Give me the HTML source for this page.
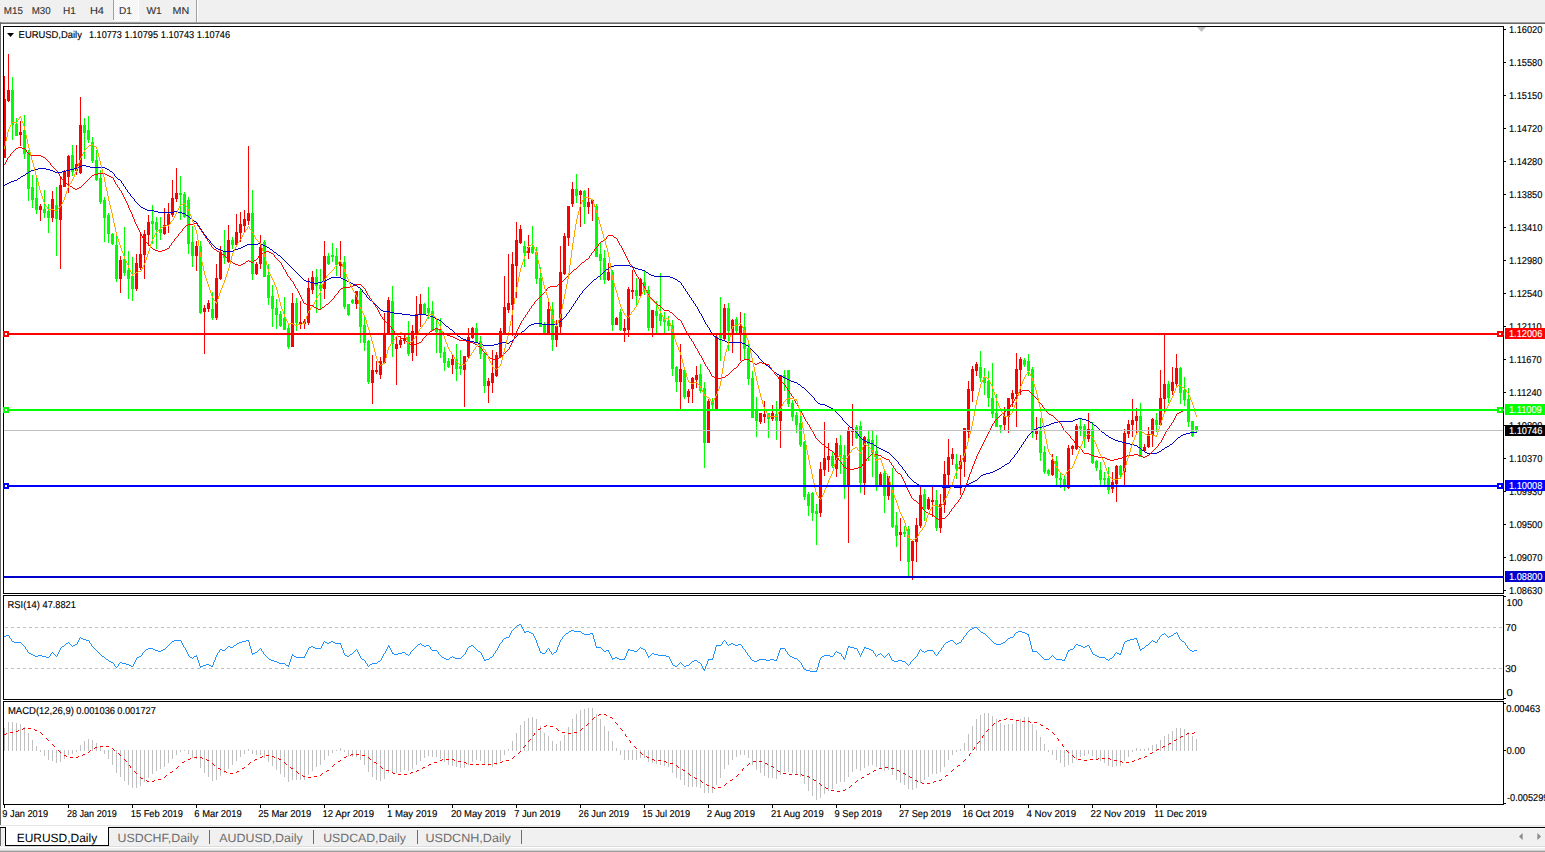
<!DOCTYPE html>
<html><head><meta charset="utf-8"><title>EURUSD,Daily</title>
<style>html,body{margin:0;padding:0;background:#fff;}body{width:1545px;height:852px;overflow:hidden;font-family:"Liberation Sans",sans-serif;}svg{display:block;}</style>
</head><body>
<svg width="1545" height="852" viewBox="0 0 1545 852" font-family="&quot;Liberation Sans&quot;, sans-serif" text-rendering="geometricPrecision"><rect x="0" y="0" width="1545" height="852" fill="#ffffff"/>
<rect x="0" y="0" width="1545" height="22" fill="#f0f0f0"/>
<rect x="0" y="22" width="1545" height="1" fill="#a0a0a0"/>
<rect x="0" y="23" width="1545" height="1" fill="#696969"/>
<rect x="0" y="22" width="1" height="803" fill="#696969"/>
<defs><pattern id="dith" width="2" height="2" patternUnits="userSpaceOnUse"><rect width="2" height="2" fill="#f0f0f0"/><rect width="1" height="1" fill="#ffffff"/><rect x="1" y="1" width="1" height="1" fill="#ffffff"/></pattern></defs>
<rect x="114" y="0" width="24" height="20" fill="url(#dith)"/>
<rect x="113" y="0" width="1" height="20" fill="#a0a0a0"/>
<rect x="138" y="0" width="1" height="21" fill="#ffffff"/>
<rect x="113" y="20" width="26" height="1" fill="#ffffff"/>
<rect x="196" y="0" width="1" height="22" fill="#a0a0a0"/>
<rect x="197" y="0" width="1" height="22" fill="#ffffff"/>
<text transform="translate(3.82,14) scale(0.9817,1.0)" font-size="10" fill="#333333" stroke="#333333" stroke-width="0.12">M15</text>
<text transform="translate(31.76,14) scale(0.9706,1.0)" font-size="10" fill="#333333" stroke="#333333" stroke-width="0.12">M30</text>
<text transform="translate(63.07,14) scale(1.0068,1.0)" font-size="10" fill="#333333" stroke="#333333" stroke-width="0.12">H1</text>
<text transform="translate(89.91,14) scale(1.0988,1.0)" font-size="10" fill="#333333" stroke="#333333" stroke-width="0.12">H4</text>
<text transform="translate(118.90,14) scale(1.0108,1.0)" font-size="10" fill="#333333" stroke="#333333" stroke-width="0.12">D1</text>
<text transform="translate(146.48,14) scale(1.0215,1.0)" font-size="10" fill="#333333" stroke="#333333" stroke-width="0.12">W1</text>
<text transform="translate(172.62,14) scale(1.0714,1.0)" font-size="10" fill="#333333" stroke="#333333" stroke-width="0.12">MN</text>
<rect x="3" y="26" width="1501" height="1" fill="#000"/>
<rect x="3" y="593" width="1501" height="1" fill="#000"/>
<rect x="3" y="26" width="1" height="568" fill="#000"/>
<rect x="1503" y="26" width="1" height="568" fill="#000"/>
<rect x="3" y="595" width="1501" height="1" fill="#000"/>
<rect x="3" y="699" width="1501" height="1" fill="#000"/>
<rect x="3" y="595" width="1" height="105" fill="#000"/>
<rect x="1503" y="595" width="1" height="105" fill="#000"/>
<rect x="3" y="701" width="1501" height="1" fill="#000"/>
<rect x="3" y="804" width="1501" height="1" fill="#000"/>
<rect x="3" y="701" width="1" height="104" fill="#000"/>
<rect x="1503" y="701" width="1" height="104" fill="#000"/>
<rect x="1504" y="29" width="2" height="1" fill="#000"/>
<text transform="translate(1508.97,33) scale(0.9248,1.0)" font-size="10" fill="#000" stroke="#000" stroke-width="0.14">1.16020</text>
<rect x="1504" y="62" width="2" height="1" fill="#000"/>
<text transform="translate(1508.97,66) scale(0.9248,1.0)" font-size="10" fill="#000" stroke="#000" stroke-width="0.14">1.15580</text>
<rect x="1504" y="95" width="2" height="1" fill="#000"/>
<text transform="translate(1508.97,99) scale(0.9248,1.0)" font-size="10" fill="#000" stroke="#000" stroke-width="0.14">1.15150</text>
<rect x="1504" y="128" width="2" height="1" fill="#000"/>
<text transform="translate(1508.97,132) scale(0.9248,1.0)" font-size="10" fill="#000" stroke="#000" stroke-width="0.14">1.14720</text>
<rect x="1504" y="161" width="2" height="1" fill="#000"/>
<text transform="translate(1508.97,165) scale(0.9248,1.0)" font-size="10" fill="#000" stroke="#000" stroke-width="0.14">1.14280</text>
<rect x="1504" y="194" width="2" height="1" fill="#000"/>
<text transform="translate(1508.97,198) scale(0.9248,1.0)" font-size="10" fill="#000" stroke="#000" stroke-width="0.14">1.13850</text>
<rect x="1504" y="227" width="2" height="1" fill="#000"/>
<text transform="translate(1508.97,231) scale(0.9248,1.0)" font-size="10" fill="#000" stroke="#000" stroke-width="0.14">1.13410</text>
<rect x="1504" y="260" width="2" height="1" fill="#000"/>
<text transform="translate(1508.97,264) scale(0.9248,1.0)" font-size="10" fill="#000" stroke="#000" stroke-width="0.14">1.12980</text>
<rect x="1504" y="293" width="2" height="1" fill="#000"/>
<text transform="translate(1508.97,297) scale(0.9248,1.0)" font-size="10" fill="#000" stroke="#000" stroke-width="0.14">1.12540</text>
<rect x="1504" y="326" width="2" height="1" fill="#000"/>
<text transform="translate(1508.97,330) scale(0.9248,1.0)" font-size="10" fill="#000" stroke="#000" stroke-width="0.14">1.12110</text>
<rect x="1504" y="359" width="2" height="1" fill="#000"/>
<text transform="translate(1508.97,363) scale(0.9248,1.0)" font-size="10" fill="#000" stroke="#000" stroke-width="0.14">1.11670</text>
<rect x="1504" y="392" width="2" height="1" fill="#000"/>
<text transform="translate(1508.97,396) scale(0.9248,1.0)" font-size="10" fill="#000" stroke="#000" stroke-width="0.14">1.11240</text>
<rect x="1504" y="425" width="2" height="1" fill="#000"/>
<text transform="translate(1508.97,429) scale(0.9248,1.0)" font-size="10" fill="#000" stroke="#000" stroke-width="0.14">1.10800</text>
<rect x="1504" y="458" width="2" height="1" fill="#000"/>
<text transform="translate(1508.97,462) scale(0.9248,1.0)" font-size="10" fill="#000" stroke="#000" stroke-width="0.14">1.10370</text>
<rect x="1504" y="491" width="2" height="1" fill="#000"/>
<text transform="translate(1508.97,495) scale(0.9248,1.0)" font-size="10" fill="#000" stroke="#000" stroke-width="0.14">1.09930</text>
<rect x="1504" y="524" width="2" height="1" fill="#000"/>
<text transform="translate(1508.97,528) scale(0.9248,1.0)" font-size="10" fill="#000" stroke="#000" stroke-width="0.14">1.09500</text>
<rect x="1504" y="557" width="2" height="1" fill="#000"/>
<text transform="translate(1508.97,561) scale(0.9248,1.0)" font-size="10" fill="#000" stroke="#000" stroke-width="0.14">1.09070</text>
<rect x="1504" y="590" width="2" height="1" fill="#000"/>
<text transform="translate(1508.97,594) scale(0.9248,1.0)" font-size="10" fill="#000" stroke="#000" stroke-width="0.14">1.08630</text>
<g shape-rendering="crispEdges"><rect x="4" y="76" width="1" height="82" fill="#ff0000"/><rect x="4" y="99" width="2" height="59" fill="#ff0000"/><rect x="8" y="54" width="1" height="48" fill="#ff0000"/><rect x="7" y="90" width="3" height="11" fill="#ff0000"/><rect x="12" y="77" width="1" height="63" fill="#00ff00"/><rect x="11" y="90" width="3" height="35" fill="#00ff00"/><rect x="16" y="118" width="1" height="18" fill="#00ff00"/><rect x="15" y="124" width="3" height="12" fill="#00ff00"/><rect x="20" y="121" width="1" height="25" fill="#ff0000"/><rect x="19" y="132" width="3" height="3" fill="#ff0000"/><rect x="24" y="115" width="1" height="44" fill="#00ff00"/><rect x="23" y="130" width="3" height="24" fill="#00ff00"/><rect x="28" y="150" width="1" height="51" fill="#00ff00"/><rect x="27" y="152" width="3" height="37" fill="#00ff00"/><rect x="32" y="175" width="1" height="33" fill="#00ff00"/><rect x="31" y="187" width="3" height="13" fill="#00ff00"/><rect x="36" y="178" width="1" height="36" fill="#00ff00"/><rect x="35" y="198" width="3" height="12" fill="#00ff00"/><rect x="40" y="204" width="1" height="17" fill="#ff0000"/><rect x="39" y="206" width="3" height="4" fill="#ff0000"/><rect x="44" y="190" width="1" height="28" fill="#00ff00"/><rect x="43" y="209" width="3" height="4" fill="#00ff00"/><rect x="48" y="204" width="1" height="29" fill="#00ff00"/><rect x="47" y="211" width="3" height="7" fill="#00ff00"/><rect x="52" y="191" width="1" height="31" fill="#ff0000"/><rect x="51" y="199" width="3" height="19" fill="#ff0000"/><rect x="56" y="187" width="1" height="69" fill="#00ff00"/><rect x="55" y="205" width="3" height="14" fill="#00ff00"/><rect x="60" y="177" width="1" height="92" fill="#ff0000"/><rect x="59" y="185" width="3" height="35" fill="#ff0000"/><rect x="64" y="170" width="1" height="17" fill="#ff0000"/><rect x="63" y="172" width="3" height="15" fill="#ff0000"/><rect x="68" y="155" width="1" height="38" fill="#ff0000"/><rect x="67" y="156" width="3" height="21" fill="#ff0000"/><rect x="72" y="145" width="1" height="31" fill="#00ff00"/><rect x="71" y="155" width="3" height="17" fill="#00ff00"/><rect x="76" y="145" width="1" height="30" fill="#ff0000"/><rect x="75" y="164" width="3" height="7" fill="#ff0000"/><rect x="80" y="97" width="1" height="77" fill="#ff0000"/><rect x="79" y="125" width="3" height="48" fill="#ff0000"/><rect x="84" y="118" width="1" height="41" fill="#00ff00"/><rect x="83" y="125" width="3" height="8" fill="#00ff00"/><rect x="88" y="116" width="1" height="27" fill="#00ff00"/><rect x="87" y="130" width="3" height="10" fill="#00ff00"/><rect x="92" y="137" width="1" height="26" fill="#00ff00"/><rect x="91" y="142" width="3" height="19" fill="#00ff00"/><rect x="96" y="150" width="1" height="31" fill="#00ff00"/><rect x="95" y="160" width="3" height="20" fill="#00ff00"/><rect x="100" y="170" width="1" height="34" fill="#00ff00"/><rect x="99" y="178" width="3" height="24" fill="#00ff00"/><rect x="104" y="197" width="1" height="45" fill="#00ff00"/><rect x="103" y="200" width="3" height="18" fill="#00ff00"/><rect x="108" y="213" width="1" height="30" fill="#00ff00"/><rect x="107" y="215" width="3" height="19" fill="#00ff00"/><rect x="112" y="233" width="1" height="12" fill="#00ff00"/><rect x="111" y="234" width="3" height="10" fill="#00ff00"/><rect x="116" y="236" width="1" height="46" fill="#00ff00"/><rect x="115" y="245" width="3" height="34" fill="#00ff00"/><rect x="120" y="256" width="1" height="37" fill="#ff0000"/><rect x="119" y="260" width="3" height="19" fill="#ff0000"/><rect x="124" y="227" width="1" height="49" fill="#00ff00"/><rect x="123" y="259" width="3" height="14" fill="#00ff00"/><rect x="128" y="251" width="1" height="48" fill="#00ff00"/><rect x="127" y="270" width="3" height="9" fill="#00ff00"/><rect x="132" y="257" width="1" height="44" fill="#00ff00"/><rect x="131" y="276" width="3" height="13" fill="#00ff00"/><rect x="136" y="254" width="1" height="37" fill="#ff0000"/><rect x="135" y="263" width="3" height="26" fill="#ff0000"/><rect x="140" y="234" width="1" height="36" fill="#ff0000"/><rect x="139" y="254" width="3" height="14" fill="#ff0000"/><rect x="144" y="230" width="1" height="49" fill="#ff0000"/><rect x="143" y="234" width="3" height="21" fill="#ff0000"/><rect x="148" y="215" width="1" height="31" fill="#ff0000"/><rect x="147" y="222" width="3" height="13" fill="#ff0000"/><rect x="152" y="205" width="1" height="39" fill="#00ff00"/><rect x="151" y="221" width="3" height="3" fill="#00ff00"/><rect x="156" y="217" width="1" height="32" fill="#00ff00"/><rect x="155" y="222" width="3" height="8" fill="#00ff00"/><rect x="160" y="217" width="1" height="23" fill="#00ff00"/><rect x="159" y="229" width="3" height="4" fill="#00ff00"/><rect x="164" y="208" width="1" height="27" fill="#ff0000"/><rect x="163" y="225" width="3" height="9" fill="#ff0000"/><rect x="168" y="203" width="1" height="30" fill="#ff0000"/><rect x="167" y="214" width="3" height="11" fill="#ff0000"/><rect x="172" y="180" width="1" height="37" fill="#ff0000"/><rect x="171" y="198" width="3" height="17" fill="#ff0000"/><rect x="176" y="168" width="1" height="34" fill="#ff0000"/><rect x="175" y="193" width="3" height="6" fill="#ff0000"/><rect x="180" y="176" width="1" height="44" fill="#00ff00"/><rect x="179" y="193" width="3" height="2" fill="#00ff00"/><rect x="184" y="192" width="1" height="26" fill="#00ff00"/><rect x="183" y="194" width="3" height="23" fill="#00ff00"/><rect x="188" y="197" width="1" height="57" fill="#00ff00"/><rect x="187" y="200" width="3" height="44" fill="#00ff00"/><rect x="192" y="226" width="1" height="41" fill="#00ff00"/><rect x="191" y="242" width="3" height="14" fill="#00ff00"/><rect x="196" y="241" width="1" height="30" fill="#ff0000"/><rect x="195" y="246" width="3" height="10" fill="#ff0000"/><rect x="200" y="241" width="1" height="73" fill="#00ff00"/><rect x="199" y="246" width="3" height="67" fill="#00ff00"/><rect x="204" y="305" width="1" height="49" fill="#ff0000"/><rect x="203" y="308" width="3" height="4" fill="#ff0000"/><rect x="208" y="300" width="1" height="12" fill="#ff0000"/><rect x="207" y="303" width="3" height="6" fill="#ff0000"/><rect x="212" y="292" width="1" height="28" fill="#00ff00"/><rect x="211" y="309" width="3" height="9" fill="#00ff00"/><rect x="216" y="264" width="1" height="56" fill="#ff0000"/><rect x="215" y="278" width="3" height="40" fill="#ff0000"/><rect x="220" y="246" width="1" height="34" fill="#ff0000"/><rect x="219" y="252" width="3" height="27" fill="#ff0000"/><rect x="224" y="230" width="1" height="34" fill="#00ff00"/><rect x="223" y="252" width="3" height="6" fill="#00ff00"/><rect x="228" y="225" width="1" height="38" fill="#ff0000"/><rect x="227" y="240" width="3" height="22" fill="#ff0000"/><rect x="232" y="237" width="1" height="12" fill="#00ff00"/><rect x="231" y="240" width="3" height="5" fill="#00ff00"/><rect x="236" y="214" width="1" height="31" fill="#ff0000"/><rect x="235" y="232" width="3" height="13" fill="#ff0000"/><rect x="240" y="212" width="1" height="30" fill="#ff0000"/><rect x="239" y="224" width="3" height="9" fill="#ff0000"/><rect x="244" y="210" width="1" height="22" fill="#ff0000"/><rect x="243" y="219" width="3" height="7" fill="#ff0000"/><rect x="248" y="146" width="1" height="79" fill="#ff0000"/><rect x="247" y="213" width="3" height="8" fill="#ff0000"/><rect x="252" y="190" width="1" height="90" fill="#00ff00"/><rect x="251" y="213" width="3" height="61" fill="#00ff00"/><rect x="256" y="262" width="1" height="13" fill="#ff0000"/><rect x="255" y="264" width="3" height="10" fill="#ff0000"/><rect x="260" y="235" width="1" height="34" fill="#ff0000"/><rect x="259" y="247" width="3" height="17" fill="#ff0000"/><rect x="264" y="240" width="1" height="37" fill="#00ff00"/><rect x="263" y="242" width="3" height="35" fill="#00ff00"/><rect x="268" y="264" width="1" height="41" fill="#00ff00"/><rect x="267" y="275" width="3" height="23" fill="#00ff00"/><rect x="272" y="285" width="1" height="42" fill="#00ff00"/><rect x="271" y="296" width="3" height="13" fill="#00ff00"/><rect x="276" y="299" width="1" height="30" fill="#00ff00"/><rect x="275" y="308" width="3" height="7" fill="#00ff00"/><rect x="280" y="311" width="1" height="16" fill="#00ff00"/><rect x="279" y="314" width="3" height="12" fill="#00ff00"/><rect x="284" y="297" width="1" height="33" fill="#00ff00"/><rect x="283" y="318" width="3" height="12" fill="#00ff00"/><rect x="288" y="324" width="1" height="25" fill="#00ff00"/><rect x="287" y="328" width="3" height="19" fill="#00ff00"/><rect x="292" y="293" width="1" height="54" fill="#ff0000"/><rect x="291" y="303" width="3" height="44" fill="#ff0000"/><rect x="296" y="298" width="1" height="33" fill="#00ff00"/><rect x="295" y="303" width="3" height="20" fill="#00ff00"/><rect x="300" y="301" width="1" height="28" fill="#ff0000"/><rect x="299" y="322" width="3" height="3" fill="#ff0000"/><rect x="304" y="319" width="1" height="10" fill="#ff0000"/><rect x="303" y="321" width="3" height="3" fill="#ff0000"/><rect x="308" y="278" width="1" height="47" fill="#ff0000"/><rect x="307" y="288" width="3" height="35" fill="#ff0000"/><rect x="312" y="271" width="1" height="23" fill="#ff0000"/><rect x="311" y="277" width="3" height="13" fill="#ff0000"/><rect x="316" y="269" width="1" height="44" fill="#00ff00"/><rect x="315" y="277" width="3" height="9" fill="#00ff00"/><rect x="320" y="269" width="1" height="40" fill="#00ff00"/><rect x="319" y="285" width="3" height="4" fill="#00ff00"/><rect x="324" y="241" width="1" height="58" fill="#ff0000"/><rect x="323" y="256" width="3" height="33" fill="#ff0000"/><rect x="328" y="253" width="1" height="12" fill="#00ff00"/><rect x="327" y="256" width="3" height="8" fill="#00ff00"/><rect x="332" y="243" width="1" height="19" fill="#00ff00"/><rect x="331" y="255" width="3" height="2" fill="#00ff00"/><rect x="336" y="248" width="1" height="28" fill="#00ff00"/><rect x="335" y="256" width="3" height="9" fill="#00ff00"/><rect x="340" y="241" width="1" height="36" fill="#ff0000"/><rect x="339" y="262" width="3" height="4" fill="#ff0000"/><rect x="344" y="256" width="1" height="53" fill="#00ff00"/><rect x="343" y="262" width="3" height="45" fill="#00ff00"/><rect x="348" y="304" width="1" height="12" fill="#00ff00"/><rect x="347" y="304" width="3" height="11" fill="#00ff00"/><rect x="352" y="299" width="1" height="5" fill="#00ff00"/><rect x="351" y="300" width="3" height="3" fill="#00ff00"/><rect x="356" y="291" width="1" height="18" fill="#ff0000"/><rect x="355" y="291" width="3" height="13" fill="#ff0000"/><rect x="360" y="289" width="1" height="54" fill="#00ff00"/><rect x="359" y="291" width="3" height="36" fill="#00ff00"/><rect x="364" y="316" width="1" height="35" fill="#00ff00"/><rect x="363" y="325" width="3" height="18" fill="#00ff00"/><rect x="368" y="340" width="1" height="44" fill="#00ff00"/><rect x="367" y="341" width="3" height="41" fill="#00ff00"/><rect x="372" y="355" width="1" height="49" fill="#ff0000"/><rect x="371" y="370" width="3" height="13" fill="#ff0000"/><rect x="376" y="361" width="1" height="13" fill="#ff0000"/><rect x="375" y="370" width="3" height="2" fill="#ff0000"/><rect x="380" y="357" width="1" height="22" fill="#ff0000"/><rect x="379" y="361" width="3" height="14" fill="#ff0000"/><rect x="384" y="313" width="1" height="50" fill="#ff0000"/><rect x="383" y="334" width="3" height="29" fill="#ff0000"/><rect x="388" y="297" width="1" height="38" fill="#ff0000"/><rect x="387" y="300" width="3" height="35" fill="#ff0000"/><rect x="392" y="286" width="1" height="71" fill="#00ff00"/><rect x="391" y="301" width="3" height="43" fill="#00ff00"/><rect x="396" y="336" width="1" height="49" fill="#ff0000"/><rect x="395" y="344" width="3" height="5" fill="#ff0000"/><rect x="400" y="336" width="1" height="12" fill="#ff0000"/><rect x="399" y="340" width="3" height="5" fill="#ff0000"/><rect x="404" y="333" width="1" height="11" fill="#ff0000"/><rect x="403" y="338" width="3" height="3" fill="#ff0000"/><rect x="408" y="321" width="1" height="35" fill="#00ff00"/><rect x="407" y="337" width="3" height="17" fill="#00ff00"/><rect x="412" y="325" width="1" height="36" fill="#ff0000"/><rect x="411" y="331" width="3" height="22" fill="#ff0000"/><rect x="416" y="296" width="1" height="60" fill="#ff0000"/><rect x="415" y="314" width="3" height="19" fill="#ff0000"/><rect x="420" y="294" width="1" height="33" fill="#ff0000"/><rect x="419" y="304" width="3" height="11" fill="#ff0000"/><rect x="424" y="303" width="1" height="12" fill="#00ff00"/><rect x="423" y="304" width="3" height="10" fill="#00ff00"/><rect x="428" y="287" width="1" height="32" fill="#00ff00"/><rect x="427" y="308" width="3" height="5" fill="#00ff00"/><rect x="432" y="301" width="1" height="30" fill="#00ff00"/><rect x="431" y="311" width="3" height="20" fill="#00ff00"/><rect x="436" y="318" width="1" height="35" fill="#00ff00"/><rect x="435" y="328" width="3" height="4" fill="#00ff00"/><rect x="440" y="318" width="1" height="40" fill="#00ff00"/><rect x="439" y="329" width="3" height="24" fill="#00ff00"/><rect x="444" y="347" width="1" height="24" fill="#00ff00"/><rect x="443" y="352" width="3" height="11" fill="#00ff00"/><rect x="448" y="358" width="1" height="10" fill="#00ff00"/><rect x="447" y="361" width="3" height="6" fill="#00ff00"/><rect x="452" y="355" width="1" height="19" fill="#ff0000"/><rect x="451" y="359" width="3" height="6" fill="#ff0000"/><rect x="456" y="344" width="1" height="37" fill="#00ff00"/><rect x="455" y="359" width="3" height="10" fill="#00ff00"/><rect x="460" y="350" width="1" height="25" fill="#00ff00"/><rect x="459" y="366" width="3" height="3" fill="#00ff00"/><rect x="464" y="356" width="1" height="51" fill="#ff0000"/><rect x="463" y="356" width="3" height="14" fill="#ff0000"/><rect x="468" y="328" width="1" height="30" fill="#ff0000"/><rect x="467" y="337" width="3" height="20" fill="#ff0000"/><rect x="472" y="327" width="1" height="12" fill="#ff0000"/><rect x="471" y="328" width="3" height="10" fill="#ff0000"/><rect x="476" y="323" width="1" height="20" fill="#00ff00"/><rect x="475" y="328" width="3" height="14" fill="#00ff00"/><rect x="480" y="336" width="1" height="23" fill="#00ff00"/><rect x="479" y="341" width="3" height="13" fill="#00ff00"/><rect x="484" y="353" width="1" height="40" fill="#00ff00"/><rect x="483" y="353" width="3" height="33" fill="#00ff00"/><rect x="488" y="378" width="1" height="25" fill="#ff0000"/><rect x="487" y="381" width="3" height="5" fill="#ff0000"/><rect x="492" y="350" width="1" height="43" fill="#ff0000"/><rect x="491" y="373" width="3" height="10" fill="#ff0000"/><rect x="496" y="352" width="1" height="25" fill="#ff0000"/><rect x="495" y="355" width="3" height="21" fill="#ff0000"/><rect x="500" y="328" width="1" height="29" fill="#ff0000"/><rect x="499" y="331" width="3" height="26" fill="#ff0000"/><rect x="504" y="276" width="1" height="58" fill="#ff0000"/><rect x="503" y="307" width="3" height="26" fill="#ff0000"/><rect x="508" y="254" width="1" height="59" fill="#ff0000"/><rect x="507" y="303" width="3" height="7" fill="#ff0000"/><rect x="512" y="252" width="1" height="84" fill="#ff0000"/><rect x="511" y="264" width="3" height="41" fill="#ff0000"/><rect x="516" y="222" width="1" height="76" fill="#ff0000"/><rect x="515" y="240" width="3" height="26" fill="#ff0000"/><rect x="520" y="225" width="1" height="19" fill="#ff0000"/><rect x="519" y="229" width="3" height="14" fill="#ff0000"/><rect x="524" y="241" width="1" height="26" fill="#00ff00"/><rect x="523" y="246" width="3" height="7" fill="#00ff00"/><rect x="528" y="235" width="1" height="24" fill="#ff0000"/><rect x="527" y="247" width="3" height="6" fill="#ff0000"/><rect x="532" y="226" width="1" height="28" fill="#00ff00"/><rect x="531" y="247" width="3" height="6" fill="#00ff00"/><rect x="536" y="247" width="1" height="37" fill="#00ff00"/><rect x="535" y="252" width="3" height="27" fill="#00ff00"/><rect x="540" y="267" width="1" height="60" fill="#00ff00"/><rect x="539" y="278" width="3" height="49" fill="#00ff00"/><rect x="544" y="322" width="1" height="12" fill="#00ff00"/><rect x="543" y="324" width="3" height="9" fill="#00ff00"/><rect x="548" y="301" width="1" height="33" fill="#ff0000"/><rect x="547" y="309" width="3" height="25" fill="#ff0000"/><rect x="552" y="302" width="1" height="49" fill="#00ff00"/><rect x="551" y="309" width="3" height="31" fill="#00ff00"/><rect x="556" y="320" width="1" height="27" fill="#ff0000"/><rect x="555" y="326" width="3" height="14" fill="#ff0000"/><rect x="560" y="246" width="1" height="87" fill="#ff0000"/><rect x="559" y="272" width="3" height="55" fill="#ff0000"/><rect x="564" y="233" width="1" height="42" fill="#ff0000"/><rect x="563" y="236" width="3" height="38" fill="#ff0000"/><rect x="568" y="206" width="1" height="40" fill="#ff0000"/><rect x="567" y="206" width="3" height="32" fill="#ff0000"/><rect x="572" y="182" width="1" height="25" fill="#ff0000"/><rect x="571" y="189" width="3" height="15" fill="#ff0000"/><rect x="576" y="174" width="1" height="29" fill="#00ff00"/><rect x="575" y="189" width="3" height="7" fill="#00ff00"/><rect x="580" y="190" width="1" height="37" fill="#ff0000"/><rect x="579" y="191" width="3" height="4" fill="#ff0000"/><rect x="584" y="190" width="1" height="34" fill="#00ff00"/><rect x="583" y="191" width="3" height="16" fill="#00ff00"/><rect x="588" y="188" width="1" height="26" fill="#ff0000"/><rect x="587" y="202" width="3" height="5" fill="#ff0000"/><rect x="592" y="199" width="1" height="22" fill="#ff0000"/><rect x="591" y="200" width="3" height="4" fill="#ff0000"/><rect x="596" y="204" width="1" height="53" fill="#00ff00"/><rect x="595" y="206" width="3" height="51" fill="#00ff00"/><rect x="600" y="243" width="1" height="37" fill="#00ff00"/><rect x="599" y="254" width="3" height="7" fill="#00ff00"/><rect x="604" y="250" width="1" height="34" fill="#00ff00"/><rect x="603" y="258" width="3" height="22" fill="#00ff00"/><rect x="608" y="263" width="1" height="18" fill="#ff0000"/><rect x="607" y="272" width="3" height="8" fill="#ff0000"/><rect x="612" y="270" width="1" height="61" fill="#00ff00"/><rect x="611" y="272" width="3" height="53" fill="#00ff00"/><rect x="616" y="317" width="1" height="8" fill="#ff0000"/><rect x="615" y="318" width="3" height="7" fill="#ff0000"/><rect x="620" y="309" width="1" height="22" fill="#00ff00"/><rect x="619" y="312" width="3" height="18" fill="#00ff00"/><rect x="624" y="319" width="1" height="23" fill="#ff0000"/><rect x="623" y="328" width="3" height="3" fill="#ff0000"/><rect x="628" y="287" width="1" height="50" fill="#ff0000"/><rect x="627" y="289" width="3" height="41" fill="#ff0000"/><rect x="632" y="270" width="1" height="29" fill="#ff0000"/><rect x="631" y="290" width="3" height="2" fill="#ff0000"/><rect x="636" y="278" width="1" height="28" fill="#00ff00"/><rect x="635" y="290" width="3" height="6" fill="#00ff00"/><rect x="640" y="278" width="1" height="18" fill="#ff0000"/><rect x="639" y="279" width="3" height="17" fill="#ff0000"/><rect x="644" y="271" width="1" height="24" fill="#00ff00"/><rect x="643" y="282" width="3" height="9" fill="#00ff00"/><rect x="648" y="286" width="1" height="45" fill="#00ff00"/><rect x="647" y="290" width="3" height="38" fill="#00ff00"/><rect x="652" y="310" width="1" height="27" fill="#ff0000"/><rect x="651" y="310" width="3" height="18" fill="#ff0000"/><rect x="656" y="301" width="1" height="32" fill="#00ff00"/><rect x="655" y="311" width="3" height="5" fill="#00ff00"/><rect x="660" y="273" width="1" height="53" fill="#00ff00"/><rect x="659" y="314" width="3" height="7" fill="#00ff00"/><rect x="664" y="312" width="1" height="22" fill="#00ff00"/><rect x="663" y="319" width="3" height="3" fill="#00ff00"/><rect x="668" y="316" width="1" height="15" fill="#00ff00"/><rect x="667" y="321" width="3" height="5" fill="#00ff00"/><rect x="672" y="320" width="1" height="56" fill="#00ff00"/><rect x="671" y="325" width="3" height="44" fill="#00ff00"/><rect x="676" y="366" width="1" height="26" fill="#00ff00"/><rect x="675" y="367" width="3" height="15" fill="#00ff00"/><rect x="680" y="344" width="1" height="66" fill="#ff0000"/><rect x="679" y="369" width="3" height="13" fill="#ff0000"/><rect x="684" y="368" width="1" height="31" fill="#00ff00"/><rect x="683" y="370" width="3" height="27" fill="#00ff00"/><rect x="688" y="389" width="1" height="14" fill="#ff0000"/><rect x="687" y="391" width="3" height="6" fill="#ff0000"/><rect x="692" y="377" width="1" height="26" fill="#ff0000"/><rect x="691" y="378" width="3" height="11" fill="#ff0000"/><rect x="696" y="366" width="1" height="22" fill="#ff0000"/><rect x="695" y="375" width="3" height="5" fill="#ff0000"/><rect x="700" y="364" width="1" height="29" fill="#00ff00"/><rect x="699" y="374" width="3" height="17" fill="#00ff00"/><rect x="704" y="382" width="1" height="86" fill="#00ff00"/><rect x="703" y="388" width="3" height="55" fill="#00ff00"/><rect x="708" y="399" width="1" height="44" fill="#ff0000"/><rect x="707" y="401" width="3" height="42" fill="#ff0000"/><rect x="712" y="398" width="1" height="12" fill="#00ff00"/><rect x="711" y="401" width="3" height="4" fill="#00ff00"/><rect x="716" y="334" width="1" height="75" fill="#ff0000"/><rect x="715" y="337" width="3" height="72" fill="#ff0000"/><rect x="720" y="297" width="1" height="64" fill="#00ff00"/><rect x="719" y="333" width="3" height="5" fill="#00ff00"/><rect x="724" y="304" width="1" height="36" fill="#ff0000"/><rect x="723" y="308" width="3" height="31" fill="#ff0000"/><rect x="728" y="303" width="1" height="48" fill="#00ff00"/><rect x="727" y="308" width="3" height="23" fill="#00ff00"/><rect x="732" y="319" width="1" height="34" fill="#ff0000"/><rect x="731" y="320" width="3" height="13" fill="#ff0000"/><rect x="736" y="317" width="1" height="16" fill="#00ff00"/><rect x="735" y="319" width="3" height="12" fill="#00ff00"/><rect x="740" y="312" width="1" height="49" fill="#ff0000"/><rect x="739" y="326" width="3" height="9" fill="#ff0000"/><rect x="744" y="313" width="1" height="47" fill="#00ff00"/><rect x="743" y="327" width="3" height="22" fill="#00ff00"/><rect x="748" y="344" width="1" height="41" fill="#00ff00"/><rect x="747" y="348" width="3" height="31" fill="#00ff00"/><rect x="752" y="371" width="1" height="47" fill="#00ff00"/><rect x="751" y="378" width="3" height="40" fill="#00ff00"/><rect x="756" y="397" width="1" height="40" fill="#00ff00"/><rect x="755" y="409" width="3" height="12" fill="#00ff00"/><rect x="760" y="413" width="1" height="11" fill="#ff0000"/><rect x="759" y="413" width="3" height="9" fill="#ff0000"/><rect x="764" y="401" width="1" height="22" fill="#ff0000"/><rect x="763" y="414" width="3" height="3" fill="#ff0000"/><rect x="768" y="413" width="1" height="25" fill="#00ff00"/><rect x="767" y="413" width="3" height="6" fill="#00ff00"/><rect x="772" y="405" width="1" height="16" fill="#ff0000"/><rect x="771" y="413" width="3" height="6" fill="#ff0000"/><rect x="776" y="401" width="1" height="39" fill="#00ff00"/><rect x="775" y="414" width="3" height="7" fill="#00ff00"/><rect x="780" y="375" width="1" height="73" fill="#ff0000"/><rect x="779" y="375" width="3" height="46" fill="#ff0000"/><rect x="784" y="370" width="1" height="21" fill="#00ff00"/><rect x="783" y="375" width="3" height="3" fill="#00ff00"/><rect x="788" y="370" width="1" height="37" fill="#00ff00"/><rect x="787" y="370" width="3" height="34" fill="#00ff00"/><rect x="792" y="400" width="1" height="21" fill="#00ff00"/><rect x="791" y="403" width="3" height="14" fill="#00ff00"/><rect x="796" y="412" width="1" height="21" fill="#00ff00"/><rect x="795" y="415" width="3" height="10" fill="#00ff00"/><rect x="800" y="410" width="1" height="37" fill="#00ff00"/><rect x="799" y="423" width="3" height="22" fill="#00ff00"/><rect x="804" y="441" width="1" height="59" fill="#00ff00"/><rect x="803" y="442" width="3" height="55" fill="#00ff00"/><rect x="808" y="492" width="1" height="24" fill="#00ff00"/><rect x="807" y="494" width="3" height="12" fill="#00ff00"/><rect x="812" y="492" width="1" height="29" fill="#00ff00"/><rect x="811" y="493" width="3" height="20" fill="#00ff00"/><rect x="816" y="504" width="1" height="41" fill="#00ff00"/><rect x="815" y="511" width="3" height="3" fill="#00ff00"/><rect x="820" y="462" width="1" height="55" fill="#ff0000"/><rect x="819" y="469" width="3" height="44" fill="#ff0000"/><rect x="824" y="422" width="1" height="54" fill="#ff0000"/><rect x="823" y="458" width="3" height="12" fill="#ff0000"/><rect x="828" y="443" width="1" height="29" fill="#ff0000"/><rect x="827" y="456" width="3" height="4" fill="#ff0000"/><rect x="832" y="451" width="1" height="17" fill="#00ff00"/><rect x="831" y="456" width="3" height="10" fill="#00ff00"/><rect x="836" y="438" width="1" height="39" fill="#ff0000"/><rect x="835" y="443" width="3" height="26" fill="#ff0000"/><rect x="840" y="435" width="1" height="39" fill="#00ff00"/><rect x="839" y="445" width="3" height="11" fill="#00ff00"/><rect x="844" y="445" width="1" height="54" fill="#00ff00"/><rect x="843" y="455" width="3" height="31" fill="#00ff00"/><rect x="848" y="427" width="1" height="116" fill="#ff0000"/><rect x="847" y="430" width="3" height="56" fill="#ff0000"/><rect x="852" y="404" width="1" height="42" fill="#ff0000"/><rect x="851" y="430" width="3" height="2" fill="#ff0000"/><rect x="856" y="425" width="1" height="14" fill="#00ff00"/><rect x="855" y="427" width="3" height="11" fill="#00ff00"/><rect x="860" y="421" width="1" height="72" fill="#00ff00"/><rect x="859" y="426" width="3" height="57" fill="#00ff00"/><rect x="864" y="436" width="1" height="59" fill="#ff0000"/><rect x="863" y="437" width="3" height="46" fill="#ff0000"/><rect x="868" y="430" width="1" height="31" fill="#00ff00"/><rect x="867" y="439" width="3" height="5" fill="#00ff00"/><rect x="872" y="431" width="1" height="46" fill="#00ff00"/><rect x="871" y="440" width="3" height="13" fill="#00ff00"/><rect x="876" y="435" width="1" height="56" fill="#00ff00"/><rect x="875" y="451" width="3" height="35" fill="#00ff00"/><rect x="880" y="472" width="1" height="15" fill="#ff0000"/><rect x="879" y="474" width="3" height="12" fill="#ff0000"/><rect x="884" y="471" width="1" height="42" fill="#00ff00"/><rect x="883" y="473" width="3" height="23" fill="#00ff00"/><rect x="888" y="476" width="1" height="24" fill="#ff0000"/><rect x="887" y="476" width="3" height="20" fill="#ff0000"/><rect x="892" y="468" width="1" height="60" fill="#00ff00"/><rect x="891" y="486" width="3" height="41" fill="#00ff00"/><rect x="896" y="512" width="1" height="35" fill="#00ff00"/><rect x="895" y="525" width="3" height="11" fill="#00ff00"/><rect x="900" y="518" width="1" height="43" fill="#ff0000"/><rect x="899" y="532" width="3" height="3" fill="#ff0000"/><rect x="904" y="526" width="1" height="11" fill="#00ff00"/><rect x="903" y="532" width="3" height="2" fill="#00ff00"/><rect x="908" y="526" width="1" height="50" fill="#00ff00"/><rect x="907" y="529" width="3" height="33" fill="#00ff00"/><rect x="912" y="540" width="1" height="40" fill="#ff0000"/><rect x="911" y="541" width="3" height="20" fill="#ff0000"/><rect x="916" y="518" width="1" height="44" fill="#ff0000"/><rect x="915" y="525" width="3" height="17" fill="#ff0000"/><rect x="920" y="487" width="1" height="41" fill="#ff0000"/><rect x="919" y="495" width="3" height="31" fill="#ff0000"/><rect x="924" y="489" width="1" height="32" fill="#00ff00"/><rect x="923" y="494" width="3" height="15" fill="#00ff00"/><rect x="928" y="497" width="1" height="13" fill="#ff0000"/><rect x="927" y="499" width="3" height="10" fill="#ff0000"/><rect x="932" y="487" width="1" height="30" fill="#ff0000"/><rect x="931" y="500" width="3" height="2" fill="#ff0000"/><rect x="936" y="490" width="1" height="41" fill="#00ff00"/><rect x="935" y="500" width="3" height="28" fill="#00ff00"/><rect x="940" y="494" width="1" height="39" fill="#ff0000"/><rect x="939" y="504" width="3" height="24" fill="#ff0000"/><rect x="944" y="461" width="1" height="52" fill="#ff0000"/><rect x="943" y="474" width="3" height="31" fill="#ff0000"/><rect x="948" y="439" width="1" height="47" fill="#ff0000"/><rect x="947" y="457" width="3" height="18" fill="#ff0000"/><rect x="952" y="448" width="1" height="17" fill="#ff0000"/><rect x="951" y="454" width="3" height="5" fill="#ff0000"/><rect x="956" y="454" width="1" height="25" fill="#00ff00"/><rect x="955" y="464" width="3" height="5" fill="#00ff00"/><rect x="960" y="455" width="1" height="40" fill="#ff0000"/><rect x="959" y="461" width="3" height="8" fill="#ff0000"/><rect x="964" y="428" width="1" height="49" fill="#ff0000"/><rect x="963" y="428" width="3" height="34" fill="#ff0000"/><rect x="968" y="381" width="1" height="58" fill="#ff0000"/><rect x="967" y="389" width="3" height="43" fill="#ff0000"/><rect x="972" y="366" width="1" height="36" fill="#ff0000"/><rect x="971" y="369" width="3" height="22" fill="#ff0000"/><rect x="976" y="362" width="1" height="14" fill="#ff0000"/><rect x="975" y="364" width="3" height="7" fill="#ff0000"/><rect x="980" y="351" width="1" height="31" fill="#00ff00"/><rect x="979" y="367" width="3" height="11" fill="#00ff00"/><rect x="984" y="368" width="1" height="27" fill="#00ff00"/><rect x="983" y="377" width="3" height="6" fill="#00ff00"/><rect x="988" y="371" width="1" height="36" fill="#00ff00"/><rect x="987" y="381" width="3" height="17" fill="#00ff00"/><rect x="992" y="363" width="1" height="55" fill="#00ff00"/><rect x="991" y="398" width="3" height="16" fill="#00ff00"/><rect x="996" y="394" width="1" height="33" fill="#00ff00"/><rect x="995" y="413" width="3" height="14" fill="#00ff00"/><rect x="1000" y="425" width="1" height="8" fill="#00ff00"/><rect x="999" y="425" width="3" height="2" fill="#00ff00"/><rect x="1004" y="407" width="1" height="24" fill="#ff0000"/><rect x="1003" y="416" width="3" height="9" fill="#ff0000"/><rect x="1008" y="398" width="1" height="35" fill="#ff0000"/><rect x="1007" y="398" width="3" height="19" fill="#ff0000"/><rect x="1012" y="390" width="1" height="17" fill="#ff0000"/><rect x="1011" y="393" width="3" height="6" fill="#ff0000"/><rect x="1016" y="353" width="1" height="74" fill="#ff0000"/><rect x="1015" y="369" width="3" height="25" fill="#ff0000"/><rect x="1020" y="357" width="1" height="38" fill="#ff0000"/><rect x="1019" y="359" width="3" height="11" fill="#ff0000"/><rect x="1024" y="358" width="1" height="9" fill="#00ff00"/><rect x="1023" y="360" width="3" height="5" fill="#00ff00"/><rect x="1028" y="354" width="1" height="22" fill="#00ff00"/><rect x="1027" y="361" width="3" height="10" fill="#00ff00"/><rect x="1032" y="367" width="1" height="71" fill="#00ff00"/><rect x="1031" y="369" width="3" height="64" fill="#00ff00"/><rect x="1036" y="417" width="1" height="23" fill="#ff0000"/><rect x="1035" y="430" width="3" height="4" fill="#ff0000"/><rect x="1040" y="418" width="1" height="43" fill="#00ff00"/><rect x="1039" y="430" width="3" height="23" fill="#00ff00"/><rect x="1044" y="446" width="1" height="28" fill="#00ff00"/><rect x="1043" y="452" width="3" height="20" fill="#00ff00"/><rect x="1048" y="469" width="1" height="7" fill="#00ff00"/><rect x="1047" y="470" width="3" height="4" fill="#00ff00"/><rect x="1052" y="454" width="1" height="22" fill="#ff0000"/><rect x="1051" y="460" width="3" height="15" fill="#ff0000"/><rect x="1056" y="456" width="1" height="29" fill="#00ff00"/><rect x="1055" y="461" width="3" height="17" fill="#00ff00"/><rect x="1060" y="473" width="1" height="15" fill="#00ff00"/><rect x="1059" y="478" width="3" height="2" fill="#00ff00"/><rect x="1064" y="476" width="1" height="15" fill="#00ff00"/><rect x="1063" y="479" width="3" height="7" fill="#00ff00"/><rect x="1068" y="445" width="1" height="44" fill="#ff0000"/><rect x="1067" y="448" width="3" height="40" fill="#ff0000"/><rect x="1072" y="445" width="1" height="10" fill="#ff0000"/><rect x="1071" y="446" width="3" height="3" fill="#ff0000"/><rect x="1076" y="424" width="1" height="26" fill="#ff0000"/><rect x="1075" y="426" width="3" height="23" fill="#ff0000"/><rect x="1080" y="419" width="1" height="17" fill="#00ff00"/><rect x="1079" y="426" width="3" height="3" fill="#00ff00"/><rect x="1084" y="424" width="1" height="24" fill="#00ff00"/><rect x="1083" y="426" width="3" height="13" fill="#00ff00"/><rect x="1088" y="413" width="1" height="29" fill="#ff0000"/><rect x="1087" y="429" width="3" height="10" fill="#ff0000"/><rect x="1092" y="422" width="1" height="42" fill="#00ff00"/><rect x="1091" y="429" width="3" height="34" fill="#00ff00"/><rect x="1096" y="460" width="1" height="11" fill="#00ff00"/><rect x="1095" y="461" width="3" height="7" fill="#00ff00"/><rect x="1100" y="462" width="1" height="23" fill="#00ff00"/><rect x="1099" y="470" width="3" height="10" fill="#00ff00"/><rect x="1104" y="472" width="1" height="13" fill="#00ff00"/><rect x="1103" y="478" width="3" height="2" fill="#00ff00"/><rect x="1108" y="467" width="1" height="27" fill="#00ff00"/><rect x="1107" y="478" width="3" height="12" fill="#00ff00"/><rect x="1112" y="472" width="1" height="21" fill="#ff0000"/><rect x="1111" y="482" width="3" height="7" fill="#ff0000"/><rect x="1116" y="465" width="1" height="37" fill="#ff0000"/><rect x="1115" y="466" width="3" height="18" fill="#ff0000"/><rect x="1120" y="465" width="1" height="12" fill="#00ff00"/><rect x="1119" y="466" width="3" height="9" fill="#00ff00"/><rect x="1124" y="429" width="1" height="56" fill="#ff0000"/><rect x="1123" y="433" width="3" height="39" fill="#ff0000"/><rect x="1128" y="420" width="1" height="18" fill="#ff0000"/><rect x="1127" y="424" width="3" height="10" fill="#ff0000"/><rect x="1132" y="399" width="1" height="38" fill="#ff0000"/><rect x="1131" y="420" width="3" height="5" fill="#ff0000"/><rect x="1136" y="408" width="1" height="26" fill="#ff0000"/><rect x="1135" y="416" width="3" height="5" fill="#ff0000"/><rect x="1140" y="403" width="1" height="54" fill="#00ff00"/><rect x="1139" y="416" width="3" height="41" fill="#00ff00"/><rect x="1144" y="444" width="1" height="8" fill="#ff0000"/><rect x="1143" y="447" width="3" height="4" fill="#ff0000"/><rect x="1148" y="427" width="1" height="21" fill="#ff0000"/><rect x="1147" y="434" width="3" height="13" fill="#ff0000"/><rect x="1152" y="418" width="1" height="29" fill="#ff0000"/><rect x="1151" y="419" width="3" height="16" fill="#ff0000"/><rect x="1156" y="413" width="1" height="19" fill="#00ff00"/><rect x="1155" y="420" width="3" height="5" fill="#00ff00"/><rect x="1160" y="370" width="1" height="55" fill="#ff0000"/><rect x="1159" y="398" width="3" height="27" fill="#ff0000"/><rect x="1164" y="334" width="1" height="79" fill="#ff0000"/><rect x="1163" y="384" width="3" height="15" fill="#ff0000"/><rect x="1168" y="381" width="1" height="22" fill="#00ff00"/><rect x="1167" y="384" width="3" height="14" fill="#00ff00"/><rect x="1172" y="367" width="1" height="28" fill="#ff0000"/><rect x="1171" y="382" width="3" height="9" fill="#ff0000"/><rect x="1176" y="354" width="1" height="33" fill="#ff0000"/><rect x="1175" y="368" width="3" height="16" fill="#ff0000"/><rect x="1180" y="367" width="1" height="37" fill="#00ff00"/><rect x="1179" y="368" width="3" height="25" fill="#00ff00"/><rect x="1184" y="377" width="1" height="29" fill="#00ff00"/><rect x="1183" y="390" width="3" height="10" fill="#00ff00"/><rect x="1188" y="388" width="1" height="39" fill="#00ff00"/><rect x="1187" y="399" width="3" height="23" fill="#00ff00"/><rect x="1192" y="421" width="1" height="16" fill="#00ff00"/><rect x="1191" y="421" width="3" height="15" fill="#00ff00"/><rect x="1196" y="426" width="1" height="6" fill="#00ff00"/><rect x="1195" y="426" width="3" height="5" fill="#00ff00"/></g>
<clipPath id="cm"><rect x="4" y="27" width="1499" height="566"/></clipPath>
<g clip-path="url(#cm)">
<path d="M4 185h1v1h-1zM5 184h1v1h-1zM6 184h1v1h-1zM7 183h1v1h-1zM8 183h1v1h-1zM9 182h1v1h-1zM10 182h1v1h-1zM11 181h1v1h-1zM12 181h1v1h-1zM13 181h1v1h-1zM14 180h1v1h-1zM15 180h1v1h-1zM16 180h1v1h-1zM17 179h1v1h-1zM18 178h1v1h-1zM19 178h1v1h-1zM20 177h1v1h-1zM21 176h1v1h-1zM22 176h1v1h-1zM23 175h1v1h-1zM24 175h1v1h-1zM25 174h1v1h-1zM26 173h1v1h-1zM27 173h1v1h-1zM28 172h1v1h-1zM29 171h1v1h-1zM30 171h1v1h-1zM31 170h1v1h-1zM32 170h1v1h-1zM33 170h1v1h-1zM34 169h1v1h-1zM35 169h1v1h-1zM36 169h1v1h-1zM37 169h1v1h-1zM38 168h1v1h-1zM39 168h1v1h-1zM40 168h1v1h-1zM41 168h1v1h-1zM42 168h1v1h-1zM43 168h1v1h-1zM44 168h1v1h-1zM45 168h1v1h-1zM46 169h1v1h-1zM47 169h1v1h-1zM48 169h1v1h-1zM49 169h1v1h-1zM50 170h1v1h-1zM51 170h1v1h-1zM52 170h1v1h-1zM53 171h1v1h-1zM54 171h1v1h-1zM55 172h1v1h-1zM56 172h1v1h-1zM57 172h1v1h-1zM58 172h1v1h-1zM59 172h1v1h-1zM60 172h1v1h-1zM61 172h1v1h-1zM62 171h1v1h-1zM63 171h1v1h-1zM64 171h1v1h-1zM65 171h1v1h-1zM66 170h1v1h-1zM67 170h1v1h-1zM68 170h1v1h-1zM69 170h1v1h-1zM70 169h1v1h-1zM71 169h1v1h-1zM72 169h1v1h-1zM73 169h1v1h-1zM74 168h1v1h-1zM75 168h1v1h-1zM76 168h1v1h-1zM77 167h1v1h-1zM78 167h1v1h-1zM79 166h1v1h-1zM80 166h1v1h-1zM81 166h1v1h-1zM82 165h1v1h-1zM83 165h1v1h-1zM84 165h1v1h-1zM85 165h1v1h-1zM86 166h1v1h-1zM87 166h1v1h-1zM88 166h1v1h-1zM89 166h1v1h-1zM90 167h1v1h-1zM91 167h1v1h-1zM92 167h1v1h-1zM93 167h1v1h-1zM94 167h1v1h-1zM95 167h1v1h-1zM96 167h1v1h-1zM97 167h1v1h-1zM98 167h1v1h-1zM99 167h1v1h-1zM100 167h1v1h-1zM101 167h1v1h-1zM102 167h1v1h-1zM103 167h1v1h-1zM104 167h1v1h-1zM105 168h1v1h-1zM106 168h1v1h-1zM107 169h1v1h-1zM108 169h1v1h-1zM109 170h1v1h-1zM110 171h1v1h-1zM111 171h1v1h-1zM112 172h1v1h-1zM113 173h1v1h-1zM114 174h1v2h-1zM115 176h1v1h-1zM116 177h1v1h-1zM117 178h1v1h-1zM118 179h1v1h-1zM119 179h1v1h-1zM120 180h1v1h-1zM121 181h1v2h-1zM122 183h1v1h-1zM123 184h1v2h-1zM124 186h1v1h-1zM125 187h1v2h-1zM126 189h1v1h-1zM127 190h1v2h-1zM128 192h1v1h-1zM129 193h1v1h-1zM130 194h1v2h-1zM131 196h1v1h-1zM132 197h1v1h-1zM133 198h1v1h-1zM134 199h1v2h-1zM135 201h1v1h-1zM136 202h1v1h-1zM137 203h1v1h-1zM138 204h1v1h-1zM139 205h1v1h-1zM140 206h1v1h-1zM141 207h1v1h-1zM142 207h1v1h-1zM143 208h1v1h-1zM144 208h1v1h-1zM145 209h1v1h-1zM146 209h1v1h-1zM147 210h1v1h-1zM148 210h1v1h-1zM149 210h1v1h-1zM150 210h1v1h-1zM151 210h1v1h-1zM152 210h1v1h-1zM153 210h1v1h-1zM154 211h1v1h-1zM155 211h1v1h-1zM156 211h1v1h-1zM157 211h1v1h-1zM158 212h1v1h-1zM159 212h1v1h-1zM160 212h1v1h-1zM161 212h1v1h-1zM162 212h1v1h-1zM163 212h1v1h-1zM164 212h1v1h-1zM165 212h1v1h-1zM166 212h1v1h-1zM167 212h1v1h-1zM168 212h1v1h-1zM169 212h1v1h-1zM170 212h1v1h-1zM171 212h1v1h-1zM172 212h1v1h-1zM173 212h1v1h-1zM174 211h1v1h-1zM175 211h1v1h-1zM176 211h1v1h-1zM177 211h1v1h-1zM178 212h1v1h-1zM179 212h1v1h-1zM180 212h1v1h-1zM181 212h1v1h-1zM182 213h1v1h-1zM183 213h1v1h-1zM184 213h1v1h-1zM185 214h1v1h-1zM186 215h1v1h-1zM187 215h1v1h-1zM188 216h1v1h-1zM189 217h1v1h-1zM190 218h1v1h-1zM191 218h1v1h-1zM192 219h1v1h-1zM193 220h1v1h-1zM194 221h1v1h-1zM195 221h1v1h-1zM196 222h1v1h-1zM197 223h1v2h-1zM198 225h1v1h-1zM199 226h1v2h-1zM200 228h1v1h-1zM201 229h1v2h-1zM202 231h1v1h-1zM203 232h1v2h-1zM204 234h1v1h-1zM205 235h1v1h-1zM206 236h1v2h-1zM207 238h1v1h-1zM208 239h1v1h-1zM209 240h1v1h-1zM210 241h1v2h-1zM211 243h1v1h-1zM212 244h1v1h-1zM213 245h1v1h-1zM214 246h1v1h-1zM215 247h1v1h-1zM216 248h1v1h-1zM217 248h1v1h-1zM218 249h1v1h-1zM219 249h1v1h-1zM220 249h1v1h-1zM221 250h1v1h-1zM222 250h1v1h-1zM223 251h1v1h-1zM224 251h1v1h-1zM225 251h1v1h-1zM226 251h1v1h-1zM227 251h1v1h-1zM228 251h1v1h-1zM229 251h1v1h-1zM230 251h1v1h-1zM231 251h1v1h-1zM232 251h1v1h-1zM233 250h1v1h-1zM234 250h1v1h-1zM235 249h1v1h-1zM236 249h1v1h-1zM237 249h1v1h-1zM238 248h1v1h-1zM239 248h1v1h-1zM240 248h1v1h-1zM241 247h1v1h-1zM242 247h1v1h-1zM243 246h1v1h-1zM244 246h1v1h-1zM245 245h1v1h-1zM246 245h1v1h-1zM247 244h1v1h-1zM248 244h1v1h-1zM249 244h1v1h-1zM250 244h1v1h-1zM251 244h1v1h-1zM252 244h1v1h-1zM253 244h1v1h-1zM254 244h1v1h-1zM255 244h1v1h-1zM256 244h1v1h-1zM257 244h1v1h-1zM258 243h1v1h-1zM259 243h1v1h-1zM260 243h1v1h-1zM261 244h1v1h-1zM262 244h1v1h-1zM263 245h1v1h-1zM264 245h1v1h-1zM265 246h1v1h-1zM266 246h1v1h-1zM267 247h1v1h-1zM268 247h1v1h-1zM269 248h1v1h-1zM270 249h1v1h-1zM271 249h1v1h-1zM272 250h1v1h-1zM273 251h1v1h-1zM274 252h1v1h-1zM275 252h1v1h-1zM276 253h1v1h-1zM277 254h1v1h-1zM278 255h1v1h-1zM279 255h1v1h-1zM280 256h1v1h-1zM281 257h1v1h-1zM282 258h1v1h-1zM283 259h1v1h-1zM284 260h1v1h-1zM285 261h1v1h-1zM286 262h1v1h-1zM287 263h1v1h-1zM288 264h1v1h-1zM289 265h1v1h-1zM290 266h1v1h-1zM291 267h1v1h-1zM292 268h1v1h-1zM293 269h1v1h-1zM294 270h1v1h-1zM295 271h1v1h-1zM296 272h1v1h-1zM297 273h1v1h-1zM298 274h1v1h-1zM299 275h1v1h-1zM300 276h1v1h-1zM301 277h1v1h-1zM302 278h1v1h-1zM303 279h1v1h-1zM304 280h1v1h-1zM305 280h1v1h-1zM306 281h1v1h-1zM307 281h1v1h-1zM308 281h1v1h-1zM309 281h1v1h-1zM310 282h1v1h-1zM311 282h1v1h-1zM312 282h1v1h-1zM313 282h1v1h-1zM314 283h1v1h-1zM315 283h1v1h-1zM316 283h1v1h-1zM317 283h1v1h-1zM318 282h1v1h-1zM319 282h1v1h-1zM320 282h1v1h-1zM321 282h1v1h-1zM322 281h1v1h-1zM323 281h1v1h-1zM324 281h1v1h-1zM325 280h1v1h-1zM326 280h1v1h-1zM327 279h1v1h-1zM328 279h1v1h-1zM329 278h1v1h-1zM330 278h1v1h-1zM331 277h1v1h-1zM332 277h1v1h-1zM333 277h1v1h-1zM334 277h1v1h-1zM335 277h1v1h-1zM336 277h1v1h-1zM337 277h1v1h-1zM338 277h1v1h-1zM339 277h1v1h-1zM340 277h1v1h-1zM341 278h1v1h-1zM342 278h1v1h-1zM343 279h1v1h-1zM344 279h1v1h-1zM345 280h1v1h-1zM346 280h1v1h-1zM347 281h1v1h-1zM348 281h1v1h-1zM349 282h1v1h-1zM350 282h1v1h-1zM351 283h1v1h-1zM352 283h1v1h-1zM353 284h1v1h-1zM354 284h1v1h-1zM355 285h1v1h-1zM356 285h1v1h-1zM357 286h1v1h-1zM358 287h1v1h-1zM359 287h1v1h-1zM360 288h1v1h-1zM361 289h1v1h-1zM362 290h1v2h-1zM363 292h1v1h-1zM364 293h1v1h-1zM365 294h1v1h-1zM366 295h1v2h-1zM367 297h1v1h-1zM368 298h1v1h-1zM369 299h1v1h-1zM370 300h1v1h-1zM371 300h1v1h-1zM372 301h1v1h-1zM373 302h1v1h-1zM374 303h1v1h-1zM375 304h1v1h-1zM376 305h1v1h-1zM377 306h1v1h-1zM378 307h1v1h-1zM379 308h1v1h-1zM380 309h1v1h-1zM381 310h1v1h-1zM382 310h1v1h-1zM383 311h1v1h-1zM384 311h1v1h-1zM385 311h1v1h-1zM386 311h1v1h-1zM387 311h1v1h-1zM388 311h1v1h-1zM389 311h1v1h-1zM390 312h1v1h-1zM391 312h1v1h-1zM392 312h1v1h-1zM393 312h1v1h-1zM394 313h1v1h-1zM395 313h1v1h-1zM396 313h1v1h-1zM397 313h1v1h-1zM398 313h1v1h-1zM399 313h1v1h-1zM400 313h1v1h-1zM401 313h1v1h-1zM402 314h1v1h-1zM403 314h1v1h-1zM404 314h1v1h-1zM405 314h1v1h-1zM406 314h1v1h-1zM407 314h1v1h-1zM408 314h1v1h-1zM409 314h1v1h-1zM410 315h1v1h-1zM411 315h1v1h-1zM412 315h1v1h-1zM413 315h1v1h-1zM414 315h1v1h-1zM415 315h1v1h-1zM416 315h1v1h-1zM417 315h1v1h-1zM418 314h1v1h-1zM419 314h1v1h-1zM420 314h1v1h-1zM421 314h1v1h-1zM422 314h1v1h-1zM423 314h1v1h-1zM424 314h1v1h-1zM425 314h1v1h-1zM426 315h1v1h-1zM427 315h1v1h-1zM428 315h1v1h-1zM429 315h1v1h-1zM430 316h1v1h-1zM431 316h1v1h-1zM432 316h1v1h-1zM433 317h1v1h-1zM434 317h1v1h-1zM435 318h1v1h-1zM436 318h1v1h-1zM437 319h1v1h-1zM438 319h1v1h-1zM439 320h1v1h-1zM440 320h1v1h-1zM441 321h1v1h-1zM442 322h1v1h-1zM443 323h1v1h-1zM444 324h1v1h-1zM445 325h1v1h-1zM446 326h1v1h-1zM447 326h1v1h-1zM448 327h1v1h-1zM449 328h1v1h-1zM450 329h1v1h-1zM451 329h1v1h-1zM452 330h1v1h-1zM453 331h1v1h-1zM454 332h1v1h-1zM455 333h1v1h-1zM456 334h1v1h-1zM457 335h1v1h-1zM458 336h1v1h-1zM459 336h1v1h-1zM460 337h1v1h-1zM461 338h1v1h-1zM462 338h1v1h-1zM463 339h1v1h-1zM464 339h1v1h-1zM465 339h1v1h-1zM466 340h1v1h-1zM467 340h1v1h-1zM468 340h1v1h-1zM469 340h1v1h-1zM470 341h1v1h-1zM471 341h1v1h-1zM472 341h1v1h-1zM473 341h1v1h-1zM474 342h1v1h-1zM475 342h1v1h-1zM476 342h1v1h-1zM477 342h1v1h-1zM478 343h1v1h-1zM479 343h1v1h-1zM480 343h1v1h-1zM481 344h1v1h-1zM482 344h1v1h-1zM483 345h1v1h-1zM484 345h1v1h-1zM485 345h1v1h-1zM486 345h1v1h-1zM487 345h1v1h-1zM488 345h1v1h-1zM489 345h1v1h-1zM490 345h1v1h-1zM491 345h1v1h-1zM492 345h1v1h-1zM493 345h1v1h-1zM494 344h1v1h-1zM495 344h1v1h-1zM496 344h1v1h-1zM497 344h1v1h-1zM498 343h1v1h-1zM499 343h1v1h-1zM500 343h1v1h-1zM501 343h1v1h-1zM502 342h1v1h-1zM503 342h1v1h-1zM504 342h1v1h-1zM505 342h1v1h-1zM506 343h1v1h-1zM507 343h1v1h-1zM508 343h1v1h-1zM509 342h1v1h-1zM510 341h1v1h-1zM511 341h1v1h-1zM512 340h1v1h-1zM513 339h1v1h-1zM514 338h1v1h-1zM515 337h1v1h-1zM516 336h1v1h-1zM517 335h1v1h-1zM518 334h1v1h-1zM519 334h1v1h-1zM520 333h1v1h-1zM521 332h1v1h-1zM522 331h1v1h-1zM523 331h1v1h-1zM524 330h1v1h-1zM525 329h1v1h-1zM526 328h1v1h-1zM527 327h1v1h-1zM528 326h1v1h-1zM529 325h1v1h-1zM530 325h1v1h-1zM531 324h1v1h-1zM532 324h1v1h-1zM533 324h1v1h-1zM534 323h1v1h-1zM535 323h1v1h-1zM536 323h1v1h-1zM537 323h1v1h-1zM538 323h1v1h-1zM539 323h1v1h-1zM540 323h1v1h-1zM541 323h1v1h-1zM542 324h1v1h-1zM543 324h1v1h-1zM544 324h1v1h-1zM545 324h1v1h-1zM546 324h1v1h-1zM547 324h1v1h-1zM548 324h1v1h-1zM549 324h1v1h-1zM550 324h1v1h-1zM551 324h1v1h-1zM552 324h1v1h-1zM553 324h1v1h-1zM554 324h1v1h-1zM555 324h1v1h-1zM556 324h1v1h-1zM557 323h1v1h-1zM558 322h1v1h-1zM559 322h1v1h-1zM560 321h1v1h-1zM561 320h1v1h-1zM562 319h1v1h-1zM563 318h1v1h-1zM564 317h1v1h-1zM565 316h1v1h-1zM566 314h1v2h-1zM567 313h1v1h-1zM568 312h1v1h-1zM569 310h1v2h-1zM570 309h1v1h-1zM571 307h1v2h-1zM572 306h1v1h-1zM573 304h1v2h-1zM574 303h1v1h-1zM575 301h1v2h-1zM576 300h1v1h-1zM577 298h1v2h-1zM578 297h1v1h-1zM579 295h1v2h-1zM580 294h1v1h-1zM581 293h1v1h-1zM582 291h1v2h-1zM583 290h1v1h-1zM584 289h1v1h-1zM585 288h1v1h-1zM586 287h1v1h-1zM587 286h1v1h-1zM588 285h1v1h-1zM589 284h1v1h-1zM590 283h1v1h-1zM591 282h1v1h-1zM592 281h1v1h-1zM593 280h1v1h-1zM594 279h1v1h-1zM595 279h1v1h-1zM596 278h1v1h-1zM597 277h1v1h-1zM598 276h1v1h-1zM599 276h1v1h-1zM600 275h1v1h-1zM601 274h1v1h-1zM602 273h1v1h-1zM603 272h1v1h-1zM604 271h1v1h-1zM605 270h1v1h-1zM606 269h1v1h-1zM607 269h1v1h-1zM608 268h1v1h-1zM609 267h1v1h-1zM610 267h1v1h-1zM611 266h1v1h-1zM612 266h1v1h-1zM613 266h1v1h-1zM614 265h1v1h-1zM615 265h1v1h-1zM616 265h1v1h-1zM617 265h1v1h-1zM618 265h1v1h-1zM619 265h1v1h-1zM620 265h1v1h-1zM621 265h1v1h-1zM622 265h1v1h-1zM623 265h1v1h-1zM624 265h1v1h-1zM625 265h1v1h-1zM626 265h1v1h-1zM627 265h1v1h-1zM628 265h1v1h-1zM629 265h1v1h-1zM630 266h1v1h-1zM631 266h1v1h-1zM632 266h1v1h-1zM633 267h1v1h-1zM634 267h1v1h-1zM635 268h1v1h-1zM636 268h1v1h-1zM637 268h1v1h-1zM638 269h1v1h-1zM639 269h1v1h-1zM640 269h1v1h-1zM641 269h1v1h-1zM642 270h1v1h-1zM643 270h1v1h-1zM644 270h1v1h-1zM645 271h1v1h-1zM646 272h1v1h-1zM647 272h1v1h-1zM648 273h1v1h-1zM649 274h1v1h-1zM650 274h1v1h-1zM651 275h1v1h-1zM652 275h1v1h-1zM653 275h1v1h-1zM654 276h1v1h-1zM655 276h1v1h-1zM656 276h1v1h-1zM657 276h1v1h-1zM658 276h1v1h-1zM659 276h1v1h-1zM660 276h1v1h-1zM661 276h1v1h-1zM662 276h1v1h-1zM663 276h1v1h-1zM664 276h1v1h-1zM665 276h1v1h-1zM666 276h1v1h-1zM667 276h1v1h-1zM668 276h1v1h-1zM669 276h1v1h-1zM670 277h1v1h-1zM671 277h1v1h-1zM672 277h1v1h-1zM673 278h1v1h-1zM674 278h1v1h-1zM675 279h1v1h-1zM676 279h1v1h-1zM677 280h1v1h-1zM678 281h1v1h-1zM679 281h1v1h-1zM680 282h1v1h-1zM681 283h1v2h-1zM682 285h1v1h-1zM683 286h1v2h-1zM684 288h1v1h-1zM685 289h1v2h-1zM686 291h1v1h-1zM687 292h1v2h-1zM688 294h1v1h-1zM689 295h1v2h-1zM690 297h1v1h-1zM691 298h1v2h-1zM692 300h1v1h-1zM693 301h1v2h-1zM694 303h1v1h-1zM695 304h1v2h-1zM696 306h1v1h-1zM697 307h1v2h-1zM698 309h1v2h-1zM699 311h1v2h-1zM700 313h1v1h-1zM701 314h1v2h-1zM702 316h1v2h-1zM703 318h1v2h-1zM704 320h1v2h-1zM705 322h1v2h-1zM706 324h1v1h-1zM707 325h1v2h-1zM708 327h1v1h-1zM709 328h1v2h-1zM710 330h1v2h-1zM711 332h1v2h-1zM712 334h1v1h-1zM713 335h1v1h-1zM714 336h1v1h-1zM715 336h1v1h-1zM716 337h1v1h-1zM717 338h1v1h-1zM718 338h1v1h-1zM719 339h1v1h-1zM720 339h1v1h-1zM721 339h1v1h-1zM722 340h1v1h-1zM723 340h1v1h-1zM724 340h1v1h-1zM725 341h1v1h-1zM726 341h1v1h-1zM727 342h1v1h-1zM728 342h1v1h-1zM729 342h1v1h-1zM730 342h1v1h-1zM731 342h1v1h-1zM732 342h1v1h-1zM733 342h1v1h-1zM734 342h1v1h-1zM735 342h1v1h-1zM736 342h1v1h-1zM737 342h1v1h-1zM738 342h1v1h-1zM739 342h1v1h-1zM740 342h1v1h-1zM741 342h1v1h-1zM742 343h1v1h-1zM743 343h1v1h-1zM744 343h1v1h-1zM745 344h1v1h-1zM746 345h1v1h-1zM747 345h1v1h-1zM748 346h1v1h-1zM749 347h1v1h-1zM750 348h1v1h-1zM751 349h1v1h-1zM752 350h1v1h-1zM753 351h1v1h-1zM754 352h1v1h-1zM755 353h1v1h-1zM756 354h1v1h-1zM757 355h1v1h-1zM758 356h1v2h-1zM759 358h1v1h-1zM760 359h1v1h-1zM761 360h1v1h-1zM762 361h1v1h-1zM763 362h1v1h-1zM764 363h1v1h-1zM765 364h1v1h-1zM766 365h1v1h-1zM767 365h1v1h-1zM768 366h1v1h-1zM769 367h1v1h-1zM770 368h1v1h-1zM771 369h1v1h-1zM772 370h1v1h-1zM773 371h1v1h-1zM774 372h1v1h-1zM775 372h1v1h-1zM776 373h1v1h-1zM777 374h1v1h-1zM778 374h1v1h-1zM779 375h1v1h-1zM780 375h1v1h-1zM781 376h1v1h-1zM782 376h1v1h-1zM783 377h1v1h-1zM784 377h1v1h-1zM785 378h1v1h-1zM786 378h1v1h-1zM787 379h1v1h-1zM788 379h1v1h-1zM789 380h1v1h-1zM790 380h1v1h-1zM791 381h1v1h-1zM792 381h1v1h-1zM793 381h1v1h-1zM794 382h1v1h-1zM795 382h1v1h-1zM796 382h1v1h-1zM797 383h1v1h-1zM798 384h1v1h-1zM799 384h1v1h-1zM800 385h1v1h-1zM801 386h1v1h-1zM802 387h1v1h-1zM803 387h1v1h-1zM804 388h1v1h-1zM805 389h1v1h-1zM806 390h1v1h-1zM807 391h1v1h-1zM808 392h1v1h-1zM809 393h1v1h-1zM810 394h1v1h-1zM811 395h1v1h-1zM812 396h1v1h-1zM813 397h1v1h-1zM814 398h1v2h-1zM815 400h1v1h-1zM816 401h1v1h-1zM817 402h1v1h-1zM818 403h1v1h-1zM819 403h1v1h-1zM820 404h1v1h-1zM821 404h1v1h-1zM822 404h1v1h-1zM823 404h1v1h-1zM824 404h1v1h-1zM825 405h1v1h-1zM826 405h1v1h-1zM827 406h1v1h-1zM828 406h1v1h-1zM829 407h1v1h-1zM830 407h1v1h-1zM831 408h1v1h-1zM832 408h1v1h-1zM833 409h1v1h-1zM834 410h1v1h-1zM835 411h1v1h-1zM836 412h1v1h-1zM837 413h1v1h-1zM838 414h1v1h-1zM839 415h1v1h-1zM840 416h1v1h-1zM841 417h1v1h-1zM842 418h1v2h-1zM843 420h1v1h-1zM844 421h1v1h-1zM845 422h1v1h-1zM846 423h1v1h-1zM847 424h1v1h-1zM848 425h1v1h-1zM849 426h1v1h-1zM850 427h1v1h-1zM851 427h1v1h-1zM852 428h1v1h-1zM853 429h1v1h-1zM854 430h1v1h-1zM855 431h1v1h-1zM856 432h1v1h-1zM857 433h1v1h-1zM858 434h1v2h-1zM859 436h1v1h-1zM860 437h1v1h-1zM861 438h1v1h-1zM862 439h1v1h-1zM863 439h1v1h-1zM864 440h1v1h-1zM865 441h1v1h-1zM866 441h1v1h-1zM867 442h1v1h-1zM868 442h1v1h-1zM869 442h1v1h-1zM870 443h1v1h-1zM871 443h1v1h-1zM872 443h1v1h-1zM873 444h1v1h-1zM874 445h1v1h-1zM875 445h1v1h-1zM876 446h1v1h-1zM877 447h1v1h-1zM878 447h1v1h-1zM879 448h1v1h-1zM880 448h1v1h-1zM881 449h1v1h-1zM882 449h1v1h-1zM883 450h1v1h-1zM884 450h1v1h-1zM885 451h1v1h-1zM886 451h1v1h-1zM887 452h1v1h-1zM888 452h1v1h-1zM889 453h1v1h-1zM890 454h1v1h-1zM891 455h1v1h-1zM892 456h1v1h-1zM893 457h1v1h-1zM894 458h1v1h-1zM895 459h1v1h-1zM896 460h1v1h-1zM897 461h1v1h-1zM898 462h1v2h-1zM899 464h1v1h-1zM900 465h1v1h-1zM901 466h1v1h-1zM902 467h1v2h-1zM903 469h1v1h-1zM904 470h1v1h-1zM905 471h1v2h-1zM906 473h1v1h-1zM907 474h1v2h-1zM908 476h1v1h-1zM909 477h1v1h-1zM910 478h1v1h-1zM911 479h1v1h-1zM912 480h1v1h-1zM913 481h1v1h-1zM914 482h1v1h-1zM915 482h1v1h-1zM916 483h1v1h-1zM917 484h1v1h-1zM918 484h1v1h-1zM919 485h1v1h-1zM920 485h1v1h-1zM921 485h1v1h-1zM922 485h1v1h-1zM923 485h1v1h-1zM924 485h1v1h-1zM925 485h1v1h-1zM926 485h1v1h-1zM927 485h1v1h-1zM928 485h1v1h-1zM929 485h1v1h-1zM930 485h1v1h-1zM931 485h1v1h-1zM932 485h1v1h-1zM933 485h1v1h-1zM934 485h1v1h-1zM935 485h1v1h-1zM936 485h1v1h-1zM937 485h1v1h-1zM938 486h1v1h-1zM939 486h1v1h-1zM940 486h1v1h-1zM941 486h1v1h-1zM942 487h1v1h-1zM943 487h1v1h-1zM944 487h1v1h-1zM945 487h1v1h-1zM946 487h1v1h-1zM947 487h1v1h-1zM948 487h1v1h-1zM949 487h1v1h-1zM950 486h1v1h-1zM951 486h1v1h-1zM952 486h1v1h-1zM953 486h1v1h-1zM954 487h1v1h-1zM955 487h1v1h-1zM956 487h1v1h-1zM957 487h1v1h-1zM958 487h1v1h-1zM959 487h1v1h-1zM960 487h1v1h-1zM961 487h1v1h-1zM962 486h1v1h-1zM963 486h1v1h-1zM964 486h1v1h-1zM965 485h1v1h-1zM966 485h1v1h-1zM967 484h1v1h-1zM968 484h1v1h-1zM969 483h1v1h-1zM970 483h1v1h-1zM971 482h1v1h-1zM972 482h1v1h-1zM973 481h1v1h-1zM974 481h1v1h-1zM975 480h1v1h-1zM976 480h1v1h-1zM977 479h1v1h-1zM978 478h1v1h-1zM979 477h1v1h-1zM980 476h1v1h-1zM981 475h1v1h-1zM982 475h1v1h-1zM983 474h1v1h-1zM984 474h1v1h-1zM985 474h1v1h-1zM986 473h1v1h-1zM987 473h1v1h-1zM988 473h1v1h-1zM989 473h1v1h-1zM990 472h1v1h-1zM991 472h1v1h-1zM992 472h1v1h-1zM993 471h1v1h-1zM994 471h1v1h-1zM995 470h1v1h-1zM996 470h1v1h-1zM997 469h1v1h-1zM998 469h1v1h-1zM999 468h1v1h-1zM1000 468h1v1h-1zM1001 467h1v1h-1zM1002 466h1v1h-1zM1003 466h1v1h-1zM1004 465h1v1h-1zM1005 464h1v1h-1zM1006 464h1v1h-1zM1007 463h1v1h-1zM1008 463h1v1h-1zM1009 462h1v1h-1zM1010 460h1v2h-1zM1011 459h1v1h-1zM1012 458h1v1h-1zM1013 457h1v1h-1zM1014 455h1v2h-1zM1015 454h1v1h-1zM1016 453h1v1h-1zM1017 451h1v2h-1zM1018 450h1v1h-1zM1019 448h1v2h-1zM1020 447h1v1h-1zM1021 445h1v2h-1zM1022 444h1v1h-1zM1023 442h1v2h-1zM1024 441h1v1h-1zM1025 439h1v2h-1zM1026 438h1v1h-1zM1027 436h1v2h-1zM1028 435h1v1h-1zM1029 434h1v1h-1zM1030 433h1v1h-1zM1031 432h1v1h-1zM1032 431h1v1h-1zM1033 430h1v1h-1zM1034 429h1v1h-1zM1035 429h1v1h-1zM1036 428h1v1h-1zM1037 428h1v1h-1zM1038 427h1v1h-1zM1039 427h1v1h-1zM1040 427h1v1h-1zM1041 427h1v1h-1zM1042 426h1v1h-1zM1043 426h1v1h-1zM1044 426h1v1h-1zM1045 426h1v1h-1zM1046 425h1v1h-1zM1047 425h1v1h-1zM1048 425h1v1h-1zM1049 424h1v1h-1zM1050 424h1v1h-1zM1051 423h1v1h-1zM1052 423h1v1h-1zM1053 423h1v1h-1zM1054 422h1v1h-1zM1055 422h1v1h-1zM1056 422h1v1h-1zM1057 422h1v1h-1zM1058 421h1v1h-1zM1059 421h1v1h-1zM1060 421h1v1h-1zM1061 421h1v1h-1zM1062 421h1v1h-1zM1063 421h1v1h-1zM1064 421h1v1h-1zM1065 421h1v1h-1zM1066 421h1v1h-1zM1067 421h1v1h-1zM1068 421h1v1h-1zM1069 421h1v1h-1zM1070 421h1v1h-1zM1071 421h1v1h-1zM1072 421h1v1h-1zM1073 420h1v1h-1zM1074 420h1v1h-1zM1075 419h1v1h-1zM1076 419h1v1h-1zM1077 419h1v1h-1zM1078 418h1v1h-1zM1079 418h1v1h-1zM1080 418h1v1h-1zM1081 418h1v1h-1zM1082 419h1v1h-1zM1083 419h1v1h-1zM1084 419h1v1h-1zM1085 419h1v1h-1zM1086 420h1v1h-1zM1087 420h1v1h-1zM1088 420h1v1h-1zM1089 421h1v1h-1zM1090 422h1v1h-1zM1091 422h1v1h-1zM1092 423h1v1h-1zM1093 424h1v1h-1zM1094 425h1v1h-1zM1095 425h1v1h-1zM1096 426h1v1h-1zM1097 427h1v1h-1zM1098 428h1v1h-1zM1099 429h1v1h-1zM1100 430h1v1h-1zM1101 431h1v1h-1zM1102 432h1v1h-1zM1103 432h1v1h-1zM1104 433h1v1h-1zM1105 434h1v1h-1zM1106 435h1v1h-1zM1107 435h1v1h-1zM1108 436h1v1h-1zM1109 437h1v1h-1zM1110 437h1v1h-1zM1111 438h1v1h-1zM1112 438h1v1h-1zM1113 439h1v1h-1zM1114 439h1v1h-1zM1115 440h1v1h-1zM1116 440h1v1h-1zM1117 440h1v1h-1zM1118 441h1v1h-1zM1119 441h1v1h-1zM1120 441h1v1h-1zM1121 441h1v1h-1zM1122 442h1v1h-1zM1123 442h1v1h-1zM1124 442h1v1h-1zM1125 442h1v1h-1zM1126 443h1v1h-1zM1127 443h1v1h-1zM1128 443h1v1h-1zM1129 443h1v1h-1zM1130 444h1v1h-1zM1131 444h1v1h-1zM1132 444h1v1h-1zM1133 444h1v1h-1zM1134 445h1v1h-1zM1135 445h1v1h-1zM1136 445h1v1h-1zM1137 446h1v1h-1zM1138 447h1v1h-1zM1139 447h1v1h-1zM1140 448h1v1h-1zM1141 449h1v1h-1zM1142 450h1v1h-1zM1143 450h1v1h-1zM1144 451h1v1h-1zM1145 452h1v1h-1zM1146 452h1v1h-1zM1147 453h1v1h-1zM1148 453h1v1h-1zM1149 453h1v1h-1zM1150 453h1v1h-1zM1151 453h1v1h-1zM1152 453h1v1h-1zM1153 453h1v1h-1zM1154 453h1v1h-1zM1155 453h1v1h-1zM1156 453h1v1h-1zM1157 452h1v1h-1zM1158 452h1v1h-1zM1159 451h1v1h-1zM1160 451h1v1h-1zM1161 450h1v1h-1zM1162 449h1v1h-1zM1163 449h1v1h-1zM1164 448h1v1h-1zM1165 447h1v1h-1zM1166 447h1v1h-1zM1167 446h1v1h-1zM1168 446h1v1h-1zM1169 445h1v1h-1zM1170 444h1v1h-1zM1171 444h1v1h-1zM1172 443h1v1h-1zM1173 442h1v1h-1zM1174 441h1v1h-1zM1175 440h1v1h-1zM1176 439h1v1h-1zM1177 438h1v1h-1zM1178 437h1v1h-1zM1179 437h1v1h-1zM1180 436h1v1h-1zM1181 435h1v1h-1zM1182 435h1v1h-1zM1183 434h1v1h-1zM1184 434h1v1h-1zM1185 434h1v1h-1zM1186 433h1v1h-1zM1187 433h1v1h-1zM1188 433h1v1h-1zM1189 433h1v1h-1zM1190 432h1v1h-1zM1191 432h1v1h-1zM1192 432h1v1h-1zM1193 432h1v1h-1zM1194 432h1v1h-1zM1195 432h1v1h-1zM1196 432h1v1h-1z" fill="#0000c8" shape-rendering="crispEdges"/>
<path d="M4 164h1v1h-1zM5 162h1v2h-1zM6 160h1v2h-1zM7 158h1v2h-1zM8 157h1v1h-1zM9 156h1v1h-1zM10 154h1v2h-1zM11 153h1v1h-1zM12 152h1v1h-1zM13 151h1v1h-1zM14 150h1v1h-1zM15 149h1v1h-1zM16 148h1v1h-1zM17 148h1v1h-1zM18 147h1v1h-1zM19 147h1v1h-1zM20 147h1v1h-1zM21 147h1v1h-1zM22 148h1v1h-1zM23 148h1v1h-1zM24 148h1v1h-1zM25 149h1v1h-1zM26 150h1v2h-1zM27 152h1v1h-1zM28 153h1v1h-1zM29 154h1v1h-1zM30 154h1v1h-1zM31 155h1v1h-1zM32 155h1v1h-1zM33 155h1v1h-1zM34 155h1v1h-1zM35 155h1v1h-1zM36 155h1v1h-1zM37 155h1v1h-1zM38 155h1v1h-1zM39 155h1v1h-1zM40 155h1v1h-1zM41 156h1v1h-1zM42 156h1v1h-1zM43 157h1v1h-1zM44 157h1v1h-1zM45 158h1v1h-1zM46 159h1v1h-1zM47 160h1v1h-1zM48 161h1v1h-1zM49 162h1v1h-1zM50 163h1v2h-1zM51 165h1v1h-1zM52 166h1v1h-1zM53 167h1v1h-1zM54 168h1v1h-1zM55 169h1v1h-1zM56 170h1v1h-1zM57 171h1v2h-1zM58 173h1v1h-1zM59 174h1v2h-1zM60 176h1v1h-1zM61 177h1v2h-1zM62 179h1v1h-1zM63 180h1v2h-1zM64 182h1v1h-1zM65 183h1v1h-1zM66 183h1v1h-1zM67 184h1v1h-1zM68 184h1v1h-1zM69 185h1v1h-1zM70 186h1v1h-1zM71 186h1v1h-1zM72 187h1v1h-1zM73 188h1v1h-1zM74 188h1v1h-1zM75 189h1v1h-1zM76 189h1v1h-1zM77 188h1v1h-1zM78 188h1v1h-1zM79 187h1v1h-1zM80 187h1v1h-1zM81 186h1v1h-1zM82 185h1v1h-1zM83 184h1v1h-1zM84 183h1v1h-1zM85 182h1v1h-1zM86 181h1v1h-1zM87 180h1v1h-1zM88 179h1v1h-1zM89 178h1v1h-1zM90 177h1v1h-1zM91 176h1v1h-1zM92 175h1v1h-1zM93 175h1v1h-1zM94 174h1v1h-1zM95 174h1v1h-1zM96 174h1v1h-1zM97 174h1v1h-1zM98 173h1v1h-1zM99 173h1v1h-1zM100 173h1v1h-1zM101 173h1v1h-1zM102 173h1v1h-1zM103 173h1v1h-1zM104 173h1v1h-1zM105 174h1v1h-1zM106 174h1v1h-1zM107 175h1v1h-1zM108 175h1v1h-1zM109 176h1v1h-1zM110 176h1v1h-1zM111 177h1v1h-1zM112 177h1v1h-1zM113 178h1v2h-1zM114 180h1v2h-1zM115 182h1v2h-1zM116 184h1v1h-1zM117 185h1v2h-1zM118 187h1v1h-1zM119 188h1v2h-1zM120 190h1v1h-1zM121 191h1v2h-1zM122 193h1v2h-1zM123 195h1v2h-1zM124 197h1v2h-1zM125 199h1v2h-1zM126 201h1v2h-1zM127 203h1v2h-1zM128 205h1v3h-1zM129 208h1v2h-1zM130 210h1v2h-1zM131 212h1v2h-1zM132 214h1v3h-1zM133 217h1v2h-1zM134 219h1v3h-1zM135 222h1v2h-1zM136 224h1v2h-1zM137 226h1v2h-1zM138 228h1v2h-1zM139 230h1v2h-1zM140 232h1v2h-1zM141 234h1v2h-1zM142 236h1v2h-1zM143 238h1v2h-1zM144 240h1v1h-1zM145 241h1v1h-1zM146 242h1v1h-1zM147 243h1v1h-1zM148 244h1v1h-1zM149 245h1v1h-1zM150 246h1v1h-1zM151 247h1v1h-1zM152 248h1v1h-1zM153 249h1v1h-1zM154 249h1v1h-1zM155 250h1v1h-1zM156 250h1v1h-1zM157 250h1v1h-1zM158 251h1v1h-1zM159 251h1v1h-1zM160 251h1v1h-1zM161 251h1v1h-1zM162 250h1v1h-1zM163 250h1v1h-1zM164 250h1v1h-1zM165 249h1v1h-1zM166 249h1v1h-1zM167 248h1v1h-1zM168 248h1v1h-1zM169 246h1v2h-1zM170 245h1v1h-1zM171 243h1v2h-1zM172 242h1v1h-1zM173 241h1v1h-1zM174 239h1v2h-1zM175 238h1v1h-1zM176 237h1v1h-1zM177 236h1v1h-1zM178 234h1v2h-1zM179 233h1v1h-1zM180 232h1v1h-1zM181 231h1v1h-1zM182 229h1v2h-1zM183 228h1v1h-1zM184 227h1v1h-1zM185 226h1v1h-1zM186 225h1v1h-1zM187 225h1v1h-1zM188 224h1v1h-1zM189 224h1v1h-1zM190 224h1v1h-1zM191 224h1v1h-1zM192 224h1v1h-1zM193 224h1v1h-1zM194 223h1v1h-1zM195 223h1v1h-1zM196 223h1v1h-1zM197 224h1v2h-1zM198 226h1v1h-1zM199 227h1v2h-1zM200 229h1v1h-1zM201 230h1v2h-1zM202 232h1v1h-1zM203 233h1v2h-1zM204 235h1v1h-1zM205 236h1v2h-1zM206 238h1v1h-1zM207 239h1v2h-1zM208 241h1v1h-1zM209 242h1v2h-1zM210 244h1v1h-1zM211 245h1v2h-1zM212 247h1v1h-1zM213 248h1v1h-1zM214 249h1v1h-1zM215 249h1v1h-1zM216 250h1v1h-1zM217 251h1v1h-1zM218 251h1v1h-1zM219 252h1v1h-1zM220 252h1v1h-1zM221 253h1v1h-1zM222 254h1v1h-1zM223 254h1v1h-1zM224 255h1v1h-1zM225 256h1v1h-1zM226 257h1v1h-1zM227 257h1v1h-1zM228 258h1v1h-1zM229 259h1v1h-1zM230 260h1v1h-1zM231 261h1v1h-1zM232 262h1v1h-1zM233 263h1v1h-1zM234 263h1v1h-1zM235 264h1v1h-1zM236 264h1v1h-1zM237 264h1v1h-1zM238 265h1v1h-1zM239 265h1v1h-1zM240 265h1v1h-1zM241 264h1v1h-1zM242 264h1v1h-1zM243 263h1v1h-1zM244 263h1v1h-1zM245 262h1v1h-1zM246 261h1v1h-1zM247 261h1v1h-1zM248 260h1v1h-1zM249 261h1v1h-1zM250 261h1v1h-1zM251 262h1v1h-1zM252 262h1v1h-1zM253 261h1v1h-1zM254 260h1v1h-1zM255 260h1v1h-1zM256 259h1v1h-1zM257 258h1v1h-1zM258 256h1v2h-1zM259 255h1v1h-1zM260 254h1v1h-1zM261 253h1v1h-1zM262 253h1v1h-1zM263 252h1v1h-1zM264 252h1v1h-1zM265 252h1v1h-1zM266 251h1v1h-1zM267 251h1v1h-1zM268 251h1v1h-1zM269 252h1v1h-1zM270 252h1v1h-1zM271 253h1v1h-1zM272 253h1v1h-1zM273 254h1v1h-1zM274 255h1v2h-1zM275 257h1v1h-1zM276 258h1v1h-1zM277 259h1v1h-1zM278 260h1v1h-1zM279 261h1v1h-1zM280 262h1v1h-1zM281 263h1v2h-1zM282 265h1v2h-1zM283 267h1v2h-1zM284 269h1v1h-1zM285 270h1v2h-1zM286 272h1v2h-1zM287 274h1v2h-1zM288 276h1v1h-1zM289 277h1v1h-1zM290 278h1v2h-1zM291 280h1v1h-1zM292 281h1v1h-1zM293 282h1v2h-1zM294 284h1v2h-1zM295 286h1v2h-1zM296 288h1v1h-1zM297 289h1v2h-1zM298 291h1v2h-1zM299 293h1v2h-1zM300 295h1v2h-1zM301 297h1v2h-1zM302 299h1v2h-1zM303 301h1v2h-1zM304 303h1v1h-1zM305 303h1v1h-1zM306 304h1v1h-1zM307 304h1v1h-1zM308 304h1v1h-1zM309 304h1v1h-1zM310 305h1v1h-1zM311 305h1v1h-1zM312 305h1v1h-1zM313 306h1v1h-1zM314 307h1v1h-1zM315 307h1v1h-1zM316 308h1v1h-1zM317 308h1v1h-1zM318 309h1v1h-1zM319 309h1v1h-1zM320 309h1v1h-1zM321 308h1v1h-1zM322 307h1v1h-1zM323 307h1v1h-1zM324 306h1v1h-1zM325 305h1v1h-1zM326 304h1v1h-1zM327 304h1v1h-1zM328 303h1v1h-1zM329 302h1v1h-1zM330 301h1v1h-1zM331 300h1v1h-1zM332 299h1v1h-1zM333 298h1v1h-1zM334 296h1v2h-1zM335 295h1v1h-1zM336 294h1v1h-1zM337 293h1v1h-1zM338 291h1v2h-1zM339 290h1v1h-1zM340 289h1v1h-1zM341 288h1v1h-1zM342 288h1v1h-1zM343 287h1v1h-1zM344 287h1v1h-1zM345 287h1v1h-1zM346 287h1v1h-1zM347 287h1v1h-1zM348 287h1v1h-1zM349 287h1v1h-1zM350 286h1v1h-1zM351 286h1v1h-1zM352 286h1v1h-1zM353 285h1v1h-1zM354 285h1v1h-1zM355 284h1v1h-1zM356 284h1v1h-1zM357 284h1v1h-1zM358 284h1v1h-1zM359 284h1v1h-1zM360 284h1v1h-1zM361 285h1v1h-1zM362 286h1v1h-1zM363 287h1v1h-1zM364 288h1v1h-1zM365 289h1v2h-1zM366 291h1v2h-1zM367 293h1v2h-1zM368 295h1v1h-1zM369 296h1v2h-1zM370 298h1v1h-1zM371 299h1v2h-1zM372 301h1v1h-1zM373 302h1v2h-1zM374 304h1v1h-1zM375 305h1v2h-1zM376 307h1v1h-1zM377 308h1v2h-1zM378 310h1v2h-1zM379 312h1v2h-1zM380 314h1v2h-1zM381 316h1v1h-1zM382 317h1v2h-1zM383 319h1v1h-1zM384 320h1v1h-1zM385 321h1v1h-1zM386 322h1v1h-1zM387 322h1v1h-1zM388 323h1v1h-1zM389 324h1v2h-1zM390 326h1v1h-1zM391 327h1v2h-1zM392 329h1v1h-1zM393 330h1v1h-1zM394 331h1v2h-1zM395 333h1v1h-1zM396 334h1v1h-1zM397 335h1v1h-1zM398 336h1v1h-1zM399 336h1v1h-1zM400 337h1v1h-1zM401 338h1v1h-1zM402 338h1v1h-1zM403 339h1v1h-1zM404 339h1v1h-1zM405 340h1v1h-1zM406 341h1v1h-1zM407 341h1v1h-1zM408 342h1v1h-1zM409 343h1v1h-1zM410 344h1v1h-1zM411 344h1v1h-1zM412 345h1v1h-1zM413 345h1v1h-1zM414 344h1v1h-1zM415 344h1v1h-1zM416 344h1v1h-1zM417 343h1v1h-1zM418 343h1v1h-1zM419 342h1v1h-1zM420 342h1v1h-1zM421 341h1v1h-1zM422 339h1v2h-1zM423 338h1v1h-1zM424 337h1v1h-1zM425 336h1v1h-1zM426 335h1v1h-1zM427 334h1v1h-1zM428 333h1v1h-1zM429 332h1v1h-1zM430 331h1v1h-1zM431 331h1v1h-1zM432 330h1v1h-1zM433 329h1v1h-1zM434 329h1v1h-1zM435 328h1v1h-1zM436 328h1v1h-1zM437 328h1v1h-1zM438 329h1v1h-1zM439 329h1v1h-1zM440 329h1v1h-1zM441 330h1v1h-1zM442 331h1v1h-1zM443 332h1v1h-1zM444 333h1v1h-1zM445 334h1v1h-1zM446 334h1v1h-1zM447 335h1v1h-1zM448 335h1v1h-1zM449 335h1v1h-1zM450 336h1v1h-1zM451 336h1v1h-1zM452 336h1v1h-1zM453 337h1v1h-1zM454 337h1v1h-1zM455 338h1v1h-1zM456 338h1v1h-1zM457 339h1v1h-1zM458 339h1v1h-1zM459 340h1v1h-1zM460 340h1v1h-1zM461 340h1v1h-1zM462 340h1v1h-1zM463 340h1v1h-1zM464 340h1v1h-1zM465 340h1v1h-1zM466 341h1v1h-1zM467 341h1v1h-1zM468 341h1v1h-1zM469 341h1v1h-1zM470 342h1v1h-1zM471 342h1v1h-1zM472 342h1v1h-1zM473 343h1v1h-1zM474 343h1v1h-1zM475 344h1v1h-1zM476 344h1v1h-1zM477 345h1v1h-1zM478 346h1v1h-1zM479 346h1v1h-1zM480 347h1v1h-1zM481 348h1v1h-1zM482 349h1v2h-1zM483 351h1v1h-1zM484 352h1v1h-1zM485 353h1v1h-1zM486 354h1v1h-1zM487 355h1v1h-1zM488 356h1v1h-1zM489 357h1v1h-1zM490 358h1v1h-1zM491 358h1v1h-1zM492 359h1v1h-1zM493 359h1v1h-1zM494 359h1v1h-1zM495 359h1v1h-1zM496 359h1v1h-1zM497 358h1v1h-1zM498 358h1v1h-1zM499 357h1v1h-1zM500 357h1v1h-1zM501 356h1v1h-1zM502 355h1v1h-1zM503 354h1v1h-1zM504 353h1v1h-1zM505 352h1v1h-1zM506 351h1v1h-1zM507 350h1v1h-1zM508 349h1v1h-1zM509 347h1v2h-1zM510 345h1v2h-1zM511 343h1v2h-1zM512 341h1v2h-1zM513 339h1v2h-1zM514 336h1v3h-1zM515 334h1v2h-1zM516 331h1v3h-1zM517 329h1v2h-1zM518 327h1v2h-1zM519 325h1v2h-1zM520 323h1v2h-1zM521 321h1v2h-1zM522 320h1v1h-1zM523 318h1v2h-1zM524 317h1v1h-1zM525 315h1v2h-1zM526 314h1v1h-1zM527 312h1v2h-1zM528 311h1v1h-1zM529 309h1v2h-1zM530 308h1v1h-1zM531 306h1v2h-1zM532 305h1v1h-1zM533 304h1v1h-1zM534 302h1v2h-1zM535 301h1v1h-1zM536 300h1v1h-1zM537 299h1v1h-1zM538 298h1v1h-1zM539 297h1v1h-1zM540 296h1v1h-1zM541 295h1v1h-1zM542 294h1v1h-1zM543 293h1v1h-1zM544 292h1v1h-1zM545 291h1v1h-1zM546 289h1v2h-1zM547 288h1v1h-1zM548 287h1v1h-1zM549 287h1v1h-1zM550 286h1v1h-1zM551 286h1v1h-1zM552 286h1v1h-1zM553 286h1v1h-1zM554 286h1v1h-1zM555 286h1v1h-1zM556 286h1v1h-1zM557 285h1v1h-1zM558 284h1v1h-1zM559 284h1v1h-1zM560 283h1v1h-1zM561 282h1v1h-1zM562 281h1v1h-1zM563 280h1v1h-1zM564 279h1v1h-1zM565 278h1v1h-1zM566 277h1v1h-1zM567 276h1v1h-1zM568 275h1v1h-1zM569 274h1v1h-1zM570 273h1v1h-1zM571 272h1v1h-1zM572 271h1v1h-1zM573 270h1v1h-1zM574 269h1v1h-1zM575 269h1v1h-1zM576 268h1v1h-1zM577 267h1v1h-1zM578 266h1v1h-1zM579 265h1v1h-1zM580 264h1v1h-1zM581 263h1v1h-1zM582 262h1v1h-1zM583 262h1v1h-1zM584 261h1v1h-1zM585 260h1v1h-1zM586 259h1v1h-1zM587 259h1v1h-1zM588 258h1v1h-1zM589 256h1v2h-1zM590 255h1v1h-1zM591 253h1v2h-1zM592 252h1v1h-1zM593 251h1v1h-1zM594 249h1v2h-1zM595 248h1v1h-1zM596 247h1v1h-1zM597 246h1v1h-1zM598 244h1v2h-1zM599 243h1v1h-1zM600 242h1v1h-1zM601 241h1v1h-1zM602 241h1v1h-1zM603 240h1v1h-1zM604 240h1v1h-1zM605 239h1v1h-1zM606 237h1v2h-1zM607 236h1v1h-1zM608 235h1v1h-1zM609 235h1v1h-1zM610 235h1v1h-1zM611 235h1v1h-1zM612 235h1v1h-1zM613 236h1v1h-1zM614 237h1v1h-1zM615 237h1v1h-1zM616 238h1v1h-1zM617 239h1v2h-1zM618 241h1v2h-1zM619 243h1v2h-1zM620 245h1v1h-1zM621 246h1v2h-1zM622 248h1v2h-1zM623 250h1v2h-1zM624 252h1v2h-1zM625 254h1v2h-1zM626 256h1v2h-1zM627 258h1v2h-1zM628 260h1v2h-1zM629 262h1v2h-1zM630 264h1v1h-1zM631 265h1v2h-1zM632 267h1v1h-1zM633 268h1v2h-1zM634 270h1v2h-1zM635 272h1v2h-1zM636 274h1v2h-1zM637 276h1v1h-1zM638 277h1v2h-1zM639 279h1v1h-1zM640 280h1v1h-1zM641 281h1v2h-1zM642 283h1v1h-1zM643 284h1v2h-1zM644 286h1v2h-1zM645 288h1v2h-1zM646 290h1v2h-1zM647 292h1v2h-1zM648 294h1v2h-1zM649 296h1v1h-1zM650 297h1v1h-1zM651 298h1v1h-1zM652 299h1v1h-1zM653 300h1v1h-1zM654 301h1v1h-1zM655 302h1v1h-1zM656 303h1v1h-1zM657 304h1v1h-1zM658 305h1v1h-1zM659 305h1v1h-1zM660 306h1v1h-1zM661 307h1v1h-1zM662 308h1v1h-1zM663 309h1v1h-1zM664 310h1v1h-1zM665 310h1v1h-1zM666 310h1v1h-1zM667 310h1v1h-1zM668 310h1v1h-1zM669 311h1v1h-1zM670 312h1v1h-1zM671 312h1v1h-1zM672 313h1v1h-1zM673 314h1v1h-1zM674 315h1v1h-1zM675 316h1v1h-1zM676 317h1v1h-1zM677 318h1v1h-1zM678 319h1v1h-1zM679 319h1v1h-1zM680 320h1v1h-1zM681 321h1v2h-1zM682 323h1v2h-1zM683 325h1v2h-1zM684 327h1v2h-1zM685 329h1v2h-1zM686 331h1v2h-1zM687 333h1v2h-1zM688 335h1v1h-1zM689 336h1v2h-1zM690 338h1v1h-1zM691 339h1v2h-1zM692 341h1v1h-1zM693 342h1v2h-1zM694 344h1v2h-1zM695 346h1v2h-1zM696 348h1v1h-1zM697 349h1v2h-1zM698 351h1v2h-1zM699 353h1v2h-1zM700 355h1v1h-1zM701 356h1v2h-1zM702 358h1v2h-1zM703 360h1v2h-1zM704 362h1v2h-1zM705 364h1v2h-1zM706 366h1v1h-1zM707 367h1v2h-1zM708 369h1v1h-1zM709 370h1v2h-1zM710 372h1v2h-1zM711 374h1v2h-1zM712 376h1v1h-1zM713 376h1v1h-1zM714 377h1v1h-1zM715 377h1v1h-1zM716 377h1v1h-1zM717 377h1v1h-1zM718 378h1v1h-1zM719 378h1v1h-1zM720 378h1v1h-1zM721 378h1v1h-1zM722 377h1v1h-1zM723 377h1v1h-1zM724 377h1v1h-1zM725 376h1v1h-1zM726 375h1v1h-1zM727 375h1v1h-1zM728 374h1v1h-1zM729 373h1v1h-1zM730 372h1v1h-1zM731 371h1v1h-1zM732 370h1v1h-1zM733 369h1v1h-1zM734 368h1v1h-1zM735 368h1v1h-1zM736 367h1v1h-1zM737 366h1v1h-1zM738 364h1v2h-1zM739 363h1v1h-1zM740 362h1v1h-1zM741 361h1v1h-1zM742 360h1v1h-1zM743 360h1v1h-1zM744 359h1v1h-1zM745 359h1v1h-1zM746 359h1v1h-1zM747 359h1v1h-1zM748 359h1v1h-1zM749 360h1v1h-1zM750 361h1v1h-1zM751 361h1v1h-1zM752 362h1v1h-1zM753 363h1v1h-1zM754 363h1v1h-1zM755 364h1v1h-1zM756 364h1v1h-1zM757 363h1v1h-1zM758 363h1v1h-1zM759 362h1v1h-1zM760 362h1v1h-1zM761 362h1v1h-1zM762 363h1v1h-1zM763 363h1v1h-1zM764 363h1v1h-1zM765 363h1v1h-1zM766 364h1v1h-1zM767 364h1v1h-1zM768 364h1v1h-1zM769 365h1v2h-1zM770 367h1v1h-1zM771 368h1v2h-1zM772 370h1v1h-1zM773 371h1v1h-1zM774 372h1v2h-1zM775 374h1v1h-1zM776 375h1v1h-1zM777 376h1v1h-1zM778 377h1v2h-1zM779 379h1v1h-1zM780 380h1v1h-1zM781 381h1v1h-1zM782 382h1v1h-1zM783 383h1v1h-1zM784 384h1v1h-1zM785 385h1v2h-1zM786 387h1v1h-1zM787 388h1v2h-1zM788 390h1v1h-1zM789 391h1v2h-1zM790 393h1v1h-1zM791 394h1v2h-1zM792 396h1v1h-1zM793 397h1v2h-1zM794 399h1v2h-1zM795 401h1v2h-1zM796 403h1v1h-1zM797 404h1v2h-1zM798 406h1v2h-1zM799 408h1v2h-1zM800 410h1v1h-1zM801 411h1v2h-1zM802 413h1v2h-1zM803 415h1v2h-1zM804 417h1v2h-1zM805 419h1v2h-1zM806 421h1v1h-1zM807 422h1v2h-1zM808 424h1v1h-1zM809 425h1v2h-1zM810 427h1v2h-1zM811 429h1v2h-1zM812 431h1v1h-1zM813 432h1v2h-1zM814 434h1v2h-1zM815 436h1v2h-1zM816 438h1v1h-1zM817 439h1v1h-1zM818 440h1v1h-1zM819 441h1v1h-1zM820 442h1v1h-1zM821 443h1v1h-1zM822 444h1v1h-1zM823 444h1v1h-1zM824 445h1v1h-1zM825 446h1v1h-1zM826 447h1v1h-1zM827 447h1v1h-1zM828 448h1v1h-1zM829 449h1v1h-1zM830 450h1v1h-1zM831 450h1v1h-1zM832 451h1v1h-1zM833 452h1v1h-1zM834 453h1v2h-1zM835 455h1v1h-1zM836 456h1v1h-1zM837 457h1v1h-1zM838 458h1v2h-1zM839 460h1v1h-1zM840 461h1v1h-1zM841 462h1v2h-1zM842 464h1v1h-1zM843 465h1v2h-1zM844 467h1v1h-1zM845 467h1v1h-1zM846 468h1v1h-1zM847 468h1v1h-1zM848 468h1v1h-1zM849 468h1v1h-1zM850 469h1v1h-1zM851 469h1v1h-1zM852 469h1v1h-1zM853 469h1v1h-1zM854 468h1v1h-1zM855 468h1v1h-1zM856 468h1v1h-1zM857 468h1v1h-1zM858 467h1v1h-1zM859 467h1v1h-1zM860 467h1v1h-1zM861 466h1v1h-1zM862 464h1v2h-1zM863 463h1v1h-1zM864 462h1v1h-1zM865 461h1v1h-1zM866 459h1v2h-1zM867 458h1v1h-1zM868 457h1v1h-1zM869 456h1v1h-1zM870 455h1v1h-1zM871 454h1v1h-1zM872 453h1v1h-1zM873 453h1v1h-1zM874 454h1v1h-1zM875 454h1v1h-1zM876 454h1v1h-1zM877 454h1v1h-1zM878 455h1v1h-1zM879 455h1v1h-1zM880 455h1v1h-1zM881 456h1v1h-1zM882 457h1v1h-1zM883 457h1v1h-1zM884 458h1v1h-1zM885 458h1v1h-1zM886 459h1v1h-1zM887 459h1v1h-1zM888 459h1v1h-1zM889 460h1v2h-1zM890 462h1v1h-1zM891 463h1v2h-1zM892 465h1v1h-1zM893 466h1v2h-1zM894 468h1v1h-1zM895 469h1v2h-1zM896 471h1v1h-1zM897 472h1v1h-1zM898 473h1v1h-1zM899 473h1v1h-1zM900 474h1v1h-1zM901 475h1v2h-1zM902 477h1v2h-1zM903 479h1v2h-1zM904 481h1v2h-1zM905 483h1v2h-1zM906 485h1v3h-1zM907 488h1v2h-1zM908 490h1v2h-1zM909 492h1v2h-1zM910 494h1v2h-1zM911 496h1v2h-1zM912 498h1v1h-1zM913 499h1v1h-1zM914 500h1v1h-1zM915 500h1v1h-1zM916 501h1v1h-1zM917 502h1v1h-1zM918 503h1v1h-1zM919 504h1v1h-1zM920 505h1v1h-1zM921 506h1v1h-1zM922 507h1v2h-1zM923 509h1v1h-1zM924 510h1v1h-1zM925 511h1v1h-1zM926 512h1v1h-1zM927 512h1v1h-1zM928 513h1v1h-1zM929 513h1v1h-1zM930 514h1v1h-1zM931 514h1v1h-1zM932 514h1v1h-1zM933 515h1v1h-1zM934 516h1v1h-1zM935 517h1v1h-1zM936 518h1v1h-1zM937 518h1v1h-1zM938 519h1v1h-1zM939 519h1v1h-1zM940 519h1v1h-1zM941 519h1v1h-1zM942 518h1v1h-1zM943 518h1v1h-1zM944 518h1v1h-1zM945 517h1v1h-1zM946 516h1v1h-1zM947 515h1v1h-1zM948 514h1v1h-1zM949 512h1v2h-1zM950 511h1v1h-1zM951 509h1v2h-1zM952 508h1v1h-1zM953 507h1v1h-1zM954 505h1v2h-1zM955 504h1v1h-1zM956 503h1v1h-1zM957 502h1v1h-1zM958 500h1v2h-1zM959 499h1v1h-1zM960 497h1v2h-1zM961 495h1v2h-1zM962 493h1v2h-1zM963 491h1v2h-1zM964 488h1v3h-1zM965 485h1v3h-1zM966 483h1v2h-1zM967 480h1v3h-1zM968 477h1v3h-1zM969 474h1v3h-1zM970 472h1v2h-1zM971 469h1v3h-1zM972 466h1v3h-1zM973 464h1v2h-1zM974 461h1v3h-1zM975 459h1v2h-1zM976 456h1v3h-1zM977 454h1v2h-1zM978 452h1v2h-1zM979 450h1v2h-1zM980 448h1v2h-1zM981 446h1v2h-1zM982 444h1v2h-1zM983 442h1v2h-1zM984 440h1v2h-1zM985 438h1v2h-1zM986 436h1v2h-1zM987 434h1v2h-1zM988 432h1v2h-1zM989 430h1v2h-1zM990 428h1v2h-1zM991 426h1v2h-1zM992 424h1v2h-1zM993 423h1v1h-1zM994 421h1v2h-1zM995 420h1v1h-1zM996 419h1v1h-1zM997 418h1v1h-1zM998 417h1v1h-1zM999 416h1v1h-1zM1000 415h1v1h-1zM1001 414h1v1h-1zM1002 413h1v1h-1zM1003 413h1v1h-1zM1004 412h1v1h-1zM1005 411h1v1h-1zM1006 410h1v1h-1zM1007 409h1v1h-1zM1008 408h1v1h-1zM1009 407h1v1h-1zM1010 405h1v2h-1zM1011 404h1v1h-1zM1012 403h1v1h-1zM1013 401h1v2h-1zM1014 399h1v2h-1zM1015 397h1v2h-1zM1016 396h1v1h-1zM1017 395h1v1h-1zM1018 393h1v2h-1zM1019 392h1v1h-1zM1020 391h1v1h-1zM1021 391h1v1h-1zM1022 390h1v1h-1zM1023 390h1v1h-1zM1024 390h1v1h-1zM1025 390h1v1h-1zM1026 390h1v1h-1zM1027 390h1v1h-1zM1028 390h1v1h-1zM1029 391h1v1h-1zM1030 392h1v1h-1zM1031 393h1v1h-1zM1032 394h1v1h-1zM1033 395h1v1h-1zM1034 396h1v1h-1zM1035 397h1v1h-1zM1036 398h1v1h-1zM1037 399h1v1h-1zM1038 400h1v2h-1zM1039 402h1v1h-1zM1040 403h1v1h-1zM1041 404h1v1h-1zM1042 405h1v2h-1zM1043 407h1v1h-1zM1044 408h1v1h-1zM1045 409h1v1h-1zM1046 410h1v2h-1zM1047 412h1v1h-1zM1048 413h1v1h-1zM1049 414h1v1h-1zM1050 414h1v1h-1zM1051 415h1v1h-1zM1052 415h1v1h-1zM1053 416h1v1h-1zM1054 417h1v1h-1zM1055 418h1v1h-1zM1056 419h1v1h-1zM1057 420h1v1h-1zM1058 421h1v1h-1zM1059 422h1v1h-1zM1060 423h1v1h-1zM1061 424h1v2h-1zM1062 426h1v2h-1zM1063 428h1v2h-1zM1064 430h1v1h-1zM1065 431h1v1h-1zM1066 432h1v1h-1zM1067 433h1v1h-1zM1068 434h1v1h-1zM1069 435h1v1h-1zM1070 436h1v2h-1zM1071 438h1v1h-1zM1072 439h1v1h-1zM1073 440h1v1h-1zM1074 441h1v2h-1zM1075 443h1v1h-1zM1076 444h1v1h-1zM1077 445h1v1h-1zM1078 446h1v1h-1zM1079 447h1v1h-1zM1080 448h1v1h-1zM1081 449h1v1h-1zM1082 450h1v2h-1zM1083 452h1v1h-1zM1084 453h1v1h-1zM1085 453h1v1h-1zM1086 453h1v1h-1zM1087 453h1v1h-1zM1088 453h1v1h-1zM1089 454h1v1h-1zM1090 454h1v1h-1zM1091 455h1v1h-1zM1092 455h1v1h-1zM1093 455h1v1h-1zM1094 456h1v1h-1zM1095 456h1v1h-1zM1096 456h1v1h-1zM1097 456h1v1h-1zM1098 457h1v1h-1zM1099 457h1v1h-1zM1100 457h1v1h-1zM1101 457h1v1h-1zM1102 457h1v1h-1zM1103 457h1v1h-1zM1104 457h1v1h-1zM1105 458h1v1h-1zM1106 458h1v1h-1zM1107 459h1v1h-1zM1108 459h1v1h-1zM1109 459h1v1h-1zM1110 460h1v1h-1zM1111 460h1v1h-1zM1112 460h1v1h-1zM1113 460h1v1h-1zM1114 459h1v1h-1zM1115 459h1v1h-1zM1116 459h1v1h-1zM1117 459h1v1h-1zM1118 458h1v1h-1zM1119 458h1v1h-1zM1120 458h1v1h-1zM1121 458h1v1h-1zM1122 457h1v1h-1zM1123 457h1v1h-1zM1124 457h1v1h-1zM1125 456h1v1h-1zM1126 456h1v1h-1zM1127 455h1v1h-1zM1128 455h1v1h-1zM1129 455h1v1h-1zM1130 455h1v1h-1zM1131 455h1v1h-1zM1132 455h1v1h-1zM1133 455h1v1h-1zM1134 454h1v1h-1zM1135 454h1v1h-1zM1136 454h1v1h-1zM1137 454h1v1h-1zM1138 455h1v1h-1zM1139 455h1v1h-1zM1140 455h1v1h-1zM1141 456h1v1h-1zM1142 456h1v1h-1zM1143 457h1v1h-1zM1144 457h1v1h-1zM1145 456h1v1h-1zM1146 456h1v1h-1zM1147 455h1v1h-1zM1148 455h1v1h-1zM1149 454h1v1h-1zM1150 453h1v1h-1zM1151 452h1v1h-1zM1152 451h1v1h-1zM1153 450h1v1h-1zM1154 449h1v1h-1zM1155 448h1v1h-1zM1156 447h1v1h-1zM1157 446h1v1h-1zM1158 444h1v2h-1zM1159 443h1v1h-1zM1160 442h1v1h-1zM1161 440h1v2h-1zM1162 438h1v2h-1zM1163 436h1v2h-1zM1164 434h1v2h-1zM1165 432h1v2h-1zM1166 431h1v1h-1zM1167 429h1v2h-1zM1168 428h1v1h-1zM1169 426h1v2h-1zM1170 425h1v1h-1zM1171 423h1v2h-1zM1172 422h1v1h-1zM1173 420h1v2h-1zM1174 418h1v2h-1zM1175 416h1v2h-1zM1176 414h1v2h-1zM1177 413h1v1h-1zM1178 413h1v1h-1zM1179 412h1v1h-1zM1180 412h1v1h-1zM1181 411h1v1h-1zM1182 411h1v1h-1zM1183 410h1v1h-1zM1184 410h1v1h-1zM1185 410h1v1h-1zM1186 410h1v1h-1zM1187 410h1v1h-1zM1188 410h1v1h-1zM1189 410h1v1h-1zM1190 410h1v1h-1zM1191 410h1v1h-1zM1192 410h1v1h-1zM1193 410h1v1h-1zM1194 409h1v1h-1zM1195 409h1v1h-1zM1196 409h1v1h-1z" fill="#ff0000" shape-rendering="crispEdges"/>
<path d="M4 146h1v3h-1zM5 141h1v5h-1zM6 137h1v4h-1zM7 132h1v5h-1zM8 129h1v3h-1zM9 127h1v2h-1zM10 125h1v2h-1zM11 123h1v2h-1zM12 122h1v1h-1zM13 122h1v1h-1zM14 122h1v1h-1zM15 122h1v1h-1zM16 122h1v1h-1zM17 120h1v2h-1zM18 119h1v1h-1zM19 117h1v2h-1zM20 116h1v2h-1zM21 118h1v3h-1zM22 121h1v2h-1zM23 123h1v3h-1zM24 126h1v4h-1zM25 130h1v5h-1zM26 135h1v4h-1zM27 139h1v5h-1zM28 144h1v4h-1zM29 148h1v4h-1zM30 152h1v4h-1zM31 156h1v4h-1zM32 160h1v3h-1zM33 163h1v4h-1zM34 167h1v4h-1zM35 171h1v4h-1zM36 175h1v3h-1zM37 178h1v4h-1zM38 182h1v4h-1zM39 186h1v4h-1zM40 190h1v3h-1zM41 193h1v3h-1zM42 196h1v3h-1zM43 199h1v3h-1zM44 202h1v2h-1zM45 204h1v2h-1zM46 206h1v1h-1zM47 207h1v2h-1zM48 209h1v1h-1zM49 209h1v1h-1zM50 209h1v1h-1zM51 209h1v1h-1zM52 209h1v1h-1zM53 209h1v1h-1zM54 210h1v1h-1zM55 210h1v1h-1zM56 210h1v1h-1zM57 209h1v1h-1zM58 208h1v1h-1zM59 207h1v1h-1zM60 206h1v1h-1zM61 204h1v2h-1zM62 202h1v2h-1zM63 200h1v2h-1zM64 197h1v3h-1zM65 194h1v3h-1zM66 191h1v3h-1zM67 188h1v3h-1zM68 186h1v2h-1zM69 184h1v2h-1zM70 183h1v1h-1zM71 181h1v2h-1zM72 179h1v2h-1zM73 177h1v2h-1zM74 174h1v3h-1zM75 172h1v2h-1zM76 169h1v3h-1zM77 166h1v3h-1zM78 163h1v3h-1zM79 160h1v3h-1zM80 158h1v2h-1zM81 156h1v2h-1zM82 154h1v2h-1zM83 152h1v2h-1zM84 150h1v2h-1zM85 149h1v1h-1zM86 148h1v1h-1zM87 147h1v1h-1zM88 146h1v1h-1zM89 145h1v1h-1zM90 145h1v1h-1zM91 144h1v1h-1zM92 144h1v1h-1zM93 145h1v1h-1zM94 146h1v1h-1zM95 146h1v1h-1zM96 147h1v2h-1zM97 149h1v4h-1zM98 153h1v4h-1zM99 157h1v4h-1zM100 161h1v4h-1zM101 165h1v4h-1zM102 169h1v4h-1zM103 173h1v4h-1zM104 177h1v5h-1zM105 182h1v5h-1zM106 187h1v4h-1zM107 191h1v5h-1zM108 196h1v5h-1zM109 201h1v4h-1zM110 205h1v4h-1zM111 209h1v4h-1zM112 213h1v5h-1zM113 218h1v5h-1zM114 223h1v4h-1zM115 227h1v5h-1zM116 232h1v4h-1zM117 236h1v3h-1zM118 239h1v3h-1zM119 242h1v3h-1zM120 245h1v3h-1zM121 248h1v3h-1zM122 251h1v2h-1zM123 253h1v3h-1zM124 256h1v3h-1zM125 259h1v2h-1zM126 261h1v2h-1zM127 263h1v2h-1zM128 265h1v3h-1zM129 268h1v2h-1zM130 270h1v2h-1zM131 272h1v2h-1zM132 274h1v2h-1zM133 274h1v1h-1zM134 273h1v1h-1zM135 273h1v1h-1zM136 272h1v1h-1zM137 272h1v1h-1zM138 271h1v1h-1zM139 271h1v1h-1zM140 271h1v1h-1zM141 269h1v2h-1zM142 267h1v2h-1zM143 265h1v2h-1zM144 263h1v2h-1zM145 260h1v3h-1zM146 257h1v3h-1zM147 254h1v3h-1zM148 251h1v3h-1zM149 248h1v3h-1zM150 244h1v4h-1zM151 241h1v3h-1zM152 239h1v2h-1zM153 237h1v2h-1zM154 235h1v2h-1zM155 233h1v2h-1zM156 232h1v1h-1zM157 231h1v1h-1zM158 230h1v1h-1zM159 229h1v1h-1zM160 228h1v1h-1zM161 227h1v1h-1zM162 227h1v1h-1zM163 226h1v1h-1zM164 226h1v1h-1zM165 226h1v1h-1zM166 225h1v1h-1zM167 225h1v1h-1zM168 225h1v1h-1zM169 224h1v1h-1zM170 222h1v2h-1zM171 221h1v1h-1zM172 220h1v1h-1zM173 218h1v2h-1zM174 216h1v2h-1zM175 214h1v2h-1zM176 212h1v2h-1zM177 210h1v2h-1zM178 208h1v2h-1zM179 206h1v2h-1zM180 205h1v1h-1zM181 204h1v1h-1zM182 204h1v1h-1zM183 203h1v1h-1zM184 203h1v1h-1zM185 204h1v2h-1zM186 206h1v1h-1zM187 207h1v2h-1zM188 209h1v2h-1zM189 211h1v3h-1zM190 214h1v2h-1zM191 216h1v3h-1zM192 219h1v3h-1zM193 222h1v3h-1zM194 225h1v2h-1zM195 227h1v3h-1zM196 230h1v4h-1zM197 234h1v6h-1zM198 240h1v6h-1zM199 246h1v6h-1zM200 252h1v5h-1zM201 257h1v5h-1zM202 262h1v4h-1zM203 266h1v5h-1zM204 271h1v4h-1zM205 275h1v3h-1zM206 278h1v3h-1zM207 281h1v3h-1zM208 284h1v3h-1zM209 287h1v3h-1zM210 290h1v3h-1zM211 293h1v3h-1zM212 296h1v2h-1zM213 298h1v2h-1zM214 300h1v1h-1zM215 301h1v2h-1zM216 302h1v2h-1zM217 299h1v3h-1zM218 296h1v3h-1zM219 293h1v3h-1zM220 290h1v3h-1zM221 288h1v2h-1zM222 285h1v3h-1zM223 283h1v2h-1zM224 280h1v3h-1zM225 277h1v3h-1zM226 274h1v3h-1zM227 271h1v3h-1zM228 268h1v3h-1zM229 264h1v4h-1zM230 260h1v4h-1zM231 256h1v4h-1zM232 253h1v3h-1zM233 251h1v2h-1zM234 249h1v2h-1zM235 247h1v2h-1zM236 245h1v2h-1zM237 243h1v2h-1zM238 242h1v1h-1zM239 240h1v2h-1zM240 239h1v1h-1zM241 237h1v2h-1zM242 235h1v2h-1zM243 233h1v2h-1zM244 232h1v1h-1zM245 230h1v2h-1zM246 229h1v1h-1zM247 227h1v2h-1zM248 226h1v1h-1zM249 227h1v2h-1zM250 229h1v1h-1zM251 230h1v2h-1zM252 232h1v1h-1zM253 233h1v2h-1zM254 235h1v2h-1zM255 237h1v2h-1zM256 239h1v1h-1zM257 240h1v1h-1zM258 241h1v1h-1zM259 242h1v1h-1zM260 243h1v2h-1zM261 245h1v3h-1zM262 248h1v3h-1zM263 251h1v3h-1zM264 254h1v3h-1zM265 257h1v4h-1zM266 261h1v4h-1zM267 265h1v4h-1zM268 269h1v3h-1zM269 272h1v2h-1zM270 274h1v2h-1zM271 276h1v2h-1zM272 278h1v2h-1zM273 280h1v2h-1zM274 282h1v3h-1zM275 285h1v2h-1zM276 287h1v3h-1zM277 290h1v4h-1zM278 294h1v4h-1zM279 298h1v4h-1zM280 302h1v4h-1zM281 306h1v3h-1zM282 309h1v2h-1zM283 311h1v3h-1zM284 314h1v3h-1zM285 317h1v2h-1zM286 319h1v2h-1zM287 321h1v2h-1zM288 323h1v2h-1zM289 324h1v1h-1zM290 323h1v1h-1zM291 323h1v1h-1zM292 323h1v1h-1zM293 324h1v1h-1zM294 324h1v1h-1zM295 325h1v1h-1zM296 325h1v1h-1zM297 325h1v1h-1zM298 324h1v1h-1zM299 324h1v1h-1zM300 324h1v1h-1zM301 324h1v1h-1zM302 323h1v1h-1zM303 323h1v1h-1zM304 322h1v2h-1zM305 319h1v3h-1zM306 316h1v3h-1zM307 313h1v3h-1zM308 311h1v2h-1zM309 310h1v1h-1zM310 308h1v2h-1zM311 307h1v1h-1zM312 306h1v1h-1zM313 304h1v2h-1zM314 302h1v2h-1zM315 300h1v2h-1zM316 298h1v2h-1zM317 296h1v2h-1zM318 295h1v1h-1zM319 293h1v2h-1zM320 291h1v2h-1zM321 288h1v3h-1zM322 284h1v4h-1zM323 281h1v3h-1zM324 279h1v2h-1zM325 278h1v1h-1zM326 276h1v2h-1zM327 275h1v1h-1zM328 274h1v1h-1zM329 273h1v1h-1zM330 272h1v1h-1zM331 271h1v1h-1zM332 270h1v1h-1zM333 269h1v1h-1zM334 267h1v2h-1zM335 266h1v1h-1zM336 265h1v1h-1zM337 264h1v1h-1zM338 262h1v2h-1zM339 261h1v1h-1zM340 260h1v2h-1zM341 262h1v2h-1zM342 264h1v3h-1zM343 267h1v2h-1zM344 269h1v3h-1zM345 272h1v2h-1zM346 274h1v3h-1zM347 277h1v2h-1zM348 279h1v3h-1zM349 282h1v2h-1zM350 284h1v2h-1zM351 286h1v2h-1zM352 288h1v2h-1zM353 290h1v2h-1zM354 292h1v1h-1zM355 293h1v2h-1zM356 295h1v2h-1zM357 297h1v3h-1zM358 300h1v4h-1zM359 304h1v3h-1zM360 307h1v2h-1zM361 309h1v2h-1zM362 311h1v2h-1zM363 313h1v2h-1zM364 315h1v2h-1zM365 317h1v3h-1zM366 320h1v4h-1zM367 324h1v3h-1zM368 327h1v3h-1zM369 330h1v4h-1zM370 334h1v3h-1zM371 337h1v4h-1zM372 341h1v3h-1zM373 344h1v4h-1zM374 348h1v4h-1zM375 352h1v4h-1zM376 356h1v3h-1zM377 359h1v2h-1zM378 361h1v2h-1zM379 363h1v2h-1zM380 365h1v1h-1zM381 364h1v1h-1zM382 364h1v1h-1zM383 363h1v1h-1zM384 362h1v2h-1zM385 358h1v4h-1zM386 354h1v4h-1zM387 350h1v4h-1zM388 347h1v3h-1zM389 346h1v1h-1zM390 344h1v2h-1zM391 343h1v1h-1zM392 342h1v1h-1zM393 340h1v2h-1zM394 339h1v1h-1zM395 337h1v2h-1zM396 336h1v1h-1zM397 335h1v1h-1zM398 334h1v1h-1zM399 333h1v1h-1zM400 332h1v1h-1zM401 332h1v1h-1zM402 333h1v1h-1zM403 333h1v1h-1zM404 333h1v2h-1zM405 335h1v2h-1zM406 337h1v3h-1zM407 340h1v2h-1zM408 342h1v2h-1zM409 342h1v1h-1zM410 342h1v1h-1zM411 341h1v1h-1zM412 341h1v1h-1zM413 339h1v2h-1zM414 338h1v1h-1zM415 336h1v2h-1zM416 335h1v1h-1zM417 333h1v2h-1zM418 331h1v2h-1zM419 329h1v2h-1zM420 328h1v1h-1zM421 327h1v1h-1zM422 325h1v2h-1zM423 324h1v1h-1zM424 323h1v1h-1zM425 321h1v2h-1zM426 319h1v2h-1zM427 317h1v2h-1zM428 315h1v2h-1zM429 315h1v1h-1zM430 314h1v1h-1zM431 314h1v1h-1zM432 314h1v1h-1zM433 315h1v1h-1zM434 316h1v1h-1zM435 317h1v1h-1zM436 318h1v2h-1zM437 320h1v2h-1zM438 322h1v2h-1zM439 324h1v2h-1zM440 326h1v3h-1zM441 329h1v2h-1zM442 331h1v3h-1zM443 334h1v2h-1zM444 336h1v3h-1zM445 339h1v3h-1zM446 342h1v2h-1zM447 344h1v3h-1zM448 347h1v2h-1zM449 349h1v2h-1zM450 351h1v1h-1zM451 352h1v2h-1zM452 354h1v1h-1zM453 355h1v2h-1zM454 357h1v2h-1zM455 359h1v2h-1zM456 361h1v1h-1zM457 362h1v1h-1zM458 363h1v1h-1zM459 364h1v1h-1zM460 365h1v1h-1zM461 365h1v1h-1zM462 364h1v1h-1zM463 364h1v1h-1zM464 364h1v1h-1zM465 362h1v2h-1zM466 361h1v1h-1zM467 359h1v2h-1zM468 358h1v1h-1zM469 356h1v2h-1zM470 355h1v1h-1zM471 353h1v2h-1zM472 352h1v1h-1zM473 350h1v2h-1zM474 349h1v1h-1zM475 347h1v2h-1zM476 346h1v1h-1zM477 345h1v1h-1zM478 344h1v1h-1zM479 344h1v1h-1zM480 343h1v1h-1zM481 344h1v2h-1zM482 346h1v1h-1zM483 347h1v2h-1zM484 349h1v1h-1zM485 350h1v2h-1zM486 352h1v2h-1zM487 354h1v2h-1zM488 356h1v3h-1zM489 359h1v2h-1zM490 361h1v2h-1zM491 363h1v2h-1zM492 365h1v2h-1zM493 367h1v1h-1zM494 368h1v1h-1zM495 368h1v1h-1zM496 369h1v1h-1zM497 368h1v1h-1zM498 367h1v1h-1zM499 366h1v1h-1zM500 364h1v2h-1zM501 360h1v4h-1zM502 356h1v4h-1zM503 352h1v4h-1zM504 348h1v4h-1zM505 344h1v4h-1zM506 340h1v4h-1zM507 336h1v4h-1zM508 332h1v4h-1zM509 326h1v6h-1zM510 321h1v5h-1zM511 315h1v6h-1zM512 310h1v5h-1zM513 304h1v6h-1zM514 298h1v6h-1zM515 292h1v6h-1zM516 287h1v5h-1zM517 282h1v5h-1zM518 277h1v5h-1zM519 272h1v5h-1zM520 268h1v4h-1zM521 265h1v3h-1zM522 262h1v3h-1zM523 259h1v3h-1zM524 256h1v3h-1zM525 253h1v3h-1zM526 251h1v2h-1zM527 248h1v3h-1zM528 246h1v2h-1zM529 245h1v1h-1zM530 245h1v1h-1zM531 244h1v1h-1zM532 244h1v1h-1zM533 245h1v2h-1zM534 247h1v2h-1zM535 249h1v2h-1zM536 251h1v4h-1zM537 255h1v5h-1zM538 260h1v4h-1zM539 264h1v5h-1zM540 269h1v4h-1zM541 273h1v4h-1zM542 277h1v4h-1zM543 281h1v4h-1zM544 285h1v4h-1zM545 289h1v3h-1zM546 292h1v3h-1zM547 295h1v3h-1zM548 298h1v4h-1zM549 302h1v4h-1zM550 306h1v5h-1zM551 311h1v4h-1zM552 315h1v4h-1zM553 319h1v2h-1zM554 321h1v2h-1zM555 323h1v2h-1zM556 325h1v2h-1zM557 323h1v2h-1zM558 320h1v3h-1zM559 318h1v2h-1zM560 314h1v4h-1zM561 309h1v5h-1zM562 304h1v5h-1zM563 299h1v5h-1zM564 294h1v5h-1zM565 289h1v5h-1zM566 284h1v5h-1zM567 279h1v5h-1zM568 273h1v6h-1zM569 265h1v8h-1zM570 258h1v7h-1zM571 250h1v8h-1zM572 243h1v7h-1zM573 237h1v6h-1zM574 230h1v7h-1zM575 224h1v6h-1zM576 219h1v5h-1zM577 215h1v4h-1zM578 211h1v4h-1zM579 207h1v4h-1zM580 204h1v3h-1zM581 202h1v2h-1zM582 200h1v2h-1zM583 198h1v2h-1zM584 197h1v1h-1zM585 197h1v1h-1zM586 197h1v1h-1zM587 197h1v1h-1zM588 197h1v1h-1zM589 198h1v1h-1zM590 198h1v1h-1zM591 199h1v1h-1zM592 199h1v2h-1zM593 201h1v3h-1zM594 204h1v3h-1zM595 207h1v3h-1zM596 210h1v3h-1zM597 213h1v4h-1zM598 217h1v3h-1zM599 220h1v4h-1zM600 224h1v3h-1zM601 227h1v4h-1zM602 231h1v3h-1zM603 234h1v4h-1zM604 238h1v3h-1zM605 241h1v4h-1zM606 245h1v3h-1zM607 248h1v4h-1zM608 252h1v5h-1zM609 257h1v6h-1zM610 263h1v6h-1zM611 269h1v6h-1zM612 275h1v5h-1zM613 280h1v3h-1zM614 283h1v4h-1zM615 287h1v3h-1zM616 290h1v3h-1zM617 293h1v4h-1zM618 297h1v3h-1zM619 300h1v4h-1zM620 304h1v3h-1zM621 307h1v2h-1zM622 309h1v2h-1zM623 311h1v2h-1zM624 313h1v2h-1zM625 315h1v1h-1zM626 316h1v1h-1zM627 316h1v1h-1zM628 317h1v1h-1zM629 315h1v2h-1zM630 314h1v1h-1zM631 312h1v2h-1zM632 311h1v1h-1zM633 310h1v1h-1zM634 308h1v2h-1zM635 307h1v1h-1zM636 305h1v2h-1zM637 303h1v2h-1zM638 300h1v3h-1zM639 298h1v2h-1zM640 296h1v2h-1zM641 294h1v2h-1zM642 292h1v2h-1zM643 290h1v2h-1zM644 288h1v2h-1zM645 289h1v2h-1zM646 291h1v2h-1zM647 293h1v2h-1zM648 295h1v2h-1zM649 297h1v1h-1zM650 298h1v1h-1zM651 299h1v1h-1zM652 300h1v1h-1zM653 301h1v1h-1zM654 302h1v1h-1zM655 303h1v1h-1zM656 304h1v1h-1zM657 305h1v2h-1zM658 307h1v2h-1zM659 309h1v2h-1zM660 311h1v2h-1zM661 313h1v2h-1zM662 315h1v2h-1zM663 317h1v2h-1zM664 319h1v1h-1zM665 319h1v1h-1zM666 318h1v1h-1zM667 318h1v1h-1zM668 318h1v2h-1zM669 320h1v3h-1zM670 323h1v3h-1zM671 326h1v3h-1zM672 329h1v3h-1zM673 332h1v3h-1zM674 335h1v4h-1zM675 339h1v3h-1zM676 342h1v3h-1zM677 345h1v2h-1zM678 347h1v3h-1zM679 350h1v2h-1zM680 352h1v3h-1zM681 355h1v4h-1zM682 359h1v4h-1zM683 363h1v4h-1zM684 367h1v3h-1zM685 370h1v3h-1zM686 373h1v4h-1zM687 377h1v3h-1zM688 380h1v2h-1zM689 382h1v1h-1zM690 382h1v1h-1zM691 383h1v1h-1zM692 383h1v1h-1zM693 383h1v1h-1zM694 382h1v1h-1zM695 382h1v1h-1zM696 382h1v1h-1zM697 383h1v1h-1zM698 384h1v1h-1zM699 385h1v1h-1zM700 386h1v2h-1zM701 388h1v2h-1zM702 390h1v2h-1zM703 392h1v2h-1zM704 394h1v2h-1zM705 396h1v1h-1zM706 396h1v1h-1zM707 397h1v1h-1zM708 397h1v1h-1zM709 398h1v1h-1zM710 399h1v2h-1zM711 401h1v1h-1zM712 402h1v1h-1zM713 400h1v2h-1zM714 398h1v2h-1zM715 396h1v2h-1zM716 394h1v2h-1zM717 391h1v3h-1zM718 389h1v2h-1zM719 386h1v3h-1zM720 381h1v5h-1zM721 374h1v7h-1zM722 368h1v6h-1zM723 361h1v7h-1zM724 356h1v5h-1zM725 352h1v4h-1zM726 349h1v3h-1zM727 345h1v4h-1zM728 341h1v4h-1zM729 337h1v4h-1zM730 333h1v4h-1zM731 329h1v4h-1zM732 326h1v3h-1zM733 326h1v1h-1zM734 325h1v1h-1zM735 325h1v1h-1zM736 325h1v1h-1zM737 324h1v1h-1zM738 324h1v1h-1zM739 323h1v1h-1zM740 323h1v1h-1zM741 324h1v2h-1zM742 326h1v2h-1zM743 328h1v2h-1zM744 330h1v3h-1zM745 333h1v2h-1zM746 335h1v3h-1zM747 338h1v2h-1zM748 340h1v4h-1zM749 344h1v5h-1zM750 349h1v4h-1zM751 353h1v5h-1zM752 358h1v5h-1zM753 363h1v4h-1zM754 367h1v5h-1zM755 372h1v4h-1zM756 376h1v5h-1zM757 381h1v4h-1zM758 385h1v4h-1zM759 389h1v4h-1zM760 393h1v4h-1zM761 397h1v3h-1zM762 400h1v4h-1zM763 404h1v3h-1zM764 407h1v2h-1zM765 409h1v2h-1zM766 411h1v2h-1zM767 413h1v2h-1zM768 415h1v2h-1zM769 416h1v1h-1zM770 416h1v1h-1zM771 416h1v1h-1zM772 416h1v1h-1zM773 416h1v1h-1zM774 416h1v1h-1zM775 416h1v1h-1zM776 416h1v1h-1zM777 414h1v2h-1zM778 412h1v2h-1zM779 410h1v2h-1zM780 408h1v2h-1zM781 406h1v2h-1zM782 404h1v2h-1zM783 402h1v2h-1zM784 401h1v1h-1zM785 400h1v1h-1zM786 399h1v1h-1zM787 399h1v1h-1zM788 398h1v1h-1zM789 398h1v1h-1zM790 398h1v1h-1zM791 398h1v1h-1zM792 398h1v1h-1zM793 398h1v1h-1zM794 399h1v1h-1zM795 399h1v1h-1zM796 399h1v2h-1zM797 401h1v4h-1zM798 405h1v3h-1zM799 408h1v4h-1zM800 412h1v4h-1zM801 416h1v6h-1zM802 422h1v6h-1zM803 428h1v6h-1zM804 434h1v6h-1zM805 440h1v5h-1zM806 445h1v5h-1zM807 450h1v5h-1zM808 455h1v5h-1zM809 460h1v5h-1zM810 465h1v4h-1zM811 469h1v5h-1zM812 474h1v5h-1zM813 479h1v4h-1zM814 483h1v5h-1zM815 488h1v4h-1zM816 492h1v3h-1zM817 495h1v1h-1zM818 496h1v2h-1zM819 498h1v1h-1zM820 499h1v1h-1zM821 497h1v2h-1zM822 495h1v2h-1zM823 493h1v2h-1zM824 490h1v3h-1zM825 488h1v2h-1zM826 485h1v3h-1zM827 483h1v2h-1zM828 480h1v3h-1zM829 478h1v2h-1zM830 476h1v2h-1zM831 474h1v2h-1zM832 471h1v3h-1zM833 467h1v4h-1zM834 464h1v3h-1zM835 460h1v4h-1zM836 458h1v2h-1zM837 457h1v1h-1zM838 456h1v1h-1zM839 456h1v1h-1zM840 455h1v1h-1zM841 456h1v2h-1zM842 458h1v1h-1zM843 459h1v2h-1zM844 461h1v1h-1zM845 459h1v2h-1zM846 458h1v1h-1zM847 456h1v2h-1zM848 455h1v1h-1zM849 453h1v2h-1zM850 452h1v1h-1zM851 450h1v2h-1zM852 449h1v1h-1zM853 448h1v1h-1zM854 448h1v1h-1zM855 447h1v1h-1zM856 447h1v1h-1zM857 448h1v2h-1zM858 450h1v1h-1zM859 451h1v2h-1zM860 452h1v2h-1zM861 450h1v2h-1zM862 447h1v3h-1zM863 445h1v2h-1zM864 443h1v2h-1zM865 444h1v1h-1zM866 445h1v1h-1zM867 445h1v1h-1zM868 446h1v1h-1zM869 447h1v1h-1zM870 448h1v1h-1zM871 449h1v1h-1zM872 450h1v2h-1zM873 452h1v2h-1zM874 454h1v3h-1zM875 457h1v2h-1zM876 459h1v2h-1zM877 459h1v1h-1zM878 459h1v1h-1zM879 458h1v1h-1zM880 458h1v2h-1zM881 460h1v3h-1zM882 463h1v3h-1zM883 466h1v3h-1zM884 469h1v2h-1zM885 471h1v2h-1zM886 473h1v1h-1zM887 474h1v2h-1zM888 476h1v2h-1zM889 478h1v4h-1zM890 482h1v4h-1zM891 486h1v4h-1zM892 490h1v3h-1zM893 493h1v2h-1zM894 495h1v3h-1zM895 498h1v2h-1zM896 500h1v3h-1zM897 503h1v3h-1zM898 506h1v3h-1zM899 509h1v3h-1zM900 512h1v2h-1zM901 514h1v2h-1zM902 516h1v2h-1zM903 518h1v2h-1zM904 520h1v3h-1zM905 523h1v4h-1zM906 527h1v4h-1zM907 531h1v4h-1zM908 535h1v3h-1zM909 538h1v1h-1zM910 539h1v1h-1zM911 539h1v1h-1zM912 540h1v1h-1zM913 539h1v1h-1zM914 539h1v1h-1zM915 538h1v1h-1zM916 538h1v1h-1zM917 536h1v2h-1zM918 534h1v2h-1zM919 532h1v2h-1zM920 531h1v1h-1zM921 530h1v1h-1zM922 528h1v2h-1zM923 527h1v1h-1zM924 525h1v2h-1zM925 522h1v3h-1zM926 518h1v4h-1zM927 515h1v3h-1zM928 513h1v2h-1zM929 511h1v2h-1zM930 509h1v2h-1zM931 507h1v2h-1zM932 505h1v2h-1zM933 505h1v1h-1zM934 505h1v1h-1zM935 505h1v1h-1zM936 505h1v1h-1zM937 506h1v1h-1zM938 506h1v1h-1zM939 507h1v1h-1zM940 507h1v1h-1zM941 505h1v2h-1zM942 504h1v1h-1zM943 502h1v2h-1zM944 500h1v2h-1zM945 498h1v2h-1zM946 496h1v2h-1zM947 494h1v2h-1zM948 491h1v3h-1zM949 489h1v2h-1zM950 487h1v2h-1zM951 485h1v2h-1zM952 482h1v3h-1zM953 479h1v3h-1zM954 476h1v3h-1zM955 473h1v3h-1zM956 471h1v2h-1zM957 469h1v2h-1zM958 467h1v2h-1zM959 465h1v2h-1zM960 462h1v3h-1zM961 460h1v2h-1zM962 458h1v2h-1zM963 456h1v2h-1zM964 453h1v3h-1zM965 449h1v4h-1zM966 446h1v3h-1zM967 442h1v4h-1zM968 438h1v4h-1zM969 434h1v4h-1zM970 430h1v4h-1zM971 426h1v4h-1zM972 421h1v5h-1zM973 416h1v5h-1zM974 410h1v6h-1zM975 405h1v5h-1zM976 400h1v5h-1zM977 396h1v4h-1zM978 392h1v4h-1zM979 388h1v4h-1zM980 384h1v4h-1zM981 382h1v2h-1zM982 380h1v2h-1zM983 378h1v2h-1zM984 376h1v2h-1zM985 377h1v1h-1zM986 377h1v1h-1zM987 378h1v1h-1zM988 378h1v2h-1zM989 380h1v2h-1zM990 382h1v2h-1zM991 384h1v2h-1zM992 386h1v3h-1zM993 389h1v3h-1zM994 392h1v3h-1zM995 395h1v3h-1zM996 398h1v3h-1zM997 401h1v2h-1zM998 403h1v3h-1zM999 406h1v2h-1zM1000 408h1v2h-1zM1001 410h1v2h-1zM1002 412h1v2h-1zM1003 414h1v2h-1zM1004 416h1v1h-1zM1005 416h1v1h-1zM1006 416h1v1h-1zM1007 416h1v1h-1zM1008 416h1v1h-1zM1009 415h1v1h-1zM1010 414h1v1h-1zM1011 413h1v1h-1zM1012 411h1v2h-1zM1013 408h1v3h-1zM1014 405h1v3h-1zM1015 402h1v3h-1zM1016 399h1v3h-1zM1017 396h1v3h-1zM1018 392h1v4h-1zM1019 389h1v3h-1zM1020 386h1v3h-1zM1021 384h1v2h-1zM1022 381h1v3h-1zM1023 379h1v2h-1zM1024 377h1v2h-1zM1025 375h1v2h-1zM1026 374h1v1h-1zM1027 372h1v2h-1zM1028 371h1v1h-1zM1029 372h1v2h-1zM1030 374h1v2h-1zM1031 376h1v2h-1zM1032 378h1v3h-1zM1033 381h1v3h-1zM1034 384h1v3h-1zM1035 387h1v3h-1zM1036 390h1v4h-1zM1037 394h1v4h-1zM1038 398h1v5h-1zM1039 403h1v4h-1zM1040 407h1v5h-1zM1041 412h1v6h-1zM1042 418h1v5h-1zM1043 423h1v6h-1zM1044 429h1v5h-1zM1045 434h1v5h-1zM1046 439h1v5h-1zM1047 444h1v5h-1zM1048 449h1v3h-1zM1049 452h1v2h-1zM1050 454h1v1h-1zM1051 455h1v2h-1zM1052 457h1v2h-1zM1053 459h1v2h-1zM1054 461h1v3h-1zM1055 464h1v2h-1zM1056 466h1v2h-1zM1057 468h1v1h-1zM1058 469h1v2h-1zM1059 471h1v1h-1zM1060 472h1v1h-1zM1061 473h1v1h-1zM1062 474h1v1h-1zM1063 474h1v1h-1zM1064 475h1v1h-1zM1065 474h1v1h-1zM1066 472h1v2h-1zM1067 471h1v1h-1zM1068 470h1v1h-1zM1069 469h1v1h-1zM1070 468h1v1h-1zM1071 468h1v1h-1zM1072 466h1v2h-1zM1073 464h1v2h-1zM1074 461h1v3h-1zM1075 459h1v2h-1zM1076 456h1v3h-1zM1077 454h1v2h-1zM1078 451h1v3h-1zM1079 449h1v2h-1zM1080 446h1v3h-1zM1081 444h1v2h-1zM1082 441h1v3h-1zM1083 439h1v2h-1zM1084 437h1v2h-1zM1085 436h1v1h-1zM1086 435h1v1h-1zM1087 434h1v1h-1zM1088 433h1v1h-1zM1089 434h1v1h-1zM1090 435h1v1h-1zM1091 436h1v1h-1zM1092 437h1v1h-1zM1093 438h1v2h-1zM1094 440h1v2h-1zM1095 442h1v2h-1zM1096 444h1v3h-1zM1097 447h1v2h-1zM1098 449h1v3h-1zM1099 452h1v2h-1zM1100 454h1v2h-1zM1101 456h1v2h-1zM1102 458h1v2h-1zM1103 460h1v2h-1zM1104 462h1v3h-1zM1105 465h1v3h-1zM1106 468h1v3h-1zM1107 471h1v3h-1zM1108 474h1v2h-1zM1109 476h1v1h-1zM1110 477h1v1h-1zM1111 478h1v1h-1zM1112 479h1v1h-1zM1113 479h1v1h-1zM1114 479h1v1h-1zM1115 479h1v1h-1zM1116 479h1v1h-1zM1117 479h1v1h-1zM1118 478h1v1h-1zM1119 478h1v1h-1zM1120 477h1v2h-1zM1121 475h1v2h-1zM1122 473h1v2h-1zM1123 471h1v2h-1zM1124 468h1v3h-1zM1125 465h1v3h-1zM1126 461h1v4h-1zM1127 458h1v3h-1zM1128 455h1v3h-1zM1129 452h1v3h-1zM1130 448h1v4h-1zM1131 445h1v3h-1zM1132 442h1v3h-1zM1133 440h1v2h-1zM1134 437h1v3h-1zM1135 435h1v2h-1zM1136 433h1v2h-1zM1137 432h1v1h-1zM1138 431h1v1h-1zM1139 431h1v1h-1zM1140 430h1v1h-1zM1141 431h1v1h-1zM1142 432h1v1h-1zM1143 432h1v1h-1zM1144 433h1v1h-1zM1145 434h1v1h-1zM1146 434h1v1h-1zM1147 435h1v1h-1zM1148 435h1v1h-1zM1149 435h1v1h-1zM1150 434h1v1h-1zM1151 434h1v1h-1zM1152 434h1v1h-1zM1153 435h1v1h-1zM1154 435h1v1h-1zM1155 436h1v1h-1zM1156 435h1v2h-1zM1157 432h1v3h-1zM1158 429h1v3h-1zM1159 426h1v3h-1zM1160 423h1v3h-1zM1161 420h1v3h-1zM1162 417h1v3h-1zM1163 414h1v3h-1zM1164 412h1v2h-1zM1165 410h1v2h-1zM1166 408h1v2h-1zM1167 406h1v2h-1zM1168 404h1v2h-1zM1169 402h1v2h-1zM1170 400h1v2h-1zM1171 398h1v2h-1zM1172 396h1v2h-1zM1173 393h1v3h-1zM1174 391h1v2h-1zM1175 388h1v3h-1zM1176 386h1v2h-1zM1177 386h1v1h-1zM1178 385h1v1h-1zM1179 385h1v1h-1zM1180 385h1v1h-1zM1181 386h1v1h-1zM1182 387h1v1h-1zM1183 387h1v1h-1zM1184 388h1v1h-1zM1185 389h1v1h-1zM1186 390h1v2h-1zM1187 392h1v1h-1zM1188 393h1v2h-1zM1189 395h1v2h-1zM1190 397h1v3h-1zM1191 400h1v2h-1zM1192 402h1v3h-1zM1193 405h1v3h-1zM1194 408h1v4h-1zM1195 412h1v3h-1zM1196 415h1v2h-1z" fill="#ffa500" shape-rendering="crispEdges"/>
</g>
<rect x="4" y="430" width="1499" height="1" fill="#c0c0c0"/>
<rect x="4" y="333" width="1500" height="2" fill="#ff0000"/>
<rect x="3" y="331" width="6" height="6" fill="#ff0000"/>
<rect x="5" y="333" width="2" height="2" fill="#ffffff"/>
<rect x="1497" y="331" width="6" height="6" fill="#ff0000"/>
<rect x="1499" y="333" width="2" height="2" fill="#ffffff"/>
<rect x="4" y="409" width="1500" height="2" fill="#00ff00"/>
<rect x="3" y="407" width="6" height="6" fill="#00ff00"/>
<rect x="5" y="409" width="2" height="2" fill="#ffffff"/>
<rect x="1497" y="407" width="6" height="6" fill="#00ff00"/>
<rect x="1499" y="409" width="2" height="2" fill="#ffffff"/>
<rect x="4" y="485" width="1500" height="2" fill="#0000ff"/>
<rect x="3" y="483" width="6" height="6" fill="#0000ff"/>
<rect x="5" y="485" width="2" height="2" fill="#ffffff"/>
<rect x="1497" y="483" width="6" height="6" fill="#0000ff"/>
<rect x="1499" y="485" width="2" height="2" fill="#ffffff"/>
<rect x="4" y="576" width="1500" height="2" fill="#0000cd"/>
<polygon points="1197,27 1206,27 1201.5,32" fill="#c0c0c0"/>
<rect x="1505" y="328" width="40" height="11" fill="#ff0000"/>
<text transform="translate(1508.97,337) scale(0.9248,1.0)" font-size="10" fill="#ffffff" stroke="#ffffff" stroke-width="0.14">1.12006</text>
<rect x="1505" y="404" width="40" height="11" fill="#00ff00"/>
<text transform="translate(1508.97,413) scale(0.9248,1.0)" font-size="10" fill="#ffffff" stroke="#ffffff" stroke-width="0.14">1.11009</text>
<rect x="1505" y="425" width="40" height="11" fill="#000000"/>
<text transform="translate(1508.97,434) scale(0.9248,1.0)" font-size="10" fill="#ffffff" stroke="#ffffff" stroke-width="0.14">1.10746</text>
<rect x="1505" y="480" width="40" height="11" fill="#0000ff"/>
<text transform="translate(1508.97,489) scale(0.9248,1.0)" font-size="10" fill="#ffffff" stroke="#ffffff" stroke-width="0.14">1.10008</text>
<rect x="1505" y="571" width="40" height="11" fill="#0000cd"/>
<text transform="translate(1508.97,580) scale(0.9248,1.0)" font-size="10" fill="#ffffff" stroke="#ffffff" stroke-width="0.14">1.08800</text>
<polygon points="7,33 14,33 10.5,37" fill="#000"/>
<text transform="translate(18.60,38) scale(0.9410,1.0)" font-size="10" fill="#000" stroke="#000" stroke-width="0.14">EURUSD,Daily</text>
<text transform="translate(88.99,38) scale(0.9096,1.0)" font-size="10" fill="#000" stroke="#000" stroke-width="0.14">1.10773</text>
<text transform="translate(124.62,38) scale(0.9270,1.0)" font-size="10" fill="#000" stroke="#000" stroke-width="0.14">1.10795</text>
<text transform="translate(160.77,38) scale(0.9270,1.0)" font-size="10" fill="#000" stroke="#000" stroke-width="0.14">1.10743</text>
<text transform="translate(196.77,38) scale(0.9196,1.0)" font-size="10" fill="#000" stroke="#000" stroke-width="0.14">1.10746</text>
<line x1="5" y1="627.5" x2="1503" y2="627.5" stroke="#c0c0c0" stroke-dasharray="3,3" shape-rendering="crispEdges"/>
<line x1="5" y1="668.5" x2="1503" y2="668.5" stroke="#c0c0c0" stroke-dasharray="3,3" shape-rendering="crispEdges"/>
<clipPath id="cr"><rect x="4" y="596" width="1499" height="103"/></clipPath><g clip-path="url(#cr)">
<path d="M4 636h1v1h-1zM5 636h1v1h-1zM6 635h1v1h-1zM7 635h1v1h-1zM8 635h1v1h-1zM9 636h1v2h-1zM10 638h1v1h-1zM11 639h1v2h-1zM12 641h1v1h-1zM13 641h1v1h-1zM14 642h1v1h-1zM15 642h1v1h-1zM16 642h1v1h-1zM17 642h1v1h-1zM18 642h1v1h-1zM19 642h1v1h-1zM20 642h1v1h-1zM21 643h1v1h-1zM22 644h1v1h-1zM23 645h1v1h-1zM24 646h1v1h-1zM25 647h1v2h-1zM26 649h1v1h-1zM27 650h1v2h-1zM28 652h1v1h-1zM29 653h1v1h-1zM30 653h1v1h-1zM31 654h1v1h-1zM32 654h1v1h-1zM33 655h1v1h-1zM34 655h1v1h-1zM35 656h1v1h-1zM36 656h1v1h-1zM37 656h1v1h-1zM38 655h1v1h-1zM39 655h1v1h-1zM40 655h1v1h-1zM41 655h1v1h-1zM42 656h1v1h-1zM43 656h1v1h-1zM44 656h1v1h-1zM45 656h1v1h-1zM46 657h1v1h-1zM47 657h1v1h-1zM48 657h1v1h-1zM49 656h1v1h-1zM50 654h1v2h-1zM51 653h1v1h-1zM52 652h1v1h-1zM53 653h1v1h-1zM54 654h1v1h-1zM55 655h1v1h-1zM56 656h1v1h-1zM57 654h1v2h-1zM58 652h1v2h-1zM59 650h1v2h-1zM60 648h1v2h-1zM61 647h1v1h-1zM62 646h1v1h-1zM63 646h1v1h-1zM64 645h1v1h-1zM65 644h1v1h-1zM66 643h1v1h-1zM67 643h1v1h-1zM68 642h1v1h-1zM69 643h1v1h-1zM70 644h1v1h-1zM71 645h1v1h-1zM72 646h1v1h-1zM73 645h1v1h-1zM74 645h1v1h-1zM75 644h1v1h-1zM76 644h1v1h-1zM77 642h1v2h-1zM78 640h1v2h-1zM79 638h1v2h-1zM80 637h1v1h-1zM81 638h1v1h-1zM82 638h1v1h-1zM83 639h1v1h-1zM84 639h1v1h-1zM85 639h1v1h-1zM86 640h1v1h-1zM87 640h1v1h-1zM88 640h1v1h-1zM89 641h1v2h-1zM90 643h1v1h-1zM91 644h1v2h-1zM92 646h1v1h-1zM93 647h1v1h-1zM94 648h1v1h-1zM95 649h1v1h-1zM96 650h1v1h-1zM97 651h1v1h-1zM98 652h1v1h-1zM99 653h1v1h-1zM100 654h1v1h-1zM101 655h1v1h-1zM102 656h1v1h-1zM103 656h1v1h-1zM104 657h1v1h-1zM105 658h1v1h-1zM106 659h1v1h-1zM107 659h1v1h-1zM108 660h1v1h-1zM109 661h1v1h-1zM110 661h1v1h-1zM111 662h1v1h-1zM112 662h1v1h-1zM113 663h1v1h-1zM114 664h1v2h-1zM115 666h1v1h-1zM116 667h1v1h-1zM117 666h1v1h-1zM118 664h1v2h-1zM119 663h1v1h-1zM120 662h1v1h-1zM121 662h1v1h-1zM122 663h1v1h-1zM123 663h1v1h-1zM124 663h1v1h-1zM125 663h1v1h-1zM126 664h1v1h-1zM127 664h1v1h-1zM128 664h1v1h-1zM129 665h1v1h-1zM130 665h1v1h-1zM131 666h1v1h-1zM132 666h1v1h-1zM133 664h1v2h-1zM134 662h1v2h-1zM135 660h1v2h-1zM136 658h1v2h-1zM137 657h1v1h-1zM138 657h1v1h-1zM139 656h1v1h-1zM140 656h1v1h-1zM141 655h1v1h-1zM142 653h1v2h-1zM143 652h1v1h-1zM144 651h1v1h-1zM145 650h1v1h-1zM146 649h1v1h-1zM147 649h1v1h-1zM148 648h1v1h-1zM149 648h1v1h-1zM150 648h1v1h-1zM151 648h1v1h-1zM152 648h1v1h-1zM153 649h1v1h-1zM154 649h1v1h-1zM155 650h1v1h-1zM156 650h1v1h-1zM157 650h1v1h-1zM158 651h1v1h-1zM159 651h1v1h-1zM160 651h1v1h-1zM161 650h1v1h-1zM162 650h1v1h-1zM163 649h1v1h-1zM164 649h1v1h-1zM165 648h1v1h-1zM166 647h1v1h-1zM167 646h1v1h-1zM168 645h1v1h-1zM169 644h1v1h-1zM170 643h1v1h-1zM171 642h1v1h-1zM172 641h1v1h-1zM173 641h1v1h-1zM174 640h1v1h-1zM175 640h1v1h-1zM176 640h1v1h-1zM177 640h1v1h-1zM178 640h1v1h-1zM179 640h1v1h-1zM180 640h1v1h-1zM181 641h1v2h-1zM182 643h1v2h-1zM183 645h1v2h-1zM184 647h1v1h-1zM185 648h1v2h-1zM186 650h1v2h-1zM187 652h1v2h-1zM188 654h1v2h-1zM189 656h1v1h-1zM190 657h1v1h-1zM191 657h1v1h-1zM192 658h1v1h-1zM193 657h1v1h-1zM194 656h1v1h-1zM195 656h1v1h-1zM196 655h1v2h-1zM197 657h1v3h-1zM198 660h1v3h-1zM199 663h1v3h-1zM200 666h1v2h-1zM201 666h1v1h-1zM202 666h1v1h-1zM203 665h1v1h-1zM204 665h1v1h-1zM205 665h1v1h-1zM206 664h1v1h-1zM207 664h1v1h-1zM208 664h1v1h-1zM209 665h1v1h-1zM210 665h1v1h-1zM211 666h1v1h-1zM212 665h1v2h-1zM213 662h1v3h-1zM214 660h1v2h-1zM215 657h1v3h-1zM216 655h1v2h-1zM217 653h1v2h-1zM218 652h1v1h-1zM219 650h1v2h-1zM220 649h1v1h-1zM221 649h1v1h-1zM222 650h1v1h-1zM223 650h1v1h-1zM224 650h1v1h-1zM225 649h1v1h-1zM226 648h1v1h-1zM227 647h1v1h-1zM228 646h1v1h-1zM229 646h1v1h-1zM230 647h1v1h-1zM231 647h1v1h-1zM232 647h1v1h-1zM233 646h1v1h-1zM234 645h1v1h-1zM235 645h1v1h-1zM236 644h1v1h-1zM237 643h1v1h-1zM238 643h1v1h-1zM239 642h1v1h-1zM240 642h1v1h-1zM241 642h1v1h-1zM242 641h1v1h-1zM243 641h1v1h-1zM244 641h1v1h-1zM245 641h1v1h-1zM246 640h1v1h-1zM247 640h1v1h-1zM248 640h1v2h-1zM249 642h1v4h-1zM250 646h1v3h-1zM251 649h1v4h-1zM252 653h1v2h-1zM253 653h1v1h-1zM254 653h1v1h-1zM255 652h1v1h-1zM256 652h1v1h-1zM257 651h1v1h-1zM258 650h1v1h-1zM259 649h1v1h-1zM260 648h1v1h-1zM261 649h1v2h-1zM262 651h1v1h-1zM263 652h1v2h-1zM264 654h1v1h-1zM265 655h1v1h-1zM266 656h1v1h-1zM267 657h1v1h-1zM268 658h1v1h-1zM269 659h1v1h-1zM270 659h1v1h-1zM271 660h1v1h-1zM272 660h1v1h-1zM273 660h1v1h-1zM274 661h1v1h-1zM275 661h1v1h-1zM276 661h1v1h-1zM277 662h1v1h-1zM278 662h1v1h-1zM279 663h1v1h-1zM280 663h1v1h-1zM281 663h1v1h-1zM282 663h1v1h-1zM283 663h1v1h-1zM284 663h1v1h-1zM285 664h1v1h-1zM286 665h1v1h-1zM287 665h1v1h-1zM288 665h1v2h-1zM289 662h1v3h-1zM290 659h1v3h-1zM291 656h1v3h-1zM292 654h1v2h-1zM293 655h1v1h-1zM294 656h1v1h-1zM295 656h1v1h-1zM296 657h1v1h-1zM297 657h1v1h-1zM298 657h1v1h-1zM299 657h1v1h-1zM300 657h1v1h-1zM301 657h1v1h-1zM302 657h1v1h-1zM303 657h1v1h-1zM304 656h1v2h-1zM305 654h1v2h-1zM306 652h1v2h-1zM307 650h1v2h-1zM308 648h1v2h-1zM309 647h1v1h-1zM310 647h1v1h-1zM311 646h1v1h-1zM312 646h1v1h-1zM313 647h1v1h-1zM314 647h1v1h-1zM315 648h1v1h-1zM316 648h1v1h-1zM317 648h1v1h-1zM318 648h1v1h-1zM319 648h1v1h-1zM320 648h1v1h-1zM321 646h1v2h-1zM322 644h1v2h-1zM323 642h1v2h-1zM324 641h1v1h-1zM325 642h1v1h-1zM326 642h1v1h-1zM327 643h1v1h-1zM328 643h1v1h-1zM329 642h1v1h-1zM330 642h1v1h-1zM331 641h1v1h-1zM332 641h1v1h-1zM333 642h1v1h-1zM334 642h1v1h-1zM335 643h1v1h-1zM336 643h1v1h-1zM337 643h1v1h-1zM338 643h1v1h-1zM339 643h1v1h-1zM340 643h1v2h-1zM341 645h1v3h-1zM342 648h1v2h-1zM343 650h1v3h-1zM344 653h1v2h-1zM345 655h1v1h-1zM346 655h1v1h-1zM347 656h1v1h-1zM348 656h1v1h-1zM349 655h1v1h-1zM350 654h1v1h-1zM351 654h1v1h-1zM352 653h1v1h-1zM353 652h1v1h-1zM354 651h1v1h-1zM355 650h1v1h-1zM356 649h1v1h-1zM357 650h1v2h-1zM358 652h1v2h-1zM359 654h1v2h-1zM360 656h1v2h-1zM361 658h1v1h-1zM362 659h1v1h-1zM363 659h1v1h-1zM364 660h1v1h-1zM365 661h1v2h-1zM366 663h1v1h-1zM367 664h1v2h-1zM368 666h1v1h-1zM369 665h1v1h-1zM370 664h1v1h-1zM371 664h1v1h-1zM372 663h1v1h-1zM373 663h1v1h-1zM374 663h1v1h-1zM375 663h1v1h-1zM376 663h1v1h-1zM377 662h1v1h-1zM378 661h1v1h-1zM379 661h1v1h-1zM380 660h1v1h-1zM381 658h1v2h-1zM382 656h1v2h-1zM383 654h1v2h-1zM384 653h1v1h-1zM385 651h1v2h-1zM386 649h1v2h-1zM387 647h1v2h-1zM388 645h1v2h-1zM389 646h1v2h-1zM390 648h1v2h-1zM391 650h1v2h-1zM392 652h1v2h-1zM393 653h1v1h-1zM394 654h1v1h-1zM395 654h1v1h-1zM396 654h1v1h-1zM397 654h1v1h-1zM398 653h1v1h-1zM399 653h1v1h-1zM400 653h1v1h-1zM401 653h1v1h-1zM402 652h1v1h-1zM403 652h1v1h-1zM404 652h1v1h-1zM405 653h1v1h-1zM406 654h1v1h-1zM407 654h1v1h-1zM408 655h1v1h-1zM409 654h1v1h-1zM410 652h1v2h-1zM411 651h1v1h-1zM412 650h1v1h-1zM413 649h1v1h-1zM414 648h1v1h-1zM415 647h1v1h-1zM416 646h1v1h-1zM417 645h1v1h-1zM418 644h1v1h-1zM419 644h1v1h-1zM420 643h1v1h-1zM421 644h1v1h-1zM422 645h1v1h-1zM423 645h1v1h-1zM424 646h1v1h-1zM425 646h1v1h-1zM426 645h1v1h-1zM427 645h1v1h-1zM428 645h1v1h-1zM429 646h1v1h-1zM430 647h1v2h-1zM431 649h1v1h-1zM432 650h1v1h-1zM433 650h1v1h-1zM434 650h1v1h-1zM435 650h1v1h-1zM436 650h1v1h-1zM437 651h1v1h-1zM438 652h1v2h-1zM439 654h1v1h-1zM440 655h1v1h-1zM441 656h1v1h-1zM442 657h1v1h-1zM443 657h1v1h-1zM444 658h1v1h-1zM445 658h1v1h-1zM446 659h1v1h-1zM447 659h1v1h-1zM448 659h1v1h-1zM449 658h1v1h-1zM450 657h1v1h-1zM451 657h1v1h-1zM452 656h1v1h-1zM453 657h1v1h-1zM454 657h1v1h-1zM455 658h1v1h-1zM456 658h1v1h-1zM457 658h1v1h-1zM458 658h1v1h-1zM459 658h1v1h-1zM460 658h1v1h-1zM461 657h1v1h-1zM462 656h1v1h-1zM463 655h1v1h-1zM464 654h1v1h-1zM465 652h1v2h-1zM466 650h1v2h-1zM467 648h1v2h-1zM468 647h1v1h-1zM469 646h1v1h-1zM470 646h1v1h-1zM471 645h1v1h-1zM472 645h1v1h-1zM473 646h1v1h-1zM474 647h1v1h-1zM475 648h1v1h-1zM476 649h1v1h-1zM477 650h1v1h-1zM478 651h1v1h-1zM479 651h1v1h-1zM480 652h1v1h-1zM481 653h1v2h-1zM482 655h1v2h-1zM483 657h1v2h-1zM484 659h1v2h-1zM485 660h1v1h-1zM486 659h1v1h-1zM487 659h1v1h-1zM488 659h1v1h-1zM489 658h1v1h-1zM490 657h1v1h-1zM491 657h1v1h-1zM492 656h1v1h-1zM493 654h1v2h-1zM494 653h1v1h-1zM495 651h1v2h-1zM496 650h1v1h-1zM497 648h1v2h-1zM498 646h1v2h-1zM499 644h1v2h-1zM500 643h1v1h-1zM501 642h1v1h-1zM502 640h1v2h-1zM503 639h1v1h-1zM504 638h1v1h-1zM505 638h1v1h-1zM506 637h1v1h-1zM507 637h1v1h-1zM508 637h1v1h-1zM509 635h1v2h-1zM510 633h1v2h-1zM511 631h1v2h-1zM512 630h1v1h-1zM513 629h1v1h-1zM514 628h1v1h-1zM515 627h1v1h-1zM516 626h1v1h-1zM517 625h1v1h-1zM518 625h1v1h-1zM519 624h1v1h-1zM520 624h1v1h-1zM521 625h1v2h-1zM522 627h1v2h-1zM523 629h1v2h-1zM524 631h1v2h-1zM525 632h1v1h-1zM526 631h1v1h-1zM527 631h1v1h-1zM528 631h1v1h-1zM529 632h1v1h-1zM530 632h1v1h-1zM531 633h1v1h-1zM532 633h1v1h-1zM533 634h1v2h-1zM534 636h1v2h-1zM535 638h1v2h-1zM536 640h1v3h-1zM537 643h1v3h-1zM538 646h1v2h-1zM539 648h1v3h-1zM540 651h1v2h-1zM541 652h1v1h-1zM542 653h1v1h-1zM543 653h1v1h-1zM544 653h1v1h-1zM545 652h1v1h-1zM546 650h1v2h-1zM547 649h1v1h-1zM548 648h1v1h-1zM549 649h1v2h-1zM550 651h1v1h-1zM551 652h1v2h-1zM552 654h1v1h-1zM553 653h1v1h-1zM554 652h1v1h-1zM555 652h1v1h-1zM556 650h1v2h-1zM557 647h1v3h-1zM558 645h1v2h-1zM559 642h1v3h-1zM560 640h1v2h-1zM561 639h1v1h-1zM562 637h1v2h-1zM563 636h1v1h-1zM564 635h1v1h-1zM565 634h1v1h-1zM566 633h1v1h-1zM567 633h1v1h-1zM568 632h1v1h-1zM569 631h1v1h-1zM570 631h1v1h-1zM571 630h1v1h-1zM572 630h1v1h-1zM573 630h1v1h-1zM574 631h1v1h-1zM575 631h1v1h-1zM576 631h1v1h-1zM577 631h1v1h-1zM578 631h1v1h-1zM579 631h1v1h-1zM580 631h1v1h-1zM581 632h1v1h-1zM582 633h1v1h-1zM583 633h1v1h-1zM584 634h1v1h-1zM585 634h1v1h-1zM586 634h1v1h-1zM587 634h1v1h-1zM588 634h1v1h-1zM589 634h1v1h-1zM590 633h1v1h-1zM591 633h1v1h-1zM592 633h1v2h-1zM593 635h1v4h-1zM594 639h1v3h-1zM595 642h1v4h-1zM596 646h1v2h-1zM597 647h1v1h-1zM598 647h1v1h-1zM599 647h1v1h-1zM600 647h1v1h-1zM601 648h1v1h-1zM602 649h1v1h-1zM603 650h1v1h-1zM604 651h1v1h-1zM605 651h1v1h-1zM606 650h1v1h-1zM607 650h1v1h-1zM608 650h1v2h-1zM609 652h1v2h-1zM610 654h1v2h-1zM611 656h1v2h-1zM612 658h1v2h-1zM613 658h1v1h-1zM614 658h1v1h-1zM615 657h1v1h-1zM616 657h1v1h-1zM617 658h1v1h-1zM618 658h1v1h-1zM619 659h1v1h-1zM620 659h1v1h-1zM621 659h1v1h-1zM622 659h1v1h-1zM623 659h1v1h-1zM624 658h1v2h-1zM625 656h1v2h-1zM626 653h1v3h-1zM627 651h1v2h-1zM628 649h1v2h-1zM629 649h1v1h-1zM630 650h1v1h-1zM631 650h1v1h-1zM632 650h1v1h-1zM633 650h1v1h-1zM634 651h1v1h-1zM635 651h1v1h-1zM636 651h1v1h-1zM637 650h1v1h-1zM638 649h1v1h-1zM639 648h1v1h-1zM640 647h1v1h-1zM641 648h1v1h-1zM642 648h1v1h-1zM643 649h1v1h-1zM644 649h1v1h-1zM645 650h1v2h-1zM646 652h1v2h-1zM647 654h1v2h-1zM648 656h1v2h-1zM649 656h1v1h-1zM650 655h1v1h-1zM651 654h1v1h-1zM652 653h1v1h-1zM653 653h1v1h-1zM654 654h1v1h-1zM655 654h1v1h-1zM656 654h1v1h-1zM657 654h1v1h-1zM658 655h1v1h-1zM659 655h1v1h-1zM660 655h1v1h-1zM661 655h1v1h-1zM662 655h1v1h-1zM663 655h1v1h-1zM664 655h1v1h-1zM665 655h1v1h-1zM666 656h1v1h-1zM667 656h1v1h-1zM668 656h1v1h-1zM669 657h1v2h-1zM670 659h1v2h-1zM671 661h1v2h-1zM672 663h1v2h-1zM673 665h1v1h-1zM674 665h1v1h-1zM675 666h1v1h-1zM676 666h1v1h-1zM677 665h1v1h-1zM678 664h1v1h-1zM679 663h1v1h-1zM680 662h1v1h-1zM681 663h1v1h-1zM682 664h1v1h-1zM683 665h1v1h-1zM684 666h1v1h-1zM685 666h1v1h-1zM686 665h1v1h-1zM687 665h1v1h-1zM688 665h1v1h-1zM689 664h1v1h-1zM690 663h1v1h-1zM691 662h1v1h-1zM692 661h1v1h-1zM693 661h1v1h-1zM694 660h1v1h-1zM695 660h1v1h-1zM696 660h1v1h-1zM697 661h1v1h-1zM698 662h1v1h-1zM699 662h1v1h-1zM700 663h1v1h-1zM701 664h1v2h-1zM702 666h1v2h-1zM703 668h1v2h-1zM704 669h1v2h-1zM705 666h1v3h-1zM706 664h1v2h-1zM707 661h1v3h-1zM708 659h1v2h-1zM709 659h1v1h-1zM710 659h1v1h-1zM711 659h1v1h-1zM712 658h1v2h-1zM713 654h1v4h-1zM714 651h1v3h-1zM715 647h1v4h-1zM716 645h1v2h-1zM717 645h1v1h-1zM718 645h1v1h-1zM719 645h1v1h-1zM720 645h1v1h-1zM721 644h1v1h-1zM722 642h1v2h-1zM723 641h1v1h-1zM724 640h1v1h-1zM725 641h1v1h-1zM726 642h1v2h-1zM727 644h1v1h-1zM728 645h1v1h-1zM729 644h1v1h-1zM730 644h1v1h-1zM731 643h1v1h-1zM732 643h1v1h-1zM733 644h1v1h-1zM734 644h1v1h-1zM735 645h1v1h-1zM736 645h1v1h-1zM737 645h1v1h-1zM738 644h1v1h-1zM739 644h1v1h-1zM740 644h1v1h-1zM741 645h1v1h-1zM742 646h1v2h-1zM743 648h1v1h-1zM744 649h1v1h-1zM745 650h1v2h-1zM746 652h1v1h-1zM747 653h1v2h-1zM748 655h1v1h-1zM749 656h1v1h-1zM750 657h1v2h-1zM751 659h1v1h-1zM752 660h1v1h-1zM753 660h1v1h-1zM754 661h1v1h-1zM755 661h1v1h-1zM756 661h1v1h-1zM757 660h1v1h-1zM758 660h1v1h-1zM759 659h1v1h-1zM760 659h1v1h-1zM761 659h1v1h-1zM762 659h1v1h-1zM763 659h1v1h-1zM764 659h1v1h-1zM765 659h1v1h-1zM766 660h1v1h-1zM767 660h1v1h-1zM768 660h1v1h-1zM769 660h1v1h-1zM770 659h1v1h-1zM771 659h1v1h-1zM772 659h1v1h-1zM773 659h1v1h-1zM774 660h1v1h-1zM775 660h1v1h-1zM776 659h1v2h-1zM777 656h1v3h-1zM778 653h1v3h-1zM779 650h1v3h-1zM780 648h1v2h-1zM781 648h1v1h-1zM782 648h1v1h-1zM783 648h1v1h-1zM784 648h1v1h-1zM785 649h1v2h-1zM786 651h1v1h-1zM787 652h1v2h-1zM788 654h1v1h-1zM789 655h1v1h-1zM790 656h1v1h-1zM791 656h1v1h-1zM792 657h1v1h-1zM793 657h1v1h-1zM794 658h1v1h-1zM795 658h1v1h-1zM796 658h1v1h-1zM797 659h1v1h-1zM798 660h1v1h-1zM799 661h1v1h-1zM800 662h1v1h-1zM801 663h1v2h-1zM802 665h1v2h-1zM803 667h1v2h-1zM804 669h1v1h-1zM805 669h1v1h-1zM806 670h1v1h-1zM807 670h1v1h-1zM808 670h1v1h-1zM809 670h1v1h-1zM810 671h1v1h-1zM811 671h1v1h-1zM812 671h1v1h-1zM813 671h1v1h-1zM814 671h1v1h-1zM815 671h1v1h-1zM816 670h1v2h-1zM817 667h1v3h-1zM818 663h1v4h-1zM819 660h1v3h-1zM820 658h1v2h-1zM821 657h1v1h-1zM822 656h1v1h-1zM823 656h1v1h-1zM824 655h1v1h-1zM825 655h1v1h-1zM826 655h1v1h-1zM827 655h1v1h-1zM828 655h1v1h-1zM829 655h1v1h-1zM830 656h1v1h-1zM831 656h1v1h-1zM832 656h1v1h-1zM833 655h1v1h-1zM834 653h1v2h-1zM835 652h1v1h-1zM836 651h1v1h-1zM837 652h1v1h-1zM838 652h1v1h-1zM839 653h1v1h-1zM840 653h1v1h-1zM841 654h1v2h-1zM842 656h1v1h-1zM843 657h1v2h-1zM844 658h1v2h-1zM845 655h1v3h-1zM846 651h1v4h-1zM847 648h1v3h-1zM848 646h1v2h-1zM849 646h1v1h-1zM850 647h1v1h-1zM851 647h1v1h-1zM852 647h1v1h-1zM853 647h1v1h-1zM854 648h1v1h-1zM855 648h1v1h-1zM856 648h1v1h-1zM857 649h1v2h-1zM858 651h1v2h-1zM859 653h1v2h-1zM860 655h1v2h-1zM861 653h1v2h-1zM862 651h1v2h-1zM863 649h1v2h-1zM864 647h1v2h-1zM865 647h1v1h-1zM866 648h1v1h-1zM867 648h1v1h-1zM868 648h1v1h-1zM869 649h1v1h-1zM870 649h1v1h-1zM871 650h1v1h-1zM872 650h1v1h-1zM873 651h1v2h-1zM874 653h1v1h-1zM875 654h1v2h-1zM876 656h1v1h-1zM877 655h1v1h-1zM878 654h1v1h-1zM879 654h1v1h-1zM880 653h1v1h-1zM881 654h1v1h-1zM882 655h1v1h-1zM883 656h1v1h-1zM884 657h1v1h-1zM885 656h1v1h-1zM886 655h1v1h-1zM887 654h1v1h-1zM888 653h1v1h-1zM889 654h1v2h-1zM890 656h1v2h-1zM891 658h1v2h-1zM892 660h1v1h-1zM893 660h1v1h-1zM894 661h1v1h-1zM895 661h1v1h-1zM896 661h1v1h-1zM897 661h1v1h-1zM898 660h1v1h-1zM899 660h1v1h-1zM900 660h1v1h-1zM901 660h1v1h-1zM902 661h1v1h-1zM903 661h1v1h-1zM904 661h1v1h-1zM905 662h1v1h-1zM906 663h1v1h-1zM907 664h1v1h-1zM908 665h1v1h-1zM909 664h1v1h-1zM910 662h1v2h-1zM911 661h1v1h-1zM912 660h1v1h-1zM913 659h1v1h-1zM914 658h1v1h-1zM915 657h1v1h-1zM916 656h1v1h-1zM917 654h1v2h-1zM918 652h1v2h-1zM919 650h1v2h-1zM920 649h1v1h-1zM921 650h1v1h-1zM922 651h1v1h-1zM923 651h1v1h-1zM924 652h1v1h-1zM925 651h1v1h-1zM926 651h1v1h-1zM927 650h1v1h-1zM928 650h1v1h-1zM929 650h1v1h-1zM930 650h1v1h-1zM931 650h1v1h-1zM932 650h1v1h-1zM933 651h1v1h-1zM934 652h1v2h-1zM935 654h1v1h-1zM936 655h1v1h-1zM937 654h1v1h-1zM938 652h1v2h-1zM939 651h1v1h-1zM940 650h1v1h-1zM941 648h1v2h-1zM942 647h1v1h-1zM943 645h1v2h-1zM944 644h1v1h-1zM945 643h1v1h-1zM946 642h1v1h-1zM947 642h1v1h-1zM948 641h1v1h-1zM949 641h1v1h-1zM950 640h1v1h-1zM951 640h1v1h-1zM952 640h1v1h-1zM953 641h1v1h-1zM954 642h1v1h-1zM955 643h1v1h-1zM956 644h1v1h-1zM957 643h1v1h-1zM958 643h1v1h-1zM959 642h1v1h-1zM960 642h1v1h-1zM961 640h1v2h-1zM962 639h1v1h-1zM963 637h1v2h-1zM964 636h1v1h-1zM965 635h1v1h-1zM966 633h1v2h-1zM967 632h1v1h-1zM968 631h1v1h-1zM969 630h1v1h-1zM970 629h1v1h-1zM971 629h1v1h-1zM972 628h1v1h-1zM973 628h1v1h-1zM974 627h1v1h-1zM975 627h1v1h-1zM976 627h1v1h-1zM977 628h1v1h-1zM978 629h1v1h-1zM979 630h1v1h-1zM980 631h1v1h-1zM981 632h1v1h-1zM982 632h1v1h-1zM983 633h1v1h-1zM984 633h1v1h-1zM985 634h1v1h-1zM986 635h1v1h-1zM987 636h1v1h-1zM988 637h1v1h-1zM989 638h1v1h-1zM990 639h1v1h-1zM991 640h1v1h-1zM992 641h1v1h-1zM993 642h1v1h-1zM994 643h1v1h-1zM995 643h1v1h-1zM996 644h1v1h-1zM997 644h1v1h-1zM998 644h1v1h-1zM999 644h1v1h-1zM1000 644h1v1h-1zM1001 643h1v1h-1zM1002 643h1v1h-1zM1003 642h1v1h-1zM1004 642h1v1h-1zM1005 641h1v1h-1zM1006 640h1v1h-1zM1007 639h1v1h-1zM1008 638h1v1h-1zM1009 638h1v1h-1zM1010 637h1v1h-1zM1011 637h1v1h-1zM1012 637h1v1h-1zM1013 636h1v1h-1zM1014 634h1v2h-1zM1015 633h1v1h-1zM1016 632h1v1h-1zM1017 632h1v1h-1zM1018 631h1v1h-1zM1019 631h1v1h-1zM1020 631h1v1h-1zM1021 631h1v1h-1zM1022 632h1v1h-1zM1023 632h1v1h-1zM1024 632h1v1h-1zM1025 633h1v1h-1zM1026 633h1v1h-1zM1027 634h1v1h-1zM1028 634h1v3h-1zM1029 637h1v4h-1zM1030 641h1v4h-1zM1031 645h1v4h-1zM1032 649h1v3h-1zM1033 651h1v1h-1zM1034 651h1v1h-1zM1035 651h1v1h-1zM1036 651h1v1h-1zM1037 652h1v1h-1zM1038 653h1v1h-1zM1039 654h1v1h-1zM1040 655h1v1h-1zM1041 656h1v1h-1zM1042 657h1v1h-1zM1043 658h1v1h-1zM1044 659h1v1h-1zM1045 659h1v1h-1zM1046 659h1v1h-1zM1047 659h1v1h-1zM1048 659h1v1h-1zM1049 658h1v1h-1zM1050 657h1v1h-1zM1051 656h1v1h-1zM1052 655h1v1h-1zM1053 656h1v1h-1zM1054 657h1v1h-1zM1055 658h1v1h-1zM1056 659h1v1h-1zM1057 659h1v1h-1zM1058 659h1v1h-1zM1059 659h1v1h-1zM1060 659h1v1h-1zM1061 659h1v1h-1zM1062 660h1v1h-1zM1063 660h1v1h-1zM1064 659h1v2h-1zM1065 657h1v2h-1zM1066 654h1v3h-1zM1067 652h1v2h-1zM1068 650h1v2h-1zM1069 650h1v1h-1zM1070 649h1v1h-1zM1071 649h1v1h-1zM1072 649h1v1h-1zM1073 648h1v1h-1zM1074 646h1v2h-1zM1075 645h1v1h-1zM1076 644h1v1h-1zM1077 644h1v1h-1zM1078 645h1v1h-1zM1079 645h1v1h-1zM1080 645h1v1h-1zM1081 646h1v1h-1zM1082 646h1v1h-1zM1083 647h1v1h-1zM1084 647h1v1h-1zM1085 646h1v1h-1zM1086 646h1v1h-1zM1087 645h1v1h-1zM1088 645h1v1h-1zM1089 646h1v2h-1zM1090 648h1v2h-1zM1091 650h1v2h-1zM1092 652h1v2h-1zM1093 654h1v1h-1zM1094 654h1v1h-1zM1095 655h1v1h-1zM1096 655h1v1h-1zM1097 656h1v1h-1zM1098 656h1v1h-1zM1099 657h1v1h-1zM1100 657h1v1h-1zM1101 657h1v1h-1zM1102 657h1v1h-1zM1103 657h1v1h-1zM1104 657h1v1h-1zM1105 658h1v1h-1zM1106 659h1v1h-1zM1107 659h1v1h-1zM1108 660h1v1h-1zM1109 659h1v1h-1zM1110 658h1v1h-1zM1111 658h1v1h-1zM1112 657h1v1h-1zM1113 656h1v1h-1zM1114 654h1v2h-1zM1115 653h1v1h-1zM1116 652h1v1h-1zM1117 653h1v1h-1zM1118 653h1v1h-1zM1119 654h1v1h-1zM1120 653h1v2h-1zM1121 650h1v3h-1zM1122 647h1v3h-1zM1123 644h1v3h-1zM1124 642h1v2h-1zM1125 641h1v1h-1zM1126 641h1v1h-1zM1127 640h1v1h-1zM1128 640h1v1h-1zM1129 640h1v1h-1zM1130 639h1v1h-1zM1131 639h1v1h-1zM1132 639h1v1h-1zM1133 639h1v1h-1zM1134 638h1v1h-1zM1135 638h1v1h-1zM1136 638h1v2h-1zM1137 640h1v3h-1zM1138 643h1v3h-1zM1139 646h1v3h-1zM1140 649h1v2h-1zM1141 649h1v1h-1zM1142 648h1v1h-1zM1143 648h1v1h-1zM1144 647h1v1h-1zM1145 646h1v1h-1zM1146 645h1v1h-1zM1147 645h1v1h-1zM1148 644h1v1h-1zM1149 643h1v1h-1zM1150 642h1v1h-1zM1151 641h1v1h-1zM1152 640h1v1h-1zM1153 641h1v1h-1zM1154 641h1v1h-1zM1155 642h1v1h-1zM1156 642h1v1h-1zM1157 640h1v2h-1zM1158 639h1v1h-1zM1159 637h1v2h-1zM1160 636h1v1h-1zM1161 635h1v1h-1zM1162 634h1v1h-1zM1163 634h1v1h-1zM1164 633h1v1h-1zM1165 634h1v1h-1zM1166 635h1v1h-1zM1167 636h1v1h-1zM1168 637h1v1h-1zM1169 636h1v1h-1zM1170 636h1v1h-1zM1171 635h1v1h-1zM1172 635h1v1h-1zM1173 634h1v1h-1zM1174 633h1v1h-1zM1175 633h1v1h-1zM1176 632h1v1h-1zM1177 633h1v2h-1zM1178 635h1v2h-1zM1179 637h1v2h-1zM1180 639h1v1h-1zM1181 640h1v1h-1zM1182 641h1v1h-1zM1183 641h1v1h-1zM1184 642h1v1h-1zM1185 643h1v2h-1zM1186 645h1v1h-1zM1187 646h1v2h-1zM1188 648h1v1h-1zM1189 649h1v1h-1zM1190 650h1v1h-1zM1191 650h1v1h-1zM1192 651h1v1h-1zM1193 651h1v1h-1zM1194 650h1v1h-1zM1195 650h1v1h-1zM1196 650h1v1h-1z" fill="#1e90ff" shape-rendering="crispEdges"/>
</g>
<text transform="translate(7.59,608) scale(0.9366,1.0)" font-size="10" fill="#000" stroke="#000" stroke-width="0.14">RSI(14)</text>
<text transform="translate(42.54,608) scale(0.9215,1.0)" font-size="10" fill="#000" stroke="#000" stroke-width="0.14">47.8821</text>
<rect x="1504" y="596" width="2" height="1" fill="#000"/>
<rect x="1504" y="698" width="2" height="1" fill="#000"/>
<text transform="translate(1506.58,606) scale(0.9623,1.0)" font-size="10" fill="#000" stroke="#000" stroke-width="0.14">100</text>
<text transform="translate(1505.39,631) scale(0.9907,1.0)" font-size="10" fill="#000" stroke="#000" stroke-width="0.14">70</text>
<text transform="translate(1505.24,672) scale(1.0128,1.0)" font-size="10" fill="#000" stroke="#000" stroke-width="0.14">30</text>
<text transform="translate(1506.40,696) scale(1.1147,1.0)" font-size="10" fill="#000" stroke="#000" stroke-width="0.14">0</text>
<g fill="#c0c0c0" shape-rendering="crispEdges"><rect x="4" y="728" width="1" height="23"/><rect x="8" y="722" width="1" height="29"/><rect x="12" y="722" width="1" height="29"/><rect x="16" y="723" width="1" height="28"/><rect x="20" y="724" width="1" height="27"/><rect x="24" y="727" width="1" height="24"/><rect x="28" y="733" width="1" height="18"/><rect x="32" y="740" width="1" height="11"/><rect x="36" y="746" width="1" height="5"/><rect x="40" y="750" width="1" height="2"/><rect x="44" y="750" width="1" height="6"/><rect x="48" y="750" width="1" height="10"/><rect x="52" y="750" width="1" height="11"/><rect x="56" y="750" width="1" height="13"/><rect x="60" y="750" width="1" height="12"/><rect x="64" y="750" width="1" height="9"/><rect x="68" y="750" width="1" height="5"/><rect x="72" y="750" width="1" height="4"/><rect x="76" y="750" width="1" height="2"/><rect x="80" y="745" width="1" height="6"/><rect x="84" y="741" width="1" height="10"/><rect x="88" y="739" width="1" height="12"/><rect x="92" y="740" width="1" height="11"/><rect x="96" y="743" width="1" height="8"/><rect x="100" y="747" width="1" height="4"/><rect x="104" y="750" width="1" height="4"/><rect x="108" y="750" width="1" height="9"/><rect x="112" y="750" width="1" height="15"/><rect x="116" y="750" width="1" height="23"/><rect x="120" y="750" width="1" height="27"/><rect x="124" y="750" width="1" height="31"/><rect x="128" y="750" width="1" height="35"/><rect x="132" y="750" width="1" height="38"/><rect x="136" y="750" width="1" height="38"/><rect x="140" y="750" width="1" height="36"/><rect x="144" y="750" width="1" height="32"/><rect x="148" y="750" width="1" height="28"/><rect x="152" y="750" width="1" height="24"/><rect x="156" y="750" width="1" height="21"/><rect x="160" y="750" width="1" height="19"/><rect x="164" y="750" width="1" height="17"/><rect x="168" y="750" width="1" height="13"/><rect x="172" y="750" width="1" height="9"/><rect x="176" y="750" width="1" height="5"/><rect x="180" y="750" width="1" height="2"/><rect x="184" y="750" width="1" height="1"/><rect x="188" y="750" width="1" height="4"/><rect x="192" y="750" width="1" height="8"/><rect x="196" y="750" width="1" height="9"/><rect x="200" y="750" width="1" height="18"/><rect x="204" y="750" width="1" height="23"/><rect x="208" y="750" width="1" height="27"/><rect x="212" y="750" width="1" height="31"/><rect x="216" y="750" width="1" height="30"/><rect x="220" y="750" width="1" height="26"/><rect x="224" y="750" width="1" height="23"/><rect x="228" y="750" width="1" height="19"/><rect x="232" y="750" width="1" height="15"/><rect x="236" y="750" width="1" height="11"/><rect x="240" y="750" width="1" height="7"/><rect x="244" y="750" width="1" height="4"/><rect x="248" y="749" width="1" height="2"/><rect x="252" y="750" width="1" height="4"/><rect x="256" y="750" width="1" height="5"/><rect x="260" y="750" width="1" height="5"/><rect x="264" y="750" width="1" height="8"/><rect x="268" y="750" width="1" height="12"/><rect x="272" y="750" width="1" height="16"/><rect x="276" y="750" width="1" height="20"/><rect x="280" y="750" width="1" height="24"/><rect x="284" y="750" width="1" height="27"/><rect x="288" y="750" width="1" height="32"/><rect x="292" y="750" width="1" height="30"/><rect x="296" y="750" width="1" height="30"/><rect x="300" y="750" width="1" height="30"/><rect x="304" y="750" width="1" height="30"/><rect x="308" y="750" width="1" height="25"/><rect x="312" y="750" width="1" height="21"/><rect x="316" y="750" width="1" height="17"/><rect x="320" y="750" width="1" height="15"/><rect x="324" y="750" width="1" height="10"/><rect x="328" y="750" width="1" height="6"/><rect x="332" y="750" width="1" height="3"/><rect x="336" y="750" width="1" height="1"/><rect x="340" y="748" width="1" height="3"/><rect x="344" y="750" width="1" height="2"/><rect x="348" y="750" width="1" height="6"/><rect x="352" y="750" width="1" height="7"/><rect x="356" y="750" width="1" height="7"/><rect x="360" y="750" width="1" height="10"/><rect x="364" y="750" width="1" height="15"/><rect x="368" y="750" width="1" height="22"/><rect x="372" y="750" width="1" height="27"/><rect x="376" y="750" width="1" height="30"/><rect x="380" y="750" width="1" height="31"/><rect x="384" y="750" width="1" height="29"/><rect x="388" y="750" width="1" height="23"/><rect x="392" y="750" width="1" height="23"/><rect x="396" y="750" width="1" height="23"/><rect x="400" y="750" width="1" height="22"/><rect x="404" y="750" width="1" height="20"/><rect x="408" y="750" width="1" height="21"/><rect x="412" y="750" width="1" height="19"/><rect x="416" y="750" width="1" height="15"/><rect x="420" y="750" width="1" height="11"/><rect x="424" y="750" width="1" height="8"/><rect x="428" y="750" width="1" height="6"/><rect x="432" y="750" width="1" height="7"/><rect x="436" y="750" width="1" height="7"/><rect x="440" y="750" width="1" height="9"/><rect x="444" y="750" width="1" height="12"/><rect x="448" y="750" width="1" height="15"/><rect x="452" y="750" width="1" height="16"/><rect x="456" y="750" width="1" height="17"/><rect x="460" y="750" width="1" height="18"/><rect x="464" y="750" width="1" height="18"/><rect x="468" y="750" width="1" height="15"/><rect x="472" y="750" width="1" height="12"/><rect x="476" y="750" width="1" height="10"/><rect x="480" y="750" width="1" height="11"/><rect x="484" y="750" width="1" height="14"/><rect x="488" y="750" width="1" height="16"/><rect x="492" y="750" width="1" height="17"/><rect x="496" y="750" width="1" height="15"/><rect x="500" y="750" width="1" height="11"/><rect x="504" y="750" width="1" height="5"/><rect x="508" y="749" width="1" height="2"/><rect x="512" y="741" width="1" height="10"/><rect x="516" y="733" width="1" height="18"/><rect x="520" y="725" width="1" height="26"/><rect x="524" y="721" width="1" height="30"/><rect x="528" y="718" width="1" height="33"/><rect x="532" y="717" width="1" height="34"/><rect x="536" y="719" width="1" height="32"/><rect x="540" y="726" width="1" height="25"/><rect x="544" y="733" width="1" height="18"/><rect x="548" y="736" width="1" height="15"/><rect x="552" y="741" width="1" height="10"/><rect x="556" y="744" width="1" height="7"/><rect x="560" y="741" width="1" height="10"/><rect x="564" y="735" width="1" height="16"/><rect x="568" y="727" width="1" height="24"/><rect x="572" y="719" width="1" height="32"/><rect x="576" y="714" width="1" height="37"/><rect x="580" y="710" width="1" height="41"/><rect x="584" y="709" width="1" height="42"/><rect x="588" y="708" width="1" height="43"/><rect x="592" y="708" width="1" height="43"/><rect x="596" y="714" width="1" height="37"/><rect x="600" y="719" width="1" height="32"/><rect x="604" y="726" width="1" height="25"/><rect x="608" y="731" width="1" height="20"/><rect x="612" y="741" width="1" height="10"/><rect x="616" y="748" width="1" height="3"/><rect x="620" y="750" width="1" height="5"/><rect x="624" y="750" width="1" height="10"/><rect x="628" y="750" width="1" height="10"/><rect x="632" y="750" width="1" height="10"/><rect x="636" y="750" width="1" height="10"/><rect x="640" y="750" width="1" height="8"/><rect x="644" y="750" width="1" height="8"/><rect x="648" y="750" width="1" height="12"/><rect x="652" y="750" width="1" height="13"/><rect x="656" y="750" width="1" height="14"/><rect x="660" y="750" width="1" height="15"/><rect x="664" y="750" width="1" height="16"/><rect x="668" y="750" width="1" height="17"/><rect x="672" y="750" width="1" height="23"/><rect x="676" y="750" width="1" height="28"/><rect x="680" y="750" width="1" height="30"/><rect x="684" y="750" width="1" height="35"/><rect x="688" y="750" width="1" height="37"/><rect x="692" y="750" width="1" height="37"/><rect x="696" y="750" width="1" height="37"/><rect x="700" y="750" width="1" height="38"/><rect x="704" y="750" width="1" height="43"/><rect x="708" y="750" width="1" height="43"/><rect x="712" y="750" width="1" height="43"/><rect x="716" y="750" width="1" height="35"/><rect x="720" y="750" width="1" height="28"/><rect x="724" y="750" width="1" height="19"/><rect x="728" y="750" width="1" height="15"/><rect x="732" y="750" width="1" height="10"/><rect x="736" y="750" width="1" height="7"/><rect x="740" y="750" width="1" height="5"/><rect x="744" y="750" width="1" height="5"/><rect x="748" y="750" width="1" height="8"/><rect x="752" y="750" width="1" height="15"/><rect x="756" y="750" width="1" height="20"/><rect x="760" y="750" width="1" height="23"/><rect x="764" y="750" width="1" height="26"/><rect x="768" y="750" width="1" height="28"/><rect x="772" y="750" width="1" height="28"/><rect x="776" y="750" width="1" height="29"/><rect x="780" y="750" width="1" height="25"/><rect x="784" y="750" width="1" height="22"/><rect x="788" y="750" width="1" height="22"/><rect x="792" y="750" width="1" height="23"/><rect x="796" y="750" width="1" height="24"/><rect x="800" y="750" width="1" height="27"/><rect x="804" y="750" width="1" height="34"/><rect x="808" y="750" width="1" height="41"/><rect x="812" y="750" width="1" height="46"/><rect x="816" y="750" width="1" height="50"/><rect x="820" y="750" width="1" height="48"/><rect x="824" y="750" width="1" height="44"/><rect x="828" y="750" width="1" height="41"/><rect x="832" y="750" width="1" height="39"/><rect x="836" y="750" width="1" height="34"/><rect x="840" y="750" width="1" height="32"/><rect x="844" y="750" width="1" height="32"/><rect x="848" y="750" width="1" height="27"/><rect x="852" y="750" width="1" height="22"/><rect x="856" y="750" width="1" height="19"/><rect x="860" y="750" width="1" height="21"/><rect x="864" y="750" width="1" height="18"/><rect x="868" y="750" width="1" height="16"/><rect x="872" y="750" width="1" height="15"/><rect x="876" y="750" width="1" height="17"/><rect x="880" y="750" width="1" height="18"/><rect x="884" y="750" width="1" height="21"/><rect x="888" y="750" width="1" height="20"/><rect x="892" y="750" width="1" height="25"/><rect x="896" y="750" width="1" height="30"/><rect x="900" y="750" width="1" height="33"/><rect x="904" y="750" width="1" height="35"/><rect x="908" y="750" width="1" height="39"/><rect x="912" y="750" width="1" height="40"/><rect x="916" y="750" width="1" height="38"/><rect x="920" y="750" width="1" height="33"/><rect x="924" y="750" width="1" height="30"/><rect x="928" y="750" width="1" height="27"/><rect x="932" y="750" width="1" height="24"/><rect x="936" y="750" width="1" height="24"/><rect x="940" y="750" width="1" height="22"/><rect x="944" y="750" width="1" height="17"/><rect x="948" y="750" width="1" height="10"/><rect x="952" y="750" width="1" height="5"/><rect x="956" y="750" width="1" height="2"/><rect x="960" y="749" width="1" height="2"/><rect x="964" y="743" width="1" height="8"/><rect x="968" y="734" width="1" height="17"/><rect x="972" y="726" width="1" height="25"/><rect x="976" y="719" width="1" height="32"/><rect x="980" y="715" width="1" height="36"/><rect x="984" y="713" width="1" height="38"/><rect x="988" y="713" width="1" height="38"/><rect x="992" y="716" width="1" height="35"/><rect x="996" y="719" width="1" height="32"/><rect x="1000" y="723" width="1" height="28"/><rect x="1004" y="725" width="1" height="26"/><rect x="1008" y="724" width="1" height="27"/><rect x="1012" y="724" width="1" height="27"/><rect x="1016" y="721" width="1" height="30"/><rect x="1020" y="719" width="1" height="32"/><rect x="1024" y="717" width="1" height="34"/><rect x="1028" y="717" width="1" height="34"/><rect x="1032" y="724" width="1" height="27"/><rect x="1036" y="730" width="1" height="21"/><rect x="1040" y="737" width="1" height="14"/><rect x="1044" y="744" width="1" height="7"/><rect x="1048" y="750" width="1" height="2"/><rect x="1052" y="750" width="1" height="5"/><rect x="1056" y="750" width="1" height="10"/><rect x="1060" y="750" width="1" height="13"/><rect x="1064" y="750" width="1" height="17"/><rect x="1068" y="750" width="1" height="15"/><rect x="1072" y="750" width="1" height="13"/><rect x="1076" y="750" width="1" height="10"/><rect x="1080" y="750" width="1" height="7"/><rect x="1084" y="750" width="1" height="6"/><rect x="1088" y="750" width="1" height="4"/><rect x="1092" y="750" width="1" height="6"/><rect x="1096" y="750" width="1" height="9"/><rect x="1100" y="750" width="1" height="11"/><rect x="1104" y="750" width="1" height="13"/><rect x="1108" y="750" width="1" height="16"/><rect x="1112" y="750" width="1" height="17"/><rect x="1116" y="750" width="1" height="16"/><rect x="1120" y="750" width="1" height="16"/><rect x="1124" y="750" width="1" height="11"/><rect x="1128" y="750" width="1" height="7"/><rect x="1132" y="750" width="1" height="2"/><rect x="1136" y="748" width="1" height="3"/><rect x="1140" y="749" width="1" height="2"/><rect x="1144" y="749" width="1" height="2"/><rect x="1148" y="748" width="1" height="3"/><rect x="1152" y="745" width="1" height="6"/><rect x="1156" y="744" width="1" height="7"/><rect x="1160" y="740" width="1" height="11"/><rect x="1164" y="736" width="1" height="15"/><rect x="1168" y="734" width="1" height="17"/><rect x="1172" y="731" width="1" height="20"/><rect x="1176" y="728" width="1" height="23"/><rect x="1180" y="728" width="1" height="23"/><rect x="1184" y="729" width="1" height="22"/><rect x="1188" y="732" width="1" height="19"/><rect x="1192" y="736" width="1" height="15"/><rect x="1196" y="739" width="1" height="12"/></g>
<path d="M4 734h1v1h-1zM5 734h1v1h-1zM6 733h1v1h-1zM10 732h1v1h-1zM11 732h1v1h-1zM12 732h1v1h-1zM16 731h1v1h-1zM17 731h1v1h-1zM18 730h1v1h-1zM22 729h1v1h-1zM23 728h1v1h-1zM24 728h1v1h-1zM28 728h1v1h-1zM29 728h1v1h-1zM30 728h1v1h-1zM34 729h1v1h-1zM35 730h1v1h-1zM36 730h1v1h-1zM40 732h1v1h-1zM41 733h1v1h-1zM42 734h1v1h-1zM46 738h1v1h-1zM47 739h1v1h-1zM48 740h1v1h-1zM52 744h1v1h-1zM53 745h1v1h-1zM54 746h1v1h-1zM58 750h1v1h-1zM59 751h1v1h-1zM60 752h1v1h-1zM64 755h1v1h-1zM65 755h1v1h-1zM66 756h1v1h-1zM70 757h1v1h-1zM71 757h1v1h-1zM72 757h1v1h-1zM76 757h1v1h-1zM77 757h1v1h-1zM78 756h1v1h-1zM82 755h1v1h-1zM83 754h1v1h-1zM84 754h1v1h-1zM88 752h1v1h-1zM89 751h1v1h-1zM90 750h1v1h-1zM94 748h1v1h-1zM95 747h1v1h-1zM96 747h1v1h-1zM100 746h1v1h-1zM101 746h1v1h-1zM102 746h1v1h-1zM106 746h1v1h-1zM107 746h1v1h-1zM108 746h1v1h-1zM112 748h1v1h-1zM113 749h1v1h-1zM114 750h1v1h-1zM118 753h1v1h-1zM119 754h1v1h-1zM120 755h1v1h-1zM124 759h1v1h-1zM125 760h1v1h-1zM126 761h1v1h-1zM129 765h1v1h-1zM130 766h1v2h-1zM134 771h1v1h-1zM135 772h1v1h-1zM136 773h1v1h-1zM140 777h1v1h-1zM141 778h1v1h-1zM142 778h1v1h-1zM146 780h1v1h-1zM147 781h1v1h-1zM148 781h1v1h-1zM152 781h1v1h-1zM153 781h1v1h-1zM154 780h1v1h-1zM158 779h1v1h-1zM159 779h1v1h-1zM160 779h1v1h-1zM164 777h1v1h-1zM165 776h1v1h-1zM166 775h1v1h-1zM170 772h1v1h-1zM171 772h1v1h-1zM172 771h1v1h-1zM176 768h1v1h-1zM177 767h1v1h-1zM178 766h1v1h-1zM182 762h1v1h-1zM183 762h1v1h-1zM184 761h1v1h-1zM188 759h1v1h-1zM189 759h1v1h-1zM190 758h1v1h-1zM194 757h1v1h-1zM195 757h1v1h-1zM196 757h1v1h-1zM200 757h1v1h-1zM201 757h1v1h-1zM202 758h1v1h-1zM206 759h1v1h-1zM207 760h1v1h-1zM208 760h1v1h-1zM212 763h1v1h-1zM213 764h1v1h-1zM214 765h1v1h-1zM218 768h1v1h-1zM219 768h1v1h-1zM220 769h1v1h-1zM224 771h1v1h-1zM225 771h1v1h-1zM226 772h1v1h-1zM230 773h1v1h-1zM231 773h1v1h-1zM232 773h1v1h-1zM236 772h1v1h-1zM237 771h1v1h-1zM238 771h1v1h-1zM242 768h1v1h-1zM243 768h1v1h-1zM244 767h1v1h-1zM248 764h1v1h-1zM249 763h1v1h-1zM250 762h1v1h-1zM254 760h1v1h-1zM255 759h1v1h-1zM256 759h1v1h-1zM260 757h1v1h-1zM261 757h1v1h-1zM262 756h1v1h-1zM266 755h1v1h-1zM267 755h1v1h-1zM268 755h1v1h-1zM272 756h1v1h-1zM273 756h1v1h-1zM274 757h1v1h-1zM278 758h1v1h-1zM279 759h1v1h-1zM280 759h1v1h-1zM284 762h1v1h-1zM285 763h1v1h-1zM286 764h1v1h-1zM290 767h1v1h-1zM291 768h1v1h-1zM292 768h1v1h-1zM296 771h1v1h-1zM297 772h1v1h-1zM298 773h1v1h-1zM302 775h1v1h-1zM303 776h1v1h-1zM304 776h1v1h-1zM308 777h1v1h-1zM309 777h1v1h-1zM310 777h1v1h-1zM314 776h1v1h-1zM315 776h1v1h-1zM316 776h1v1h-1zM320 775h1v1h-1zM321 774h1v1h-1zM322 773h1v1h-1zM326 771h1v1h-1zM327 770h1v1h-1zM328 770h1v1h-1zM332 766h1v1h-1zM333 765h1v1h-1zM334 764h1v1h-1zM338 761h1v1h-1zM339 761h1v1h-1zM340 760h1v1h-1zM344 757h1v1h-1zM345 757h1v1h-1zM346 756h1v1h-1zM350 755h1v1h-1zM351 754h1v1h-1zM352 754h1v1h-1zM356 754h1v1h-1zM357 754h1v1h-1zM358 754h1v1h-1zM362 755h1v1h-1zM363 755h1v1h-1zM364 755h1v1h-1zM368 757h1v1h-1zM369 758h1v1h-1zM370 759h1v1h-1zM374 762h1v1h-1zM375 762h1v1h-1zM376 763h1v1h-1zM380 766h1v1h-1zM381 767h1v1h-1zM382 768h1v1h-1zM386 770h1v1h-1zM387 770h1v1h-1zM388 770h1v1h-1zM392 772h1v1h-1zM393 773h1v1h-1zM394 773h1v1h-1zM398 774h1v1h-1zM399 774h1v1h-1zM400 774h1v1h-1zM404 774h1v1h-1zM405 774h1v1h-1zM406 774h1v1h-1zM410 773h1v1h-1zM411 772h1v1h-1zM412 772h1v1h-1zM416 771h1v1h-1zM417 770h1v1h-1zM418 770h1v1h-1zM422 768h1v1h-1zM423 767h1v1h-1zM424 767h1v1h-1zM428 765h1v1h-1zM429 764h1v1h-1zM430 764h1v1h-1zM434 762h1v1h-1zM435 762h1v1h-1zM436 762h1v1h-1zM440 760h1v1h-1zM441 760h1v1h-1zM442 759h1v1h-1zM446 759h1v1h-1zM447 759h1v1h-1zM448 759h1v1h-1zM452 759h1v1h-1zM453 759h1v1h-1zM454 760h1v1h-1zM458 761h1v1h-1zM459 761h1v1h-1zM460 761h1v1h-1zM464 762h1v1h-1zM465 762h1v1h-1zM466 763h1v1h-1zM470 764h1v1h-1zM471 764h1v1h-1zM472 764h1v1h-1zM476 764h1v1h-1zM477 764h1v1h-1zM478 764h1v1h-1zM482 764h1v1h-1zM483 764h1v1h-1zM484 764h1v1h-1zM488 764h1v1h-1zM489 764h1v1h-1zM490 764h1v1h-1zM494 763h1v1h-1zM495 763h1v1h-1zM496 763h1v1h-1zM500 762h1v1h-1zM501 762h1v1h-1zM502 761h1v1h-1zM506 760h1v1h-1zM507 760h1v1h-1zM508 760h1v1h-1zM512 758h1v1h-1zM513 757h1v1h-1zM514 756h1v1h-1zM518 753h1v1h-1zM519 752h1v1h-1zM520 751h1v1h-1zM523 747h1v1h-1zM524 746h1v1h-1zM525 745h1v1h-1zM528 741h1v1h-1zM529 740h1v1h-1zM530 739h1v1h-1zM533 735h1v1h-1zM534 733h1v2h-1zM538 729h1v1h-1zM539 729h1v1h-1zM540 728h1v1h-1zM544 726h1v1h-1zM545 726h1v1h-1zM546 725h1v1h-1zM550 726h1v1h-1zM551 726h1v1h-1zM552 726h1v1h-1zM556 728h1v1h-1zM557 729h1v1h-1zM558 730h1v1h-1zM562 732h1v1h-1zM563 732h1v1h-1zM564 732h1v1h-1zM568 733h1v1h-1zM569 733h1v1h-1zM570 733h1v1h-1zM574 732h1v1h-1zM575 732h1v1h-1zM576 732h1v1h-1zM580 730h1v1h-1zM581 729h1v1h-1zM582 728h1v1h-1zM586 725h1v1h-1zM587 724h1v1h-1zM588 723h1v1h-1zM592 719h1v1h-1zM593 718h1v1h-1zM594 717h1v1h-1zM598 715h1v1h-1zM599 714h1v1h-1zM600 714h1v1h-1zM604 714h1v1h-1zM605 714h1v1h-1zM606 715h1v1h-1zM610 717h1v1h-1zM611 717h1v1h-1zM612 718h1v1h-1zM615 722h1v1h-1zM616 723h1v1h-1zM617 724h1v1h-1zM620 728h1v1h-1zM621 729h1v1h-1zM622 730h1v1h-1zM625 734h1v2h-1zM626 736h1v1h-1zM629 740h1v1h-1zM630 741h1v2h-1zM634 746h1v1h-1zM635 747h1v1h-1zM636 748h1v1h-1zM640 752h1v1h-1zM641 753h1v1h-1zM642 754h1v1h-1zM646 756h1v1h-1zM647 757h1v1h-1zM648 757h1v1h-1zM652 759h1v1h-1zM653 759h1v1h-1zM654 760h1v1h-1zM658 760h1v1h-1zM659 760h1v1h-1zM660 760h1v1h-1zM664 761h1v1h-1zM665 761h1v1h-1zM666 762h1v1h-1zM670 763h1v1h-1zM671 763h1v1h-1zM672 763h1v1h-1zM676 765h1v1h-1zM677 766h1v1h-1zM678 767h1v1h-1zM682 769h1v1h-1zM683 770h1v1h-1zM684 770h1v1h-1zM688 773h1v1h-1zM689 774h1v1h-1zM690 775h1v1h-1zM694 777h1v1h-1zM695 778h1v1h-1zM696 778h1v1h-1zM700 780h1v1h-1zM701 781h1v1h-1zM702 782h1v1h-1zM706 784h1v1h-1zM707 785h1v1h-1zM708 785h1v1h-1zM712 787h1v1h-1zM713 787h1v1h-1zM714 788h1v1h-1zM718 787h1v1h-1zM719 787h1v1h-1zM720 787h1v1h-1zM724 785h1v1h-1zM725 784h1v1h-1zM726 783h1v1h-1zM730 780h1v1h-1zM731 780h1v1h-1zM732 779h1v1h-1zM736 776h1v1h-1zM737 775h1v1h-1zM738 774h1v1h-1zM742 769h1v2h-1zM743 768h1v1h-1zM747 765h1v1h-1zM748 764h1v1h-1zM749 763h1v1h-1zM753 761h1v1h-1zM754 761h1v1h-1zM755 761h1v1h-1zM759 761h1v1h-1zM760 761h1v1h-1zM761 761h1v1h-1zM765 763h1v1h-1zM766 763h1v1h-1zM767 764h1v1h-1zM771 766h1v1h-1zM772 766h1v1h-1zM773 767h1v1h-1zM777 770h1v1h-1zM778 771h1v1h-1zM779 771h1v1h-1zM783 773h1v1h-1zM784 773h1v1h-1zM785 773h1v1h-1zM789 774h1v1h-1zM790 774h1v1h-1zM791 774h1v1h-1zM795 774h1v1h-1zM796 774h1v1h-1zM797 774h1v1h-1zM801 774h1v1h-1zM802 775h1v1h-1zM803 775h1v1h-1zM807 776h1v1h-1zM808 776h1v1h-1zM809 777h1v1h-1zM813 779h1v1h-1zM814 780h1v1h-1zM815 780h1v1h-1zM819 783h1v1h-1zM820 784h1v1h-1zM821 785h1v1h-1zM825 787h1v1h-1zM826 788h1v1h-1zM827 788h1v1h-1zM831 790h1v1h-1zM832 790h1v1h-1zM833 790h1v1h-1zM837 791h1v1h-1zM838 791h1v1h-1zM839 791h1v1h-1zM843 790h1v1h-1zM844 790h1v1h-1zM845 789h1v1h-1zM849 787h1v1h-1zM850 786h1v1h-1zM851 785h1v1h-1zM855 782h1v1h-1zM856 781h1v1h-1zM857 780h1v1h-1zM861 778h1v1h-1zM862 777h1v1h-1zM863 777h1v1h-1zM867 774h1v1h-1zM868 774h1v1h-1zM869 773h1v1h-1zM873 771h1v1h-1zM874 770h1v1h-1zM875 770h1v1h-1zM879 768h1v1h-1zM880 768h1v1h-1zM881 768h1v1h-1zM885 767h1v1h-1zM886 767h1v1h-1zM887 767h1v1h-1zM891 768h1v1h-1zM892 768h1v1h-1zM893 768h1v1h-1zM897 770h1v1h-1zM898 770h1v1h-1zM899 771h1v1h-1zM903 773h1v1h-1zM904 773h1v1h-1zM905 774h1v1h-1zM909 776h1v1h-1zM910 777h1v1h-1zM911 777h1v1h-1zM915 780h1v1h-1zM916 780h1v1h-1zM917 781h1v1h-1zM921 782h1v1h-1zM922 783h1v1h-1zM923 783h1v1h-1zM927 783h1v1h-1zM928 783h1v1h-1zM929 783h1v1h-1zM933 782h1v1h-1zM934 781h1v1h-1zM935 781h1v1h-1zM939 780h1v1h-1zM940 780h1v1h-1zM941 779h1v1h-1zM945 776h1v1h-1zM946 775h1v1h-1zM947 775h1v1h-1zM951 771h1v1h-1zM952 770h1v1h-1zM953 769h1v1h-1zM957 766h1v1h-1zM958 765h1v1h-1zM959 765h1v1h-1zM963 761h1v1h-1zM964 760h1v1h-1zM965 759h1v1h-1zM969 754h1v2h-1zM970 753h1v1h-1zM973 749h1v1h-1zM974 747h1v2h-1zM977 743h1v1h-1zM978 742h1v1h-1zM979 741h1v1h-1zM982 736h1v2h-1zM983 735h1v1h-1zM986 731h1v1h-1zM987 730h1v1h-1zM988 729h1v1h-1zM992 725h1v1h-1zM993 724h1v1h-1zM994 723h1v1h-1zM998 721h1v1h-1zM999 720h1v1h-1zM1000 720h1v1h-1zM1004 719h1v1h-1zM1005 719h1v1h-1zM1006 718h1v1h-1zM1010 719h1v1h-1zM1011 719h1v1h-1zM1012 719h1v1h-1zM1016 720h1v1h-1zM1017 720h1v1h-1zM1018 720h1v1h-1zM1022 721h1v1h-1zM1023 721h1v1h-1zM1024 721h1v1h-1zM1028 721h1v1h-1zM1029 721h1v1h-1zM1030 722h1v1h-1zM1034 722h1v1h-1zM1035 722h1v1h-1zM1036 722h1v1h-1zM1040 724h1v1h-1zM1041 725h1v1h-1zM1042 725h1v1h-1zM1046 728h1v1h-1zM1047 728h1v1h-1zM1048 729h1v1h-1zM1052 732h1v1h-1zM1053 733h1v1h-1zM1054 734h1v1h-1zM1057 738h1v1h-1zM1058 739h1v2h-1zM1062 744h1v2h-1zM1063 746h1v1h-1zM1066 750h1v1h-1zM1067 751h1v1h-1zM1068 752h1v1h-1zM1072 755h1v1h-1zM1073 756h1v1h-1zM1074 757h1v1h-1zM1078 759h1v1h-1zM1079 759h1v1h-1zM1080 759h1v1h-1zM1084 760h1v1h-1zM1085 760h1v1h-1zM1086 760h1v1h-1zM1090 759h1v1h-1zM1091 759h1v1h-1zM1092 759h1v1h-1zM1096 759h1v1h-1zM1097 759h1v1h-1zM1098 758h1v1h-1zM1102 758h1v1h-1zM1103 758h1v1h-1zM1104 758h1v1h-1zM1108 758h1v1h-1zM1109 758h1v1h-1zM1110 759h1v1h-1zM1114 760h1v1h-1zM1115 760h1v1h-1zM1116 760h1v1h-1zM1120 761h1v1h-1zM1121 761h1v1h-1zM1122 762h1v1h-1zM1126 762h1v1h-1zM1127 762h1v1h-1zM1128 762h1v1h-1zM1132 761h1v1h-1zM1133 761h1v1h-1zM1134 760h1v1h-1zM1138 759h1v1h-1zM1139 758h1v1h-1zM1140 758h1v1h-1zM1144 757h1v1h-1zM1145 756h1v1h-1zM1146 756h1v1h-1zM1150 753h1v1h-1zM1151 753h1v1h-1zM1152 752h1v1h-1zM1156 750h1v1h-1zM1157 749h1v1h-1zM1158 749h1v1h-1zM1162 747h1v1h-1zM1163 746h1v1h-1zM1164 746h1v1h-1zM1168 744h1v1h-1zM1169 743h1v1h-1zM1170 743h1v1h-1zM1174 740h1v1h-1zM1175 740h1v1h-1zM1176 739h1v1h-1zM1180 737h1v1h-1zM1181 736h1v1h-1zM1182 736h1v1h-1zM1186 734h1v1h-1zM1187 733h1v1h-1zM1188 733h1v1h-1zM1192 733h1v1h-1zM1193 733h1v1h-1zM1194 732h1v1h-1z" fill="#ff0000" shape-rendering="crispEdges"/>
<text transform="translate(7.91,714) scale(0.9499,1.0)" font-size="10" fill="#000" stroke="#000" stroke-width="0.14">MACD(12,26,9)</text>
<text transform="translate(76.23,714) scale(0.9303,1.0)" font-size="10" fill="#000" stroke="#000" stroke-width="0.14">0.001036</text>
<text transform="translate(117.27,714) scale(0.9234,1.0)" font-size="10" fill="#000" stroke="#000" stroke-width="0.14">0.001727</text>
<rect x="1504" y="703" width="2" height="1" fill="#000"/>
<rect x="1504" y="750" width="2" height="1" fill="#000"/>
<rect x="1504" y="803" width="2" height="1" fill="#000"/>
<rect x="1505" y="703" width="40" height="0" fill="#fff"/>
<text transform="translate(1506.29,712) scale(0.9404,1.0)" font-size="10" fill="#000" stroke="#000" stroke-width="0.14">0.00463</text>
<text transform="translate(1506.50,754) scale(0.9479,1.0)" font-size="10" fill="#000" stroke="#000" stroke-width="0.14">0.00</text>
<text transform="translate(1507.00,801) scale(0.9200,1.0)" font-size="10" fill="#000" stroke="#000" stroke-width="0.14">-0.005299</text>
<rect x="4" y="805" width="1" height="3" fill="#000"/>
<text transform="translate(2.34,817) scale(0.9229,1.0)" font-size="10" fill="#000" stroke="#000" stroke-width="0.14">9 Jan 2019</text>
<rect x="68" y="805" width="1" height="3" fill="#000"/>
<text transform="translate(66.93,817) scale(0.9058,1.0)" font-size="10" fill="#000" stroke="#000" stroke-width="0.14">28 Jan 2019</text>
<rect x="132" y="805" width="1" height="3" fill="#000"/>
<text transform="translate(130.72,817) scale(0.9303,1.0)" font-size="10" fill="#000" stroke="#000" stroke-width="0.14">15 Feb 2019</text>
<rect x="196" y="805" width="1" height="3" fill="#000"/>
<text transform="translate(194.37,817) scale(0.9343,1.0)" font-size="10" fill="#000" stroke="#000" stroke-width="0.14">6 Mar 2019</text>
<rect x="260" y="805" width="1" height="3" fill="#000"/>
<text transform="translate(258.29,817) scale(0.9446,1.0)" font-size="10" fill="#000" stroke="#000" stroke-width="0.14">25 Mar 2019</text>
<rect x="324" y="805" width="1" height="3" fill="#000"/>
<text transform="translate(322.40,817) scale(0.9582,1.0)" font-size="10" fill="#000" stroke="#000" stroke-width="0.14">12 Apr 2019</text>
<rect x="388" y="805" width="1" height="3" fill="#000"/>
<text transform="translate(386.89,817) scale(0.9637,1.0)" font-size="10" fill="#000" stroke="#000" stroke-width="0.14">1 May 2019</text>
<rect x="452" y="805" width="1" height="3" fill="#000"/>
<text transform="translate(450.88,817) scale(0.9501,1.0)" font-size="10" fill="#000" stroke="#000" stroke-width="0.14">20 May 2019</text>
<rect x="516" y="805" width="1" height="3" fill="#000"/>
<text transform="translate(514.16,817) scale(0.9331,1.0)" font-size="10" fill="#000" stroke="#000" stroke-width="0.14">7 Jun 2019</text>
<rect x="580" y="805" width="1" height="3" fill="#000"/>
<text transform="translate(578.56,817) scale(0.9169,1.0)" font-size="10" fill="#000" stroke="#000" stroke-width="0.14">26 Jun 2019</text>
<rect x="644" y="805" width="1" height="3" fill="#000"/>
<text transform="translate(642.37,817) scale(0.9232,1.0)" font-size="10" fill="#000" stroke="#000" stroke-width="0.14">15 Jul 2019</text>
<rect x="708" y="805" width="1" height="3" fill="#000"/>
<text transform="translate(706.74,817) scale(0.9521,1.0)" font-size="10" fill="#000" stroke="#000" stroke-width="0.14">2 Aug 2019</text>
<rect x="772" y="805" width="1" height="3" fill="#000"/>
<text transform="translate(770.91,817) scale(0.9392,1.0)" font-size="10" fill="#000" stroke="#000" stroke-width="0.14">21 Aug 2019</text>
<rect x="836" y="805" width="1" height="3" fill="#000"/>
<text transform="translate(834.61,817) scale(0.9246,1.0)" font-size="10" fill="#000" stroke="#000" stroke-width="0.14">9 Sep 2019</text>
<rect x="900" y="805" width="1" height="3" fill="#000"/>
<text transform="translate(898.92,817) scale(0.9184,1.0)" font-size="10" fill="#000" stroke="#000" stroke-width="0.14">27 Sep 2019</text>
<rect x="964" y="805" width="1" height="3" fill="#000"/>
<text transform="translate(962.38,817) scale(0.9451,1.0)" font-size="10" fill="#000" stroke="#000" stroke-width="0.14">16 Oct 2019</text>
<rect x="1028" y="805" width="1" height="3" fill="#000"/>
<text transform="translate(1026.38,817) scale(0.9720,1.0)" font-size="10" fill="#000" stroke="#000" stroke-width="0.14">4 Nov 2019</text>
<rect x="1092" y="805" width="1" height="3" fill="#000"/>
<text transform="translate(1090.58,817) scale(0.9668,1.0)" font-size="10" fill="#000" stroke="#000" stroke-width="0.14">22 Nov 2019</text>
<rect x="1156" y="805" width="1" height="3" fill="#000"/>
<text transform="translate(1154.37,817) scale(0.9342,1.0)" font-size="10" fill="#000" stroke="#000" stroke-width="0.14">11 Dec 2019</text>
<rect x="0" y="825" width="1545" height="1" fill="#e6e6e6"/>
<rect x="0" y="826" width="1545" height="26" fill="#f0f0f0"/>
<rect x="0" y="826" width="109" height="1" fill="#ffffff"/>
<rect x="0" y="827" width="6" height="1" fill="#000"/>
<rect x="108" y="827" width="1437" height="1" fill="#000"/>
<rect x="109" y="828" width="1436" height="1" fill="#fafafa"/>
<rect x="6" y="826" width="102" height="19" fill="#ffffff"/>
<rect x="5" y="827" width="1" height="19" fill="#000"/>
<rect x="108" y="827" width="1" height="19" fill="#000"/>
<rect x="5" y="845" width="104" height="1" fill="#000"/>
<rect x="0" y="828" width="1" height="18" fill="#696969"/>
<rect x="6" y="846" width="1539" height="1" fill="#dcdcdc"/>
<rect x="0" y="847" width="1545" height="1" fill="#ffffff"/>
<rect x="0" y="850" width="1545" height="1" fill="#cfcfcf"/>
<rect x="0" y="851" width="1545" height="1" fill="#a0a0a0"/>
<text transform="translate(16.75,842) scale(0.9960,1.0)" font-size="12" fill="#000">EURUSD,Daily</text>
<text transform="translate(117.48,842) scale(1.0327,1.0)" font-size="12" fill="#6d6d6d">USDCHF,Daily</text>
<text transform="translate(219.22,842) scale(1.0343,1.0)" font-size="12" fill="#6d6d6d">AUDUSD,Daily</text>
<text transform="translate(323.21,842) scale(1.0240,1.0)" font-size="12" fill="#6d6d6d">USDCAD,Daily</text>
<text transform="translate(425.52,842) scale(1.0484,1.0)" font-size="12" fill="#6d6d6d">USDCNH,Daily</text>
<rect x="209" y="830" width="1" height="14" fill="#6d6d6d"/>
<rect x="313" y="830" width="1" height="14" fill="#6d6d6d"/>
<rect x="417" y="830" width="1" height="14" fill="#6d6d6d"/>
<rect x="521" y="830" width="1" height="14" fill="#6d6d6d"/>
<polygon points="1522.6,833 1522.6,840 1519,836.5" fill="#8a8a8a"/>
<polygon points="1537.4,833 1537.4,840 1541,836.5" fill="#8a8a8a"/></svg>
</body></html>
